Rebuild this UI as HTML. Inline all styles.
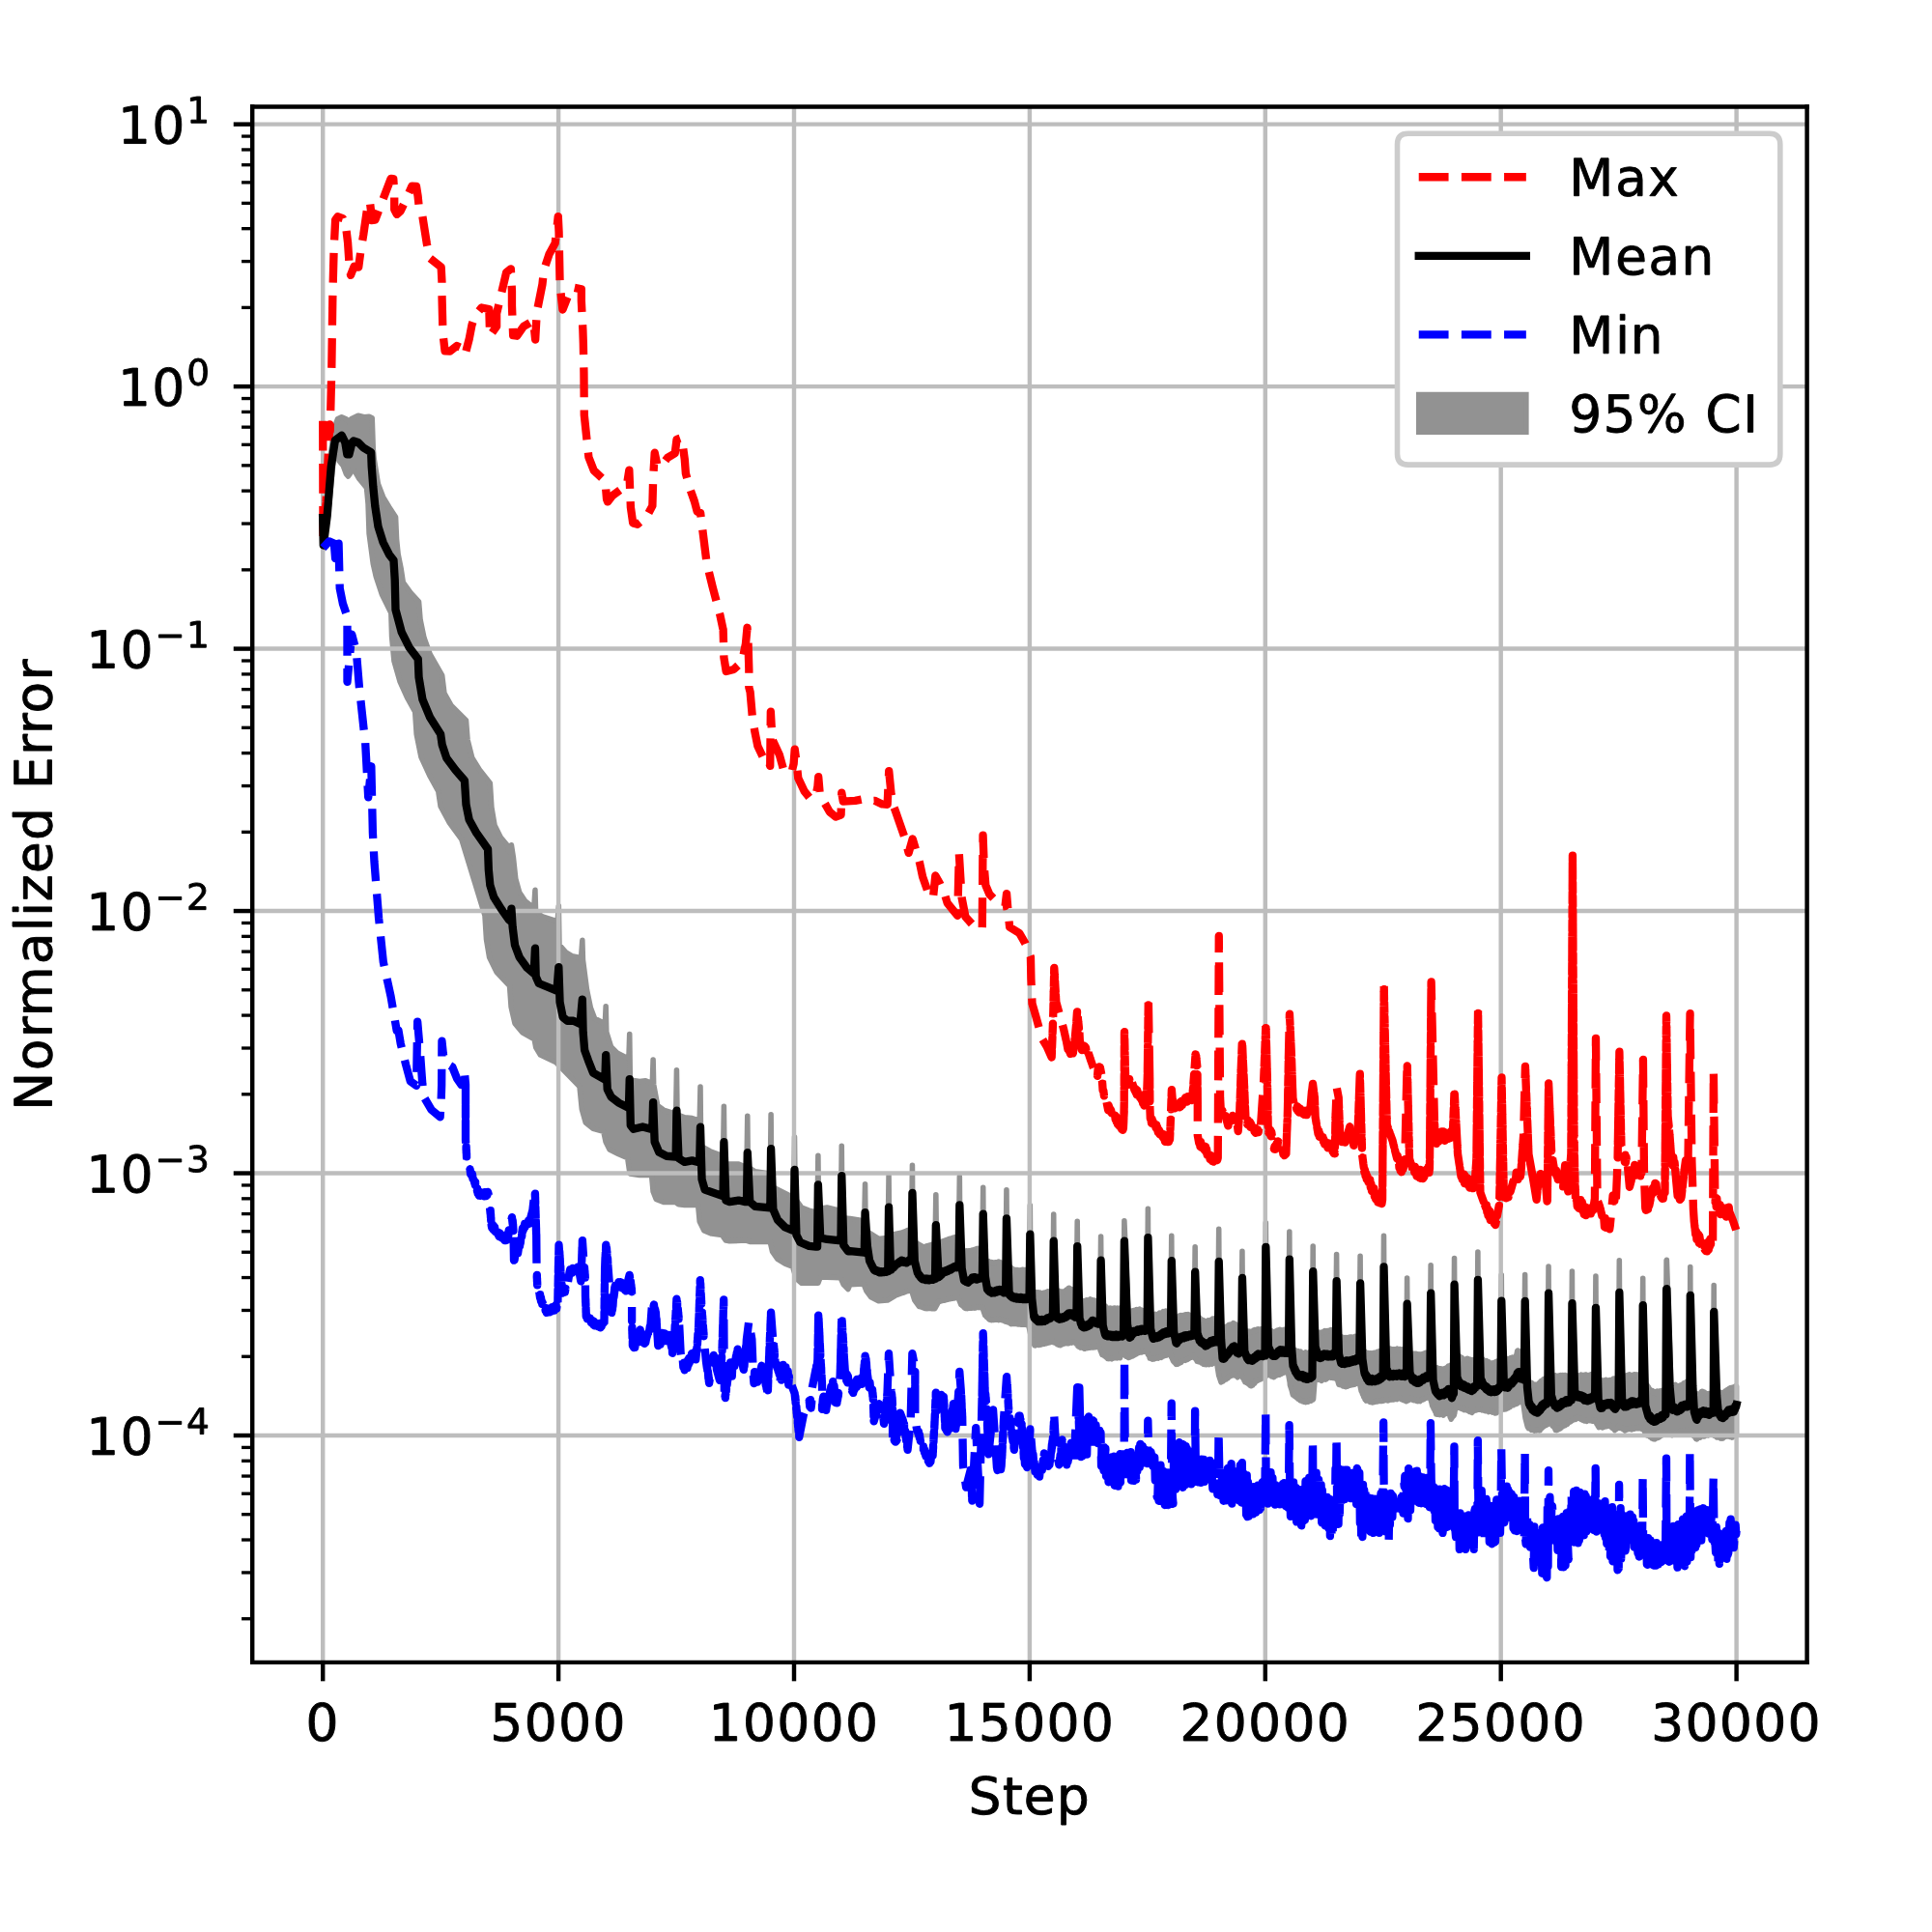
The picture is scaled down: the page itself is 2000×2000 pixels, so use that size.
<!DOCTYPE html>
<html><head><meta charset="utf-8"><title>Normalized Error</title>
<style>html,body{margin:0;padding:0;background:#fff;font-family:"Liberation Sans",sans-serif}svg{display:block}path[id^="DejaVuSans"]{stroke:#000;stroke-width:0.9px;vector-effect:non-scaling-stroke}g[id^="ytick_"] g[id^="text_"]{transform:translate(-0.45px,-0.15px)}#matplotlib\.axis_2>g[id^="text_"]{transform:translate(-0.8px,0)}</style>
</head><body>
<svg width="2000" height="2000" viewBox="0 0 360 360">
 <defs>
  <style type="text/css">*{stroke-linejoin: round; stroke-linecap: butt}</style>
 </defs>
 <g id="figure_1">
  <g id="patch_1">
   <path d="M 0 360 
L 360 360 
L 360 0 
L 0 0 
z
" style="fill: #ffffff"/>
  </g>
  <g id="axes_1">
   <g id="patch_2">
    <path d="M 47.016 309.762 
L 336.708 309.762 
L 336.708 19.89 
L 47.016 19.89 
z
" style="fill: #ffffff"/>
   </g>
   <g id="FillBetweenPolyCollection_1">
    <defs>
     <path id="m67fa3de981" d="M60.15-265.14l0 2.73 .11 4.66 1.07-8.39 1.02-10.25 .84 2.24 .75 .93 .55 1.49 .38 .47 .37-.47 .37-.75 .56 .38 .75 1.3 1.39 1.68 .28 2.98 .19 5.59 .75 5.59 .55 2.46 1.12 3.35 1.67 3.36 .14 4.47 .42 4.47 1.12 3.92 1.4 3.07 1.39 2.52 .28 4.19 .84 4.19 1.68 3.63 1.54 2.8 .42 2.79 1.67 3.08 2.24 3.07 4.34 14.17 .28 4.47 .56 3.35 1.39 2.8 2.38 2.51 .28 3.92 .7 3.07 1.39 1.68 2.24 1.26 .28 1.53 .84 1.4 2.93 1.4 4.38 4.51 .42 4.19 .7 2.51 1.4 1.12 1.95 .56 .42 1.96 .7 1.39 1.68 .84 1.67 .7 .42 2.94 1.82 .28 2.24 0 .28 3.07 .55 1.4 1.4 .56 2.24 0 .56 .42 1.12 .14 2.51 0 .28 3.07 .84 1.68 1.4 .56 1.95 .28 .7 .97 .7 .14 3.07-.14 .84 .28 3.64 0 .42 1.82 .97 1.4 1.4 .84 1.4 .56 .7 2.23 .98 .84 3.07 0 .42-1.12 3.77 .14 .56 1.26 .84 .84 .37-.87 2.52-.14 .55 1.4 .84 1.12 1.4 .7 1.66-.13 1.42-.86 1.11-.43 .35-.09 .72-.3 .89-.16 .55 1.79 .85 1.19 .05-.02 .09 .06 .36 .09 .62 .26 .46 .01 .36-.05 .45 .06 .18-.04 .18 .06 .1-.07 .08 .03 .72-1.28 .18 0 .18-.12 .09 .02 .36-.09 .01-.04 .17 .03 .18-.12 .18 .01 .18-.07 .13 0 .14-.09 .36-.02 .18-.06 .16-.01 .11-.1 .09 .03 .09-.04 .18 .03 .09-.06 .27-.03 .18-.12 .09 .03 .09 .18 .48 1.23 .15 .05 .09 .13 .09 .02 .36 .39 .18 .09 .18-.01 .09 .03 .36-.11 .09 .03 .36 0 .18-.08 .09 .03 .09-.06 .18 .09 .09-.08 .18 .05 .18-.09 .18 0 .09-.05 .18 .09 .09-.07 .09 .03 .09-.05 .17-.02 .01-.05 .08 .04 .01-.02 .55 1.61 .17 .11 .18 .24 .18 .06 .09 .16 .18 .18 .09 .04 .09-.04 .18 .11 .09-.07 .14 0 .04 .03 .09-.03 .09 .04 .18-.07 .09 .03 .09-.08 .09 .08 .09-.08 .09 .08 .09-.05 .18 .12 0-.07 .09-.06 .09 .06 .09-.08 .01 .08 .08-.03 .09 .07 .09-.03 .09 .08 .09-.04 .09 .08 .09-.05 .09 .1 .18 .04 .03 .08 .06-.06 .08 .1 .01-.07 .18 .07 .06-.05 .03 .1 .09 .07 .18 .02 .35 .27 .01-.05 .09 .09 .18-.15 .18 .13 .27-.06 .09 .06 .18 .01 .09-.05 .09 .07 .09-.02 .18 .09 .09-.04 .13 .01 .05-.07 .18 .12 .09-.03 .09 .06 .09-.04 .54 .04 .09-.08 .09 .1 .09-.09 .18 .16 .18-.08 .57 2.7 .56 1.14 .04-.02 .09 .06 .18-.19 .09 .07 .09-.06 .18 .08 .09-.07 .09 .07 .18-.15 .18 .1 .18-.17 .01 .06 .08-.07 .18 .07 .09-.05 .09 .02 .09-.04 .03-.11 .06 .08 .09-.14 .09 .09 .09-.06 .09 .01 .09-.08 .09 .02 .27-.06 .18-.16 .09 .06 .09-.06 .08 .01 .01-.05 .07 .02 .02-.11 .09 .26 .09-.07 .09 .06 .02 .08 .07-.03 .09 .02 .18 .15 .09 .01 .09 .15 .09-.06 .09 .09 .09 0 .09 .13 .18-.11 .03 .13 .06 .02 .18-.22 .09 .08 .09-.1 .09 .03 .05-.12 .04 .09 .09-.08 .09 .01 .27-.14 .07 .01 .02-.05 .18 .12 .09-.09 .09 .08 .09-.1 .09 .08 0-.08 .09 .03 .09-.05 .18-.01 .09 .05 .18-.15 .09 .07 .09-.05 .18 .09 .09-.07 .04 .09 .14-.04 0 .11 .09 .17 .04 0 .14 .16 0-.06 .11 .27 .16 .06 .01 .07 .08-.04 .18 .2 .09-.06 .27 .09 .18 0 .18 .14 0-.05 .09 .09 .18-.18 .18 .08 .09-.04 .09 .03 .18-.14 .09 .07 .09-.06 .09 .04 .04-.13 .05 .12 .09-.08 .18 .07 .09-.02 .09 .03 .09-.05 .09 .04 .09-.06 .18-.02 .09 .04 .08-.05 .01-.1 .09 .09 .09-.12 .09 .1 .09-.12 .09 .1 .09-.12 .06 .34 .03-.03 .09 .14 .09 .4 .07 .1 .23 .64 .15-.1 .09 .2 .09 0 .09 .13 .09-.02 .09 .16 .09 .07 .09 .06 .09-.05 .18 .3 .06 .01 .03-.12 .09 .1 .09-.1 .18 .11 .18-.1 .09 .03 .09 .11 .09-.14 .09-.04 .18 .03 .27-.05 .09-.09 .18 .14 .09-.2 .09 .09 .09-.11 .09 .09 .09-.12 .14 .2 .09-.93 .13 .17 .09-.03 .09 .08 .09 .01 .01 .07 .08-.02 .06 .07 .12-.08 .03 .17 .15-.04 .18 .26 .09-.07 .09 .01 .18 .2 .01-.07 .08 .17 .09-.08 .11 .05 .25-.16 .36-.1 .23-.16 .04-.08 .09 .02 .15-.08 .48-.32 .09 .02 .09-.14 .17-.11 .01 .02 .09-.02 .09 .11 .09-.11 .09 .12 .09-.12 .09 .03 .18-.1 .09 .07 .18 0 .09-.13 .03 .13 .06-.05 .08 .05 .09 .16 .01-.04 .12 .44 .06-.02 .05 .06 .04 .12 .09 .1 .1 .42 .08-.1 .09 .14 .09-.06 .09 .09 .09-.02 .09 .16 .09-.09 .08 .05 .1-.13 .09 .06 .36-.1 .09-.08 .18 .1 .02-.11 .07-.08 .09 .04 .27-.11 .09 .01 .09 .1 .09-.16 .09 .02 .18-.18 .09 .06 .06-.1 .03 .07 .09-.12 .16 .03 .2-.14 .09 .09 .09-.18 .18-.09 .09-.11 .09 .02 .09-.09 .14 .39 .04-.03 .1 .51 .08 .06 .18 .52 .02-.01 .07 .14 .09 .05 .09 .17 .18 .14 .13 .22 .23-.13 .09 .08 .09-.17 .09 0 .09-.09 .09 .06 .16-.32 .02 .12 .09 .08 .09-.17 .18-.09 .09-.13 .09 .04 0-.03 .18-.01 .09-.07 .09 .08 .09-.16 .09 .05 .02-.1 .07-.06 .09 0 .09 .07 .09-.15 .09 .03 .09-.11 .36-.15 .09 .02 .18-.24 .09 .06 .07-.1 .02 .06 .07-.15 .02 .15 .03-.01 .14 .41 .01-.13 .09 .12 .09 .26 .09 .03 .08 .27 .01-.14 .09-.02 .18 .24 .18-.1 .09 .15 .09-.03 .18 .23 .09-.02 .18 .09 .09 .14 .18-.05 .04 .07 .05-.1 .09 .09 .14-.02 .04 .07 .18-.2 .09 .1 .09-.13 .18 .24 .18-.23 .09 .07 .09-.13 .18 .19 0-.09 .09 .02 .09-.14 .09 .08 .18-.35 .09 .03 .09-.19 .09 .07 .09-.13 .45 2.85 .42 1.26 .03-.14 .09 .05 .18-.12 .09 .02 .09-.15 .18-.13 .09-.2 .18 .12 .09-.17 .09-.08 .09-.04 .09 .07 .1-.29 .08 .04 .09-.14 .18 .03 .09-.1 .09 .01 .09-.11 .18-.11 .09 .09 .09-.19 0-.1 .18 .35 .09-.04 .09 .11 .18 .04 .16 .24 .11-.27 .18 .04 .09-.19 .09-.01 .09-.17 0 .13 .03-.09 .06 .04 .33 .69 .03-.03 .18 .3 .09 .27 .09 .03 .03 .17 .06-.07 .09-.02 .18 .24 .09 .05 .09-.06 .09 .19 .09-.06 .09 .2 .06-.09 .03 .16 .09 .1 .16 .03 .02 .04 .09-.12 .09-.04 .09 .03 .09-.19 .09-.03 .09-.13 .09 .01 .18-.39 .09 .06 .09-.16 .18-.04 .06-.1 .03 .1 .09-.16 .09 .01 .09-.1 .09 0 .09-.09 .09 .08 .09-.17 .09 .04 .18-.24 .18 .07 .01-.1 .08 .02 .01-.08 .08 .06 .09-.21 .09-.02 .02 .11 .1-.32 .06 .09 .09-.03 .09-.09 .09 .07 .04-.16 .23 .17 .09 .01 .18 .1 .09 .15 .09-.05 .09 .09 .09 .02 .09-.04 .03 .11 .06 .03 .36-.3 .09 .01 .09-.15 .09 .06 .09 0 .18-.17 .09-.01 .07 .1 .02-.14 .09 .06 .09-.12 .09 .07 .18-.25 .18 .08 .09-.1 .18-.07 .09-.09 .18 .11 .18-.26 .18 .09 .36 2.04 .04 .5 .32 .98 .18 .75 .06 .13 .12 .08 .09-.06 .09 .19 .09-.06 .09 .18 .18 .13 .09-.01 .18 .26 .18-.04 .18 .32 .09-.03 .02 .11 .07-.07 .09 .08 .09-.04 .09 .14 .09-.09 .09-.04 .09 .22 .09-.12 .09-.03 .18 .22 .15-.15 .03 .06 .09-.14 .18 .16 .18-.28 .09 .08 .09 0 .09-.06 .09 .07 .08-.13 .01 .06 .13-.19 .05 .07 .09-.01 .06-.15 .3-3.88 .09 .1 .09-.06 .09 .1 .18 .04 .09-.08 .18 .21 .09-.05 .09 .04 .18 0 .09 .04 .06 .15 .03-.14 .18-.06 .09-.13 .09 .07 .09-.13 .09 .08 .09-.04 .09 .1 .09-.16 .09 .09 .09-.15 .18-.06 .09-.15 .09 .09 .18-.06 .09-.12 .09 .2 .18-.2 .18 .23 .09-.09 .09-.02 .09 .04 .09-.01 .06 .03 .03 .15 .11-.15 .07 .03 .07-.13 .02 .19 .09 .18 0 .09 .09 .18 .22 .75 .05-.02 .09 .06 .09-.06 .09 .1 .09-.05 .09 .09 .18 .04 .09 .13 .18-.2 .09 .27 .18-.2 .09 .26 .18-.29 .18 .2 .09-.13 .18-.03 .09-.15 .09 .12 .09-.08 .09 .05 .09-.11 .09 .08 .09-.15 .09 .12 .09-.05 .09 .02 .09-.1 0 .08 .09-.14 .09 .03 .36-.24 .09-.2 .09 .08 .07-.12 .11 .26 .02 .23 .14 .35 .2 .99 0-.12 .27 .75 .09 .11 .09 .35 .18 .17 .07 .3 .11 .04 .09 .18 .09-.11 .09 0 .27 .15 .09-.01 .18 .21 .09-.06 .36 .15 .03-.11 .06 .11 .09-.14 .09 .1 .18-.04 .09-.13 .09 .09 .09-.05 .18 .01 .09-.04 .09-.15 .09 .11 .18-.03 .09 .03 .18-.14 .18 .11 .09-.23 .09 .09 0 .08 .09-.09 .05 .1 .04-.11 .18 .02 .18-.15 .18 .14 .09-.07 .09 .14 .09-.16 .09 .1 .09-.12 .23-.05 .04 .05 .05-.05 .04 .08 .09-.12 .09 .09 .09-.08 .18 .1 .09-.08 .27-.05 .09-.08 .18 .13 .18-.22 .09 .08 .09-.12 .18 .13 .02-.05 .07 .01 .18 .19 .18-.08 .18 .21 .27 .11 .09-.01 .09 .1 .02-.13 .07 .17 .07-.09 .02 .04 .18-.17 0 .09 .18-.3 .18 .12 .09-.21 .08-.09 .1 .13 .09-.02 .09-.11 .18 .35 .09-.1 .09 .15 .09-.08 .09 0 .09 .08 .09-.05 .18 .22 .09-.03 .09-.1 .04 .15 .14-.05 .09 .02 .09-.09 .09 .1 .18-.28 .09 .03 .09-.11 .18 .06 .09-.09 .09 .02 .18-.15 .18-.04 .09-.11 .09 .05 .18-.06 .09-.1 .09 .04 .07 .11 .02-.14 .09 .09 .03-.13 .24 .95 0-.09 .18 .83 0-.02 .09 .1 .18 .47 .18 .24 .09 .27 .09 .03 .09 .44 .09-.13 .09 .17 .18-.22 .18 .27 .09-.11 .09 .12 .18-.17 .09 .12 .09-.01 .09 .05 .09-.08 .11 .2 .16-.32 .09 .1 .09-.04 .09-.06 .09-.2 .18 .18 .18-.33 .09 .04 .01-.06 .14 .43 .12 .6 .16 .3 .02 .1 .09-.28 .09 .01 .09-.21 .18-.2 .03 .06 .06-.19 0 .12 .06-.35 .03 .01 .09-.63 .18-.49 .09-.41 .18 .28 .09-.05 .09 .03 .18 .21 .09-.03 .18 .1 .09-.1 .05 .18 .13 .04 .09-.02 .09 .11 .09-.01 .09 .09 .09-.04 .09-.13 .09 .18 .09 0 .09 .05 .09-.08 .09 .13 .09-.05 .18 .2 0-.07 .09 .13 .09-.08 .18 .05 .09-.1 .09 .15 .02 .17 .07-.19 .09-.12 .09 .03 .09-.17 .09 .08 .09-.1 .18-.01 .09-.07 .05 .07 .11-.28 .02 .12 .09-.16 .03 .1 .03-.09 .08 .2 .04-.1 .09 .09 .09-.04 .09 .08 .09-.04 .18 .05 .09 .09 .09-.05 .18 .05 .09-.09 .01 .11 .08 .07 .09-.04 .09 .1 .18-.08 .09 .05 .03-.11 .06 .13 .09-.14 .18 .33 .09-.12 .09-.02 .09 .05 .09-.06 .09 .09 .09 .02 .09 .1 .09-.07 .09-.01 .27 .08 .09 .17 .09-.14 .09-.02 0 .04 .09 .07 .18-.33 .09 .08 .09-.12 .18 .03 .09-.14 .11 .03 .07-.12 .1 .06 .08-.06 .03-.11 .06 .08 .09-.15 .09 .09 .09 .01 .09-.07 .09 .01 .05-.06 .04 .06 .09-.12 .09 .09 .09-.18 .09 0 .09-.09 .09 .07 .18-.25 .09 0 .09 .11 .09-.2 .09-.08 0 .03 .36-.17 .09 .04 .09-.13 .09 .02 .09-.11 .12-.07 .06 .11 .18-.33 .09 .22 .09-.17 0 .05 .18-.19 .09 .07 .18-.04 .09-.18 .09 .13 .07 .02 .11-.08 .09-.01 .08 .12 .01-.06 .41 3 .4 1.6 .18 .34 .09-.1 .09-.02 .09 .14 .09-.04 .18 .33 .09-.05 .04-.11 .05 .15 .09-.05 .14 .08 .04-.03 .09 .15 .09-.15 .09 .07 .09-.07 .09 .14 .09-.14 .09 .04 .09-.04 .08 .07 .01-.07 .09 .06 .09-.06 .09 .12 0-.12 .09 .09 .09-.23 .09-.12 .18-.07 .27-.29 .09-.03 .09-.13 .09-.01 .18-.15 .09 .08 .14-.41 .04 .13 .09-.19 .01 .14 .08 .09 .09-.3 .08 .08 .01-.06 .09 .01 .07-.06 .02 .05 .09 .02 .18 .36 .09 .07 .09 .23 .09 0 .18 .22 .09-.01 .18 .51 .09-.05 .02-.13 .16 .23 .09-.2 .02 .14 .07-.18 .09-.11 .09 .02 .09 .1 .09-.19 .09 .09 .09-.18 .09 .06 .09-.15 .27-.12 .18-.18 .16 .03 .11-.17 .09-.02 .09-.21 .18 .13 .18-.42 .09 .1 .09-.19 .18 .08 .03-.12 .06 .01 .02-.07 .06 .07 .01-.1 .09-.02 .04-.05 .05 .03 .05-.08 .22-.07 .09-.08 .09-.21 .18 .23 .09-.2 .09-.09 .18 .05 .09-.1 .09 .16 .27 .06 .18 .16 .09-.04 0-.14 .18 .3 .09-.07 .09 .03 .09 .03 .09 .14 .09-.08 .09 .08 .09-.02 .03-.07 .15 .16 .09-.1 .09-.03 .09 .01 .09-.05 .18 .05 .14-.06 .04 .03 .09-.08 .09 .06 .09 .14 .09-.15 .09 .15 .09-.17 .09 .09 .03-.1 .06 .13 .08-.14 .1 .17 .04 .23 .05-.07 .06 .27 .03-.11 .09 .26 .09 .07 .09 .29 .09 .03 .06 .21 .03-.09 .09-.1 .09 .1 .09-.08 .09 .08 .09-.07 .09 .07 .09 .15 .18-.3 .14 .18 .13-.09 .18 .01 .09-.05 .09 .05 .18-.16 .17-.02 .1 .07 .09-.1 .09-.02 .09 .14 .09 .04 .09 .2 .09-.02 .09 .16 .09 .02 .18 .18 .09-.02 .09 .23 .09-.19 .09 .02 .09-.14 .09 .03 .09-.15 .09 .01 .09-.3 .06 .12 .03-.12 .05 .07 .04 .18 .02-.16 .07 .08 .04-.02 .05 .18 .09-.11 .09-.05 .09 .14 .09-.03 .18 .24 .18-.09 .18 .36 0-.16 .09-.19 .09 .16 .09 .05 .18-.17 .09 .06 .09-.07 .09 .04 .12-.02 .06-.14 .09 .11 .09-.13 .18 .24 .09-.17 .09 .07 .09-.1 .15-.02 .03 .12 .18-.21 .09 .09 .09-.13 .09 .13 .09 0 .09-.14 .09 .14 .09-.17 .09 .17 .09-.13 .09 .13 .09-.13 .09 .13 .08-.09 .01 .09 .09 .11 .04-.11 .05 .13 .09-.19 .09 .2 .09 .1 .36 .88 .18 .07 .09 .14 .09-.03 .18 .11 .09-.05 .09 .16 .09-.07 .07 .17 .02-.13 .18 .33 .18-.1 .18 .26 .09-.23 .18 .26 .01-.17 .08 .09 .18-.24 .09 .01 .18-.07 .09 .12 .09-.19 .09 .06 .18-.32 .09 .12 .05-.17 .04 .12 .09-.12 .09 0 .36-.23 .09-.14 .06 .04 .03-.15 .02 .12 .07-.02 .09 .12 .07-.07 .05 .01 .06 .16 .18-.29 .09 .18 .09 .03 .09-.01 .09-.08 .18 .19 .09-.13 .09 .09 .06 .18 .03-.18 .09-.07 .18 .05 .18-.14 .09-.01 .09 0 .09 .09 .09-.14 .09 .12 .09-.16 .09 .06 .01-.09 .08 .15 .09-.2 .09 .07 .18-.28 .09 .12 .18-.05 .03 .06 .15-.21 .18 .19 .09-.16 .09 .11 .09-.16 .09 .02 .06-.06 .03 .03 .09-.06 .07-.18 .02 .17 .18 .11 .09 .13 .18-.03 .09 .26 .01-.13 .08 .13 .03-.07 .06 .06 .18 .04 .09 .3 .09-.02 .09 .28 .09-.03 .09 .09 .18 .4 .09 .01 .03 .08 .06-.06 .09 .12 .09-.19 .09-.1 .09 .02 .09-.15 .05 .09 .04-.18 .18 .2 .09-.14 .09 0 .09-.08 .07-.18 .02 .14 .09-.07 .09 .02 .09 .1 .09-.15 .09 .1 .09-.16 .09-.05 .09 0 .01-.07 .17 .1 .09-.11 .09 .15 .09-.21 .09-.08 .09 .03 .09-.13 .03 .09 .06 .03 .09-.07 .09 .07 .09-.13 .04 .14 .05-.11 .09 .12 .18 .11 0-.07 .09 .15 .02 .17 .07-.09 .09 .13 .09 .03 .07-.08 .02 .15 .09 .12 .18-.12 .09 .09 .09-.12 .09 .16 .09-.15 .18 .35 .09-.11 .09 0 .09 .05 .02 .07 .07-.11 .09 .07 .18-.3 .18 .03 .18-.26 .04 .05 .05-.07 .09-.01 .05-.05 .13 .24 .09-.15 .09-.06 .18 .3 .07-.14 .02 .17 .18-.26 .17 .35 .01-.15 .09 .09 .09-.24 .09 .04 .09-.19 0 .13 .09-.2 .09-.01 .09-.13 .09 .06 .07-.2 0 .07 0-8.76-.07 .08-.09-.01-.09-.07-.18 .33 0-.14-.09-.09-.09 .11-.09-.03-.09 .05-.01 .12-.08-.11-.09 .17-.09-.14-.09 .1-.02-.09-.07 .12-.18 .02-.18 .27-.09 .05-.04-.14-.05 .22-.09-.08-.05 .19-.04-.15-.09 .2-.09-.08-.09 .15-.18 .07-.09 .12-.09-.05-.07 .06-.02-.04-.09 .13-.09-.19-.36-.12-.09 .05-.09-.11-.09 .12-.09-.18-.09 .14-.09-.19-.09-.03-.09-.15-.09 .09-.07-.06-.11-19.56-.09 20.39 0-.05-.09 .06-.09-.06-.05-.1-.04 .1-.09-.08-.18 .22-.09-.27-.09 .12-.09-.17-.09 .14-.09-.04-.09 .02-.09-.08-.17 .08-.01-.04-.09 .01-.09-.1-.09-.19-.09 .1-.09-.19-.09 .1-.09 .04-.09-.13-.02-.11-.07 .17-.09-.1-.09 .25-.09 .03-.09 .12-.09 .21-.04-.11-.14 0-.09-.07-.09 .07-.09-.13-.09 .13-.06-.06-.03 .06-.09-.12-.09 .12-.09-.11-.09 .11-.09-.13-.09 .13-.17 0-.01 .09-.09-.09-.15 0-.11-23.76-.09 21.53-.01-.08-.09 .08-.09-.18-.09 .18-.18 0-.02-.11-.07 .11-.09-.13-.09 .26-.09-.06-.09 .1-.18-.07-.18 .24-.15 .03-.12 .13-.18 .02-.09 .15-.09-.1-.09 .23-.09 .11-.08 .02-.01 .11-.09-.18-.09-.03-.09-.09-.09-.22-.09 .1-.09-.2-.01 .13-.08 .2-.18-.19-.18 .35-.12-.09-.19 .11-.83-23.76-.05 .08-.14 24.18-.02-.09-.07 .09-.02 .14-.03-.14-.15 .03-.09-.1-.18 .22-.09-.05-.09 .13-.09-.1-.04 .09-.05-.07-.09 .14-.09-.09-.09 .11-.09-.07-.09 .1-.18-.13-.09 .12-.09-.11-.18 .35-.08-.15-.01 .03-.09-.08-.09 .09-.09-.18 0 .12-.18-.32-.09 .06-.09-.08-.18-.03-.18-.24-.09-.07-.18-.35-.09-.04-.09-.23-.09 0-.13-.17-.05 .05-.18-.38-.25-.28-.11-19.15-.14 17.9-.04-.08-.09 .08-.01-.15-.08 .16-.09-.14-.18 .28-.09-.08-.18 .03-.09-.06-.09 .09-.01-.1-.17 .2-.18-.2-.18 .2-.09-.2-.18 .27-.09-.16-.09 .12-.09-.12-.09-.01-.09 .01-.09 .11-.09-.23-.09 .15-.09-.1-.09 .16-.09-.05-.09 .11-.09-.07-.09 .12-.18 .06 0 .09-.18-.09-.18 .17-.09-.03-.09-.14-.18 .31-.09-.06-.09 .16-.05-.12-.11-21.94-.14 21.94-.06 .05-.08-.05-.01 .11-.18-.15-.18 .28-.09-.12-.09 .16-.06-.13-.03 .16-.18-.21-.18 .23-.09-.06-.09 0-.18 .13-.09-.04 0 .15-.09-.13-.18 .04-.01-.03-.17 .09-.09-.04-.09 .05-.09-.04-.09-.13-.09 .14-.09-.03-.09 .04-.04-.03-.14 .14-.09-.09-.09 .1-.18-.19-.09 .11-.09-.15-.18 .25-.09-.08-.03 .05-.06-.04-.09 .07-.09-.06-.09 .1-.09-.09-.03 .15-.11-19.71-.14 18.17-.08-.11-.06 .11-.03-.13-.09 .18-.09-.05-.09 .12-.18 .07-.09 .18-.13-.2-.14 .23-.09-.12-.09 .08-.09-.08-.09 .06-.09-.06-.09 .14-.15-.2-.03 .06-.09-.09-.18 .16-.09-.07-.18 0-.09 .13-.09-.13-.09 .06 0-.06-.09-.08-.18 .23-.09-.09-.09 .08-.18-.1-.18 .23-.09-.25-.09 .14-.09-.04-.18 .16-.18-.12-.09 .09-.09-.03-.04 .05-.1-19.64-.14 19.74-.08-.24-.09 .23-.18-.29-.18 .2-.09-.13-.09-.04-.27-.05-.09 .05-.09-.1-.02 .13-.07-.12-.09 .1-.18-.12-.09 .09-.09-.06-.09 .1-.09-.08-.09 .11-.09-.13-.09 .17-.09-.14-.09 .18-.09-.03-.09 .06-.07-.13-.02 .14-.09 .04-.09-.07-.07 .01-.11-.19-.09 .13-.09-.08-.18 .15-.09-.13-.09 .03-.18-.13-.09 .03-.09-.18-.11 .21-.16-.17-.01 .08-.11-20.27-.14 20.82-.01-.11-.09 .11-.04 .14-.05-.11-.18 .09-.09-.08-.18 .32-.18-.13-.09 .16-.07 .01-.2 .19-.09-.05-.09 .2-.18 .15 0-.08-.18 .29-.09 .02-.01 .1-.08-.08-.09 .05-.27 .01-.09 .09-.09-.06-.09 .11-.09-.08-.04 .04-.05-.08-.09 0-.09-.11-.05-.16-.04 .1-.09-.21-.09 .09-.18-.12-.09 .06-.09-.18-.18-.12-.08-.14-.01 .08-.09 .05-.18-.3-.08 .02-.11-19.56-.14 14.81-.03-.03-.09 .02-.09-.07-.01 .08-.08-.14-.18-.12-.02 .14-.07-.2-.09-.12-.09 .01-.09 .09-.09-.2-.09-.06-.09-.04-.09 .1 0-.15-.09 .11-.09 .47-.18 .59-.06 .08-.03-.09-.18 .22-.09-.03-.09 .13-.18-.17-.09 .16-.09-.12-.09 .18 0 .11-.18-.2-.09 .14-.09 .04-.09-.01-.09 .15-.18-.18-.18 .17-.09-.05-.09 .12-.09-.18-.09 .1-.18 .03-.09-.02-.09 .05-.06 .11-.11-16.01-.14 15.91-.03 .1-.11-.22 0 .12-.09-.03-.18 .25-.09-.08-.09 .08-.18-.01-.09 .07 0-.01-.09 .05-.09 .18-.09-.09-.09 .11-.09-.02-.09 .13-.18-.07-.09 .12-.03-.11-.06 .1-.09-.03-.27-.15-.09-.17-.18 .17-.09-.18-.06 .12-.03-.16-.09-.14-.18 .17-.18-.23-.08 .01-.01 .12-.18-.3-.09 .09-.36-.13-.09 .02-.09-.08-.09 .12-.09-.19-.04 .1-.11-20.01-.14 20.38-.11 .13-.05-.07-.09 .03-.09-.08-.09 .02-.09-.07-.09 .08-.18-.32-.16 .24-.02-.14-.18-.05-.09-.08-.18 .09-.09-.12 0 .12-.18-.2-.09 .08-.09-.15-.18 .29-.09-.14-.09 .03-.18-.07-.09 .04-.09 .13-.03-.13-.06 .01-.18-.35-.04 .11-.14-.12-.09 .04-.09-.19-.09 .07-.18-.34-.18-.03-.18-.38-.03 .14-.06-.12-.09-.01-.09-.18-.02 .09-.1-17.61-.12 19.52-.03 .05-.05-.08-.13 .32-.09-.06-.09 .21-.09-.07-.02 .15-.07-.08-.09 .19-.09-.04-.03 .16-.06-.11-.09 .05-.09-.11-.18 .37-.09-.08-.09 .19-.09-.1-.09 .15-.09-.06-.09 .13-.09-.04-.07 .15-.02-.13-.09 .11-.09-.13-.09-.05-.09 .03-.09 .12-.09-.14-.09 .07-.09-.09-.09 .06-.09-.09-.09 .09-.18-.23-.09 .1-.09 .02-.02-.03-.07 .04-.09-.06-.09-.17-.09 .14-.09-.11-.18 .23-.09-.16 0-.09-.09 .08-.09-.12-.1-18.98-.14 16.57-.03 .12-.09-.12-.02 .03-.25-.08-.09-.08-.09 .05-.09-.14-.09 .1-.09-.14 0 .12-.09 .05-.18-.04-.09 .07-.09 .16-.09-.13-.09 .07-.09-.03-.18 .03-.09 .12-.09-.08-.09 .1-.18-.1-.05 .06-.04-.15-.09 .12-.18-.04-.09-.13-.09 .09-.09-.08-.09 .05-.09-.08-.18 .08-.09-.08-.27-.09-.09 .01-.01-.09-.08 .07-.09-.08-.09 .04-.09 .13-.18-.33-.11-13.78-.09 13.45-.14-.03-.11 .06-.18-.13-.18 .21-.18-.24-.18 .18-.09-.12-.09 .08-.07-.09-.02-.13-.09 .12-.09-.07-.18 .12-.18-.22-.09 .14-.18-.02-.09 .15-.01-.15-.08 .05-.09-.05-.18 0-.09 .08-.09-.08-.18 0-.04 .05-.09-.14-.05 .09-.09-.14-.18 .22-.18-.21-.18 .2-.09-.07-.09 .14-.18-.26-.09 .12-.13-21.16-.14 21.51 0-.07-.09 .03-.09-.03-.18 .12-.09-.02-.09-.11-.09 .16-.09-.07-.18 .18-.09 0-.09-.09-.18 .25-.09-.05-.09 .09-.18-.12-.09 .14-.09-.01-.09 .07-.06-.08-.03 .09-.09 .01-.18-.13-.18 .07-.36-.13-.18 .05-.09-.08-.09 .02-.09-.05-.09-.15-.02 .13-.07-.15-.09 .12-.09-.09-.09 .05-.18-.03-.09-.15-.09 .11 0 .12-.09-.13-.11-17.83-.14 14.99-.02 .04-.06-.14-.05 .22-.07-.07-.09-.03-.09 .05-.09-.04-.09 .06-.09-.04-.09 .05-.09-.11-.09 .13-.18-.01-.18 .08-.18-.09-.09 .09-.09-.06-.09 .08-.09-.07-.18 .14-.18-.07-.09 .05-.18 .02-.09-.07-.09 .22-.09-.12-.09 .08-.06-.07-.03 .07-.18-.2-.09-.03-.09 .08-.09-.18-.09-.01-.27-.18-.09 .06-.05-.14-.04 .06-.09-.13-.09 .06-.09-.16-.11-14.9-.14 14.03-.11 .15-.03-.12-.06 .08-.18-.1-.18 .21-.09-.11-.09-.04-.09 .06-.09-.1-.09 .27-.09-.13-.09 .06-.09-.03-.09 .1-.09-.08-.09 .14-.09-.11-.09-.04-.09 .06-.18 .03-.09-.09-.01 .1-.08 .13-.09-.08-.09 .09-.09-.04-.09 .11-.09-.06-.03 .06-.06-.03-.09 .08-.18-.04-.09 .05-.09-.05-.09 .1-.09-.11-.18 .26-.18-.06-.18 .1-.09-.05-.09 .08-.07-.11-.11-16.3-.14 19.85-.04-.06-.09 .07-.01-.07-.08 .07-.09-.06-.09-.13-.09 .15-.09 .05-.18-.05-.18 .08-.09-.03-.03 .03-.15-.11-.18 .25-.09-.13-.18 .05-.09-.07-.09 .1-.09-.15-.18-.05-.07-.14-.02 .11-.09 .05-.18-.17-.09 .02-.09-.12-.18 .11-.09-.08-.18-.05-.09-.15-.18 .15-.09-.1-.09 .02-.09-.1-.18-.01-.18-.13-.09 .04-.05 .1-.11-22.05-.14 18.32-.14 .21-.03-.2-.07 .1-.09-.09-.18 .2-.18-.25-.09 .1-.09-.14-.18 .18-.09-.08-.09 .02-.27-.05-.09 .1-.11-.16-.16 .2-.18-.09-.09 .15-.09-.04-.09 .13-.09-.04-.18 .24-.18-.09-.09 .2-.09-.13-.09 .05-.18-.31-.18 .08-.09-.16-.09-.02-.09-.09-.09-.18-.05 .09-.04-.16-.09 .08-.09-.08-.15-.03-.1-19.71-.14 20.09-.06 .07-.08-.07-.01 .05-.08-.07-.1-.02-.09-.11-.09 .07-.18-.04-.09-.15-.18 .17-.09-.11-.09 .09-.09-.13-.09 .05-.03-.08-.33 .13-.09 .17-.18-.17-.09 .13-.09-.05-.09 .11-.36 .13-.02 .1-.07-.06-.09 .08-.09-.02-.03 .15-.15-.28-.18 .13-.09-.13-.09 .09-.18-.23-.15 .07-.03-.08-.36-.12-.03-.07-.11-14.58-.14 14.36-.08-.07-.06 .07-.03-.14 0 .12-.09-.19-.09 .05-.09-.02-.18-.26-.09 .01-.02-.1-.07 .03-.18-.14-.09-.12-.18 .02-.09-.17-.09 .03 0-.09-.09-.02-.18 .21-.09-.02-.18 .08-.09 .09-.18-.05-.09 .13-.08-.08-.01 .12-.09 .12-.09-.03-.09 .15-.09-.07-.09 .15-.09-.06-.09 .03-.09 .05-.09 .17-.09-.09-.09 .1-.09-.01-.09-.08-.18 .29-.03-.07-.06-.02-.09 .09-.09-.01-.07 .08-.11-18.78-.14 16.59-.13-.08-.01 .04-.08-.04-.09 .18-.18-.11-.09 .09-.09-.01-.09 .07-.09 .15-.18-.15-.09 .1 0 .13-.09-.1-.09 .1-.09-.03-.18 .07-.09 .12-.18-.11-.09 .12-.27 .13-.32-.15-.04 .04-.18-.17-.18-.04-.27-.18-.09 .08-.18-.35-.09 .09-.09-.1-.18 .07-.09-.15-.01-.09-.08 .04-.09-.08-.08 0-.11-12.96-.14 12.72-.05 .2-.07-.1-.02 .13-.16-.23-.09 .07-.27-.05-.09 .01-.09 .09-.09-.11-.18-.01-.09-.14-.09 .12-.09 .01-.07-.03-.02-.08-.09 .09-.09-.05-.09 .08-.18 .02-.09 .06 0-.05-.09 .05-.09-.03-.09 .08-.09-.06-.09 .1-.11-.12-.16 .18-.09 .03-.09-.07-.09 .18-.09 0-.09 .11-.09 .03-.14 .17-.04-.03-.09 .09-.09 .02-.09 .15-.09-.04-.09 .18-.07-.08-.02 .15-.15-.13-.11-15.77-.14 14.18-.41-.05-.09-.05-.09 .02-.09-.05-.18 .07-.09-.08-.02 .13-.07-.1-.09 .17-.09-.1-.03 .07-.15-.1-.18 .3-.09-.09-.09 .08-.09-.01-.09 .09-.09-.02-.09-.09-.18 .29-.07-.06-.02 .08-.09-.05-.09 .05-.27 .03-.09-.1-.18 .28-.09-.09-.01-.09-.17 .26-.09-.11-.09 .12-.09-.08-.09 .07-.09-.02-.08 .05-.01-.03-.09 .06-.13-.05-.11-20.01-.13 19.21-.08-.08-.01 .08-.08 .05-.18-.1-.09 .01-.18-.21-.09 .07-.09 0-.09-.07-.09 .03-.09-.1-.18-.06-.09 .02-.01-.06-.08-.08-.09 .1-.36 .05-.09-.08-.18 .24-.03-.12-.06-.04-.09 .05-.09 .14-.04-.12-.05 .11-.09-.07-.09 .08-.09-.04-.36 .09-.09 .15-.07-.11-.02 .04-.09-.01-.09 .07-.08-.03-.7-16.96-.15 16.47-.14-.21-.01 .09-.09 .02-.18-.1-.09 .08-.04-.12-.05 .12-.04-.11-.14 .23-.09-.12-.09-.04-.09 .04-.09-.09-.09 .12-.18-.07-.09 .04-.09-.08-.09 .08-.09-.08-.09 .08-.09-.03-.09 .03-.09 .1-.09-.1-.09 .09-.18-.18-.09 .09-.18 0-.09 .04-.09-.12-.09-.03-.09 .06-.18-.35-.09 .04-.09-.17-.09 .05-.09-.16-.09 .04-.27-.19-.09-.17-.11-12.46-.14 12.3-.02 .07-.09-.07-.03-.11-.05 .08-.01-.03-.09-.01-.09 .02-.09-.11-.18-.08-.09 .07-.01-.11-.08 .01-.18-.15-.09 .05-.27-.1-.27-.04-.09-.05-.09 .01-.05-.09-.04 .09-.36 .09-.09 .12-.18-.13-.09 .1-.09-.02-.18 .14-.09-.04 0 .13-.18-.17-.18 .18-.09-.02-.09 .13-.09-.09-.45 .11-.07-.05-.11-15.09-.14 13.2-.04-.04-.09 .04 0 .06-.09-.11-.05 .07-.04-.12-.36-.2-.09-.15-.09 .05-.09-.13-.18 .03-.09-.1-.09 0-.09-.1 0-.09-.09 .15-.09-.04-.18 .31-.09-.05-.09 .02-.09 .16-.09-.01-.09 .18-.09-.06-.09 .01-.09 .1-.09 .01-.09-.06-.09 .03-.09-.06-.18 .06-.09-.09-.09 .02-.09-.1-.18 .12-.18-.21-.09 .09-.09-.05-.09 .02-.09-.11-.09 .08-.07-.11-.11-14.1-.14 14.2-.04-.12-.02 .12-.08 0-.08 .1-.09-.05-.09 .09-.09-.03-.09 .06-.09-.01-.09 .09-.18-.08-.09 .1-.09-.03-.18 .21-.09-.07-.06 .05-.03-.03-.09 .1-.18-.09-.09 .1-.17 .05-.01 .09-.09-.1-.09 .04-.18-.18-.18 .17-.18-.21-.09 .08-.09-.12-.18 .17-.18-.21-.13 .15-.14-.16-.18 .1-.18-.1-.18 .01-.05 .07-.11-16.22-.14 11.95-.06-.04-.09 .06-.09-.01-.09 .07-.09-.06-.09 .06-.09-.04-.09 .08-.09-.07-.09 .08-.09-.06-.09-.02-.09 .03-.09-.05-.09 .07-.09-.04-.18 .08-.09-.01-.09 .08-.05-.07-.04 .02-.36-.1-.36 .02-.09-.05-.18-.02-.08 .08-.01-.1-.09 0-.09-.12-.09 .01-.09-.14-.09 .01-.1-.21-.08 .01-.09-.12-.09 0-.09-.15-.09 .02-.09-.06-.09-.06-.03-.08-.11-13.97-.14 13.78-.08-.03-.06 .05-.03-.06-.18-.04-.09 .05-.09-.09-.27-.04-.18-.1-.18-.01-.09 .05-.09-.09 0-.08-.09 .09-.09-.02-.18 .09-.09-.02-.09 .06-.09-.04-.09 .04-.09-.02-.09 .08-.18-.12-.09 .13-.18-.18-.09 .05-.18-.05-.06 .06-.12-.17-.09 .04-.09-.09-.18 .07-.18-.16-.17 .05-.1-.11-.09 .04-.07-.05-.11-13.61-.14 11.41-.04 .07-.01-.07-.08 .03-.01-.03-.08 .04-.09-.04-.54 0-.04-.04-.05 .05-.09-.01-.27 .12-.09-.01-.09 .08-.18 .06-.18 .01-.09 .05-.09-.02-.18 .13-.09-.01 0 .05-.09-.04-.54 .04-.09-.04-.12 .07-.51 .01-.18 .06-.15-.06-.03 .04-.09-.03-.05 .04-.11-13.97-.14 11.12-.06 .06-.27 .05-.09 .07-.09-.03-.18 .05-.09-.03-.09 .07-.09-.02-.09 .07-.09-.02-.27 .17-.18 0-.5 .18-.13 0-.09 .07-.63 .21-.45 .24-.27 .09-.09 .08-.02-.03-.25 .13-.14 .01-.11-9.16-.14 9.2-.14-.03-.28 .11-.18 0-.27 .1-.18 .01-.36 .15-.18 .01-.09 .06-.36 .08-.09 .06-.18-.06-.18-.14-1.65-.91-.11-14.12-.14 11.85-.14 .02-.3 .15-.36 .1-.09 .08-1.07 .39-2.17 .42-.12-11.05-.15 11.6-.21-.01-1.54 .15-2.41-1.54-.1-8.66-.14 6.98-.14 0-.84-.28-1.68-.27-1.46-.12-.11-13.41-.14 12.02-.2 0-2.37-.56-1.57 .28-.11-9.93-.14 10.49-.28 0-1.26-.28-1.39-.56-1.21-1.68-.11-11.46-.14 11.18-.22 0-3.92-1.96-.11-13.41-.14 11.04-2.82-.42-1.32-.84-.1-9.5-.14 9.5-.25 0-1.26-.56-2.63 0-.11-10.76-.14 9.22-.2 0-2.23-.83-1.71-.98-.11-11.04-.14 6.29-.14 0-1.26-.42-1.39-.14-1.38-.56-.11-8.25-.14 8.11-.19 0-2.1-.7-1.12-.84-.73-3.91-.1-4.61-.14 4.33-.28 0-.98-.42-1.12 .14-1.76-.28-.11-8.53-.14 4.39-.51-.05-1.67-.84-1.12-1.12-.87-2.79-.11-4.78-.14 3.1-.28 0-1.67-.84-.75-1.99-.7-3.35-.73-5.59-.11-3.64-.22 3.22-.33 0-1.4-.28-1.12-.7-1.23-1.4-.11-7.27-.2 2.8-.42 0-2.51-.84-1.15-.84-.11-4.05-.2 3.21-.36-.14-1.26-.98-1.11-1.67-.7-2.52-.42-3.91-.37-2.38-.19 1.26-.42-.14-.01-.89-1.39-1.67-1.12-2.24-.56-3.35-.28-4.48-1.96-2.51-1.39-2.24-.84-3.35-.28-3.64-2.8-2.79-1.26-2.24-.41-3.35-2.24-3.91-1.12-3.08-.7-3.35-.28-3.36-1.53-1.67-1.4-1.96-.37-2.46-.56-2.79-.28-2.8-.18-4.1-1.21-1.86-1.12-1.87-.93-2.42-.75-4.66-.18-1.86-.19-5.78-.56-.28-.93 .1-1.12-.28-1.3 .65-.38 .56-.56-.56-.83-.37-.75 .37-.56 1.49-2.2 15.28z" style="stroke: #929292"/>
    </defs>
    <g clip-path="url(#p6d096c0628)">
     <use href="#m67fa3de981" x="0" y="360" style="fill: #929292; stroke: #929292"/>
    </g>
   </g>
   <g id="matplotlib.axis_1">
    <g id="xtick_1">
     <g id="line2d_1">
      <path d="M 60.156 309.762 
L 60.156 19.89 
" clip-path="url(#p6d096c0628)" style="fill: none; stroke: #bdbdbd; stroke-width: 0.8; stroke-linecap: square"/>
     </g>
     <g id="line2d_2">
      <defs>
       <path id="m1504cfccaf" d="M 0 0 
L 0 3.5 
" style="stroke: #000000; stroke-width: 0.8"/>
      </defs>
      <g>
       <use href="#m1504cfccaf" x="60.156" y="309.762" style="stroke: #000000; stroke-width: 0.8"/>
      </g>
     </g>
     <g id="text_1">
      <g transform="translate(56.974 324.360) scale(0.1 -0.1)">
       <defs>
        <path id="DejaVuSans-30" d="M 2034 4250 
Q 1547 4250 1301 3770 
Q 1056 3291 1056 2328 
Q 1056 1369 1301 889 
Q 1547 409 2034 409 
Q 2525 409 2770 889 
Q 3016 1369 3016 2328 
Q 3016 3291 2770 3770 
Q 2525 4250 2034 4250 
z
M 2034 4750 
Q 2819 4750 3233 4129 
Q 3647 3509 3647 2328 
Q 3647 1150 3233 529 
Q 2819 -91 2034 -91 
Q 1250 -91 836 529 
Q 422 1150 422 2328 
Q 422 3509 836 4129 
Q 1250 4750 2034 4750 
z
" transform="scale(0.015)"/>
       </defs>
       <use href="#DejaVuSans-30"/>
      </g>
     </g>
    </g>
    <g id="xtick_2">
     <g id="line2d_3">
      <path d="M 104.058 309.762 
L 104.058 19.89 
" clip-path="url(#p6d096c0628)" style="fill: none; stroke: #bdbdbd; stroke-width: 0.8; stroke-linecap: square"/>
     </g>
     <g id="line2d_4">
      <g>
       <use href="#m1504cfccaf" x="104.058" y="309.762" style="stroke: #000000; stroke-width: 0.8"/>
      </g>
     </g>
     <g id="text_2">
      <g transform="translate(91.333 324.360) scale(0.1 -0.1)">
       <defs>
        <path id="DejaVuSans-35" d="M 691 4666 
L 3169 4666 
L 3169 4134 
L 1269 4134 
L 1269 2991 
Q 1406 3038 1543 3061 
Q 1681 3084 1819 3084 
Q 2600 3084 3056 2656 
Q 3513 2228 3513 1497 
Q 3513 744 3044 326 
Q 2575 -91 1722 -91 
Q 1428 -91 1123 -41 
Q 819 9 494 109 
L 494 744 
Q 775 591 1075 516 
Q 1375 441 1709 441 
Q 2250 441 2565 725 
Q 2881 1009 2881 1497 
Q 2881 1984 2565 2268 
Q 2250 2553 1709 2553 
Q 1456 2553 1204 2497 
Q 953 2441 691 2322 
L 691 4666 
z
" transform="scale(0.015)"/>
       </defs>
       <use href="#DejaVuSans-35"/>
       <use href="#DejaVuSans-30" transform="translate(63.623 0)"/>
       <use href="#DejaVuSans-30" transform="translate(127.246 0)"/>
       <use href="#DejaVuSans-30" transform="translate(190.869 0)"/>
      </g>
     </g>
    </g>
    <g id="xtick_3">
     <g id="line2d_5">
      <path d="M 147.96 309.762 
L 147.96 19.89 
" clip-path="url(#p6d096c0628)" style="fill: none; stroke: #bdbdbd; stroke-width: 0.8; stroke-linecap: square"/>
     </g>
     <g id="line2d_6">
      <g>
       <use href="#m1504cfccaf" x="147.96" y="309.762" style="stroke: #000000; stroke-width: 0.8"/>
      </g>
     </g>
     <g id="text_3">
      <g transform="translate(132.053 324.360) scale(0.1 -0.1)">
       <defs>
        <path id="DejaVuSans-31" d="M 794 531 
L 1825 531 
L 1825 4091 
L 703 3866 
L 703 4441 
L 1819 4666 
L 2450 4666 
L 2450 531 
L 3481 531 
L 3481 0 
L 794 0 
L 794 531 
z
" transform="scale(0.015)"/>
       </defs>
       <use href="#DejaVuSans-31"/>
       <use href="#DejaVuSans-30" transform="translate(63.623 0)"/>
       <use href="#DejaVuSans-30" transform="translate(127.246 0)"/>
       <use href="#DejaVuSans-30" transform="translate(190.869 0)"/>
       <use href="#DejaVuSans-30" transform="translate(254.492 0)"/>
      </g>
     </g>
    </g>
    <g id="xtick_4">
     <g id="line2d_7">
      <path d="M 191.862 309.762 
L 191.862 19.89 
" clip-path="url(#p6d096c0628)" style="fill: none; stroke: #bdbdbd; stroke-width: 0.8; stroke-linecap: square"/>
     </g>
     <g id="line2d_8">
      <g>
       <use href="#m1504cfccaf" x="191.862" y="309.762" style="stroke: #000000; stroke-width: 0.8"/>
      </g>
     </g>
     <g id="text_4">
      <g transform="translate(175.955 324.360) scale(0.1 -0.1)">
       <use href="#DejaVuSans-31"/>
       <use href="#DejaVuSans-35" transform="translate(63.623 0)"/>
       <use href="#DejaVuSans-30" transform="translate(127.246 0)"/>
       <use href="#DejaVuSans-30" transform="translate(190.869 0)"/>
       <use href="#DejaVuSans-30" transform="translate(254.492 0)"/>
      </g>
     </g>
    </g>
    <g id="xtick_5">
     <g id="line2d_9">
      <path d="M 235.764 309.762 
L 235.764 19.89 
" clip-path="url(#p6d096c0628)" style="fill: none; stroke: #bdbdbd; stroke-width: 0.8; stroke-linecap: square"/>
     </g>
     <g id="line2d_10">
      <g>
       <use href="#m1504cfccaf" x="235.764" y="309.762" style="stroke: #000000; stroke-width: 0.8"/>
      </g>
     </g>
     <g id="text_5">
      <g transform="translate(219.857 324.360) scale(0.1 -0.1)">
       <defs>
        <path id="DejaVuSans-32" d="M 1228 531 
L 3431 531 
L 3431 0 
L 469 0 
L 469 531 
Q 828 903 1448 1529 
Q 2069 2156 2228 2338 
Q 2531 2678 2651 2914 
Q 2772 3150 2772 3378 
Q 2772 3750 2511 3984 
Q 2250 4219 1831 4219 
Q 1534 4219 1204 4116 
Q 875 4013 500 3803 
L 500 4441 
Q 881 4594 1212 4672 
Q 1544 4750 1819 4750 
Q 2544 4750 2975 4387 
Q 3406 4025 3406 3419 
Q 3406 3131 3298 2873 
Q 3191 2616 2906 2266 
Q 2828 2175 2409 1742 
Q 1991 1309 1228 531 
z
" transform="scale(0.015)"/>
       </defs>
       <use href="#DejaVuSans-32"/>
       <use href="#DejaVuSans-30" transform="translate(63.623 0)"/>
       <use href="#DejaVuSans-30" transform="translate(127.246 0)"/>
       <use href="#DejaVuSans-30" transform="translate(190.869 0)"/>
       <use href="#DejaVuSans-30" transform="translate(254.492 0)"/>
      </g>
     </g>
    </g>
    <g id="xtick_6">
     <g id="line2d_11">
      <path d="M 279.666 309.762 
L 279.666 19.89 
" clip-path="url(#p6d096c0628)" style="fill: none; stroke: #bdbdbd; stroke-width: 0.8; stroke-linecap: square"/>
     </g>
     <g id="line2d_12">
      <g>
       <use href="#m1504cfccaf" x="279.666" y="309.762" style="stroke: #000000; stroke-width: 0.8"/>
      </g>
     </g>
     <g id="text_6">
      <g transform="translate(263.759 324.360) scale(0.1 -0.1)">
       <use href="#DejaVuSans-32"/>
       <use href="#DejaVuSans-35" transform="translate(63.623 0)"/>
       <use href="#DejaVuSans-30" transform="translate(127.246 0)"/>
       <use href="#DejaVuSans-30" transform="translate(190.869 0)"/>
       <use href="#DejaVuSans-30" transform="translate(254.492 0)"/>
      </g>
     </g>
    </g>
    <g id="xtick_7">
     <g id="line2d_13">
      <path d="M 323.568 309.762 
L 323.568 19.89 
" clip-path="url(#p6d096c0628)" style="fill: none; stroke: #bdbdbd; stroke-width: 0.8; stroke-linecap: square"/>
     </g>
     <g id="line2d_14">
      <g>
       <use href="#m1504cfccaf" x="323.568" y="309.762" style="stroke: #000000; stroke-width: 0.8"/>
      </g>
     </g>
     <g id="text_7">
      <g transform="translate(307.661 324.360) scale(0.1 -0.1)">
       <defs>
        <path id="DejaVuSans-33" d="M 2597 2516 
Q 3050 2419 3304 2112 
Q 3559 1806 3559 1356 
Q 3559 666 3084 287 
Q 2609 -91 1734 -91 
Q 1441 -91 1130 -33 
Q 819 25 488 141 
L 488 750 
Q 750 597 1062 519 
Q 1375 441 1716 441 
Q 2309 441 2620 675 
Q 2931 909 2931 1356 
Q 2931 1769 2642 2001 
Q 2353 2234 1838 2234 
L 1294 2234 
L 1294 2753 
L 1863 2753 
Q 2328 2753 2575 2939 
Q 2822 3125 2822 3475 
Q 2822 3834 2567 4026 
Q 2313 4219 1838 4219 
Q 1578 4219 1281 4162 
Q 984 4106 628 3988 
L 628 4550 
Q 988 4650 1302 4700 
Q 1616 4750 1894 4750 
Q 2613 4750 3031 4423 
Q 3450 4097 3450 3541 
Q 3450 3153 3228 2886 
Q 3006 2619 2597 2516 
z
" transform="scale(0.015)"/>
       </defs>
       <use href="#DejaVuSans-33"/>
       <use href="#DejaVuSans-30" transform="translate(63.623 0)"/>
       <use href="#DejaVuSans-30" transform="translate(127.246 0)"/>
       <use href="#DejaVuSans-30" transform="translate(190.869 0)"/>
       <use href="#DejaVuSans-30" transform="translate(254.492 0)"/>
      </g>
     </g>
    </g>
    <g id="text_8">
     <g transform="translate(180.476 338.038) scale(0.1 -0.1)">
      <defs>
       <path id="DejaVuSans-53" d="M 3425 4513 
L 3425 3897 
Q 3066 4069 2747 4153 
Q 2428 4238 2131 4238 
Q 1616 4238 1336 4038 
Q 1056 3838 1056 3469 
Q 1056 3159 1242 3001 
Q 1428 2844 1947 2747 
L 2328 2669 
Q 3034 2534 3370 2195 
Q 3706 1856 3706 1288 
Q 3706 609 3251 259 
Q 2797 -91 1919 -91 
Q 1588 -91 1214 -16 
Q 841 59 441 206 
L 441 856 
Q 825 641 1194 531 
Q 1563 422 1919 422 
Q 2459 422 2753 634 
Q 3047 847 3047 1241 
Q 3047 1584 2836 1778 
Q 2625 1972 2144 2069 
L 1759 2144 
Q 1053 2284 737 2584 
Q 422 2884 422 3419 
Q 422 4038 858 4394 
Q 1294 4750 2059 4750 
Q 2388 4750 2728 4690 
Q 3069 4631 3425 4513 
z
" transform="scale(0.015)"/>
       <path id="DejaVuSans-74" d="M 1172 4494 
L 1172 3500 
L 2356 3500 
L 2356 3053 
L 1172 3053 
L 1172 1153 
Q 1172 725 1289 603 
Q 1406 481 1766 481 
L 2356 481 
L 2356 0 
L 1766 0 
Q 1100 0 847 248 
Q 594 497 594 1153 
L 594 3053 
L 172 3053 
L 172 3500 
L 594 3500 
L 594 4494 
L 1172 4494 
z
" transform="scale(0.015)"/>
       <path id="DejaVuSans-65" d="M 3597 1894 
L 3597 1613 
L 953 1613 
Q 991 1019 1311 708 
Q 1631 397 2203 397 
Q 2534 397 2845 478 
Q 3156 559 3463 722 
L 3463 178 
Q 3153 47 2828 -22 
Q 2503 -91 2169 -91 
Q 1331 -91 842 396 
Q 353 884 353 1716 
Q 353 2575 817 3079 
Q 1281 3584 2069 3584 
Q 2775 3584 3186 3129 
Q 3597 2675 3597 1894 
z
M 3022 2063 
Q 3016 2534 2758 2815 
Q 2500 3097 2075 3097 
Q 1594 3097 1305 2825 
Q 1016 2553 972 2059 
L 3022 2063 
z
" transform="scale(0.015)"/>
       <path id="DejaVuSans-70" d="M 1159 525 
L 1159 -1331 
L 581 -1331 
L 581 3500 
L 1159 3500 
L 1159 2969 
Q 1341 3281 1617 3432 
Q 1894 3584 2278 3584 
Q 2916 3584 3314 3078 
Q 3713 2572 3713 1747 
Q 3713 922 3314 415 
Q 2916 -91 2278 -91 
Q 1894 -91 1617 61 
Q 1341 213 1159 525 
z
M 3116 1747 
Q 3116 2381 2855 2742 
Q 2594 3103 2138 3103 
Q 1681 3103 1420 2742 
Q 1159 2381 1159 1747 
Q 1159 1113 1420 752 
Q 1681 391 2138 391 
Q 2594 391 2855 752 
Q 3116 1113 3116 1747 
z
" transform="scale(0.015)"/>
      </defs>
      <use href="#DejaVuSans-53"/>
      <use href="#DejaVuSans-74" transform="translate(63.476 0)"/>
      <use href="#DejaVuSans-65" transform="translate(102.685 0)"/>
      <use href="#DejaVuSans-70" transform="translate(164.208 0)"/>
     </g>
    </g>
   </g>
   <g id="matplotlib.axis_2">
    <g id="ytick_1">
     <g id="line2d_15">
      <path d="M 47.016 267.48 
L 336.708 267.48 
" clip-path="url(#p6d096c0628)" style="fill: none; stroke: #bdbdbd; stroke-width: 0.8; stroke-linecap: square"/>
     </g>
     <g id="line2d_16">
      <defs>
       <path id="m5d545ce8f8" d="M 0 0 
L -3.5 0 
" style="stroke: #000000; stroke-width: 0.8"/>
      </defs>
      <g>
       <use href="#m5d545ce8f8" x="47.016" y="267.48" style="stroke: #000000; stroke-width: 0.8"/>
      </g>
     </g>
     <g id="text_9">
      <g transform="translate(16.516 271.279) scale(0.1 -0.1)">
       <defs>
        <path id="DejaVuSans-2212" d="M 678 2272 
L 4684 2272 
L 4684 1741 
L 678 1741 
L 678 2272 
z
" transform="scale(0.015)"/>
        <path id="DejaVuSans-34" d="M 2419 4116 
L 825 1625 
L 2419 1625 
L 2419 4116 
z
M 2253 4666 
L 3047 4666 
L 3047 1625 
L 3713 1625 
L 3713 1100 
L 3047 1100 
L 3047 0 
L 2419 0 
L 2419 1100 
L 313 1100 
L 313 1709 
L 2253 4666 
z
" transform="scale(0.015)"/>
       </defs>
       <use href="#DejaVuSans-31" transform="translate(0 0.684)"/>
       <use href="#DejaVuSans-30" transform="translate(63.623 0.684)"/>
       <use href="#DejaVuSans-2212" transform="translate(128.203 38.965) scale(0.7)"/>
       <use href="#DejaVuSans-34" transform="translate(186.855 38.965) scale(0.7)"/>
      </g>
     </g>
    </g>
    <g id="ytick_2">
     <g id="line2d_17">
      <path d="M 47.016 218.615 
L 336.708 218.615 
" clip-path="url(#p6d096c0628)" style="fill: none; stroke: #bdbdbd; stroke-width: 0.8; stroke-linecap: square"/>
     </g>
     <g id="line2d_18">
      <g>
       <use href="#m5d545ce8f8" x="47.016" y="218.615" style="stroke: #000000; stroke-width: 0.8"/>
      </g>
     </g>
     <g id="text_10">
      <g transform="translate(16.516 222.414) scale(0.1 -0.1)">
       <use href="#DejaVuSans-31" transform="translate(0 0.765)"/>
       <use href="#DejaVuSans-30" transform="translate(63.623 0.765)"/>
       <use href="#DejaVuSans-2212" transform="translate(128.203 39.046) scale(0.7)"/>
       <use href="#DejaVuSans-33" transform="translate(186.855 39.046) scale(0.7)"/>
      </g>
     </g>
    </g>
    <g id="ytick_3">
     <g id="line2d_19">
      <path d="M 47.016 169.750 
L 336.708 169.750 
" clip-path="url(#p6d096c0628)" style="fill: none; stroke: #bdbdbd; stroke-width: 0.8; stroke-linecap: square"/>
     </g>
     <g id="line2d_20">
      <g>
       <use href="#m5d545ce8f8" x="47.016" y="169.750" style="stroke: #000000; stroke-width: 0.8"/>
      </g>
     </g>
     <g id="text_11">
      <g transform="translate(16.516 173.550) scale(0.1 -0.1)">
       <use href="#DejaVuSans-31" transform="translate(0 0.765)"/>
       <use href="#DejaVuSans-30" transform="translate(63.623 0.765)"/>
       <use href="#DejaVuSans-2212" transform="translate(128.203 39.046) scale(0.7)"/>
       <use href="#DejaVuSans-32" transform="translate(186.855 39.046) scale(0.7)"/>
      </g>
     </g>
    </g>
    <g id="ytick_4">
     <g id="line2d_21">
      <path d="M 47.016 120.886 
L 336.708 120.886 
" clip-path="url(#p6d096c0628)" style="fill: none; stroke: #bdbdbd; stroke-width: 0.8; stroke-linecap: square"/>
     </g>
     <g id="line2d_22">
      <g>
       <use href="#m5d545ce8f8" x="47.016" y="120.886" style="stroke: #000000; stroke-width: 0.8"/>
      </g>
     </g>
     <g id="text_12">
      <g transform="translate(16.516 124.685) scale(0.1 -0.1)">
       <use href="#DejaVuSans-31" transform="translate(0 0.684)"/>
       <use href="#DejaVuSans-30" transform="translate(63.623 0.684)"/>
       <use href="#DejaVuSans-2212" transform="translate(128.203 38.965) scale(0.7)"/>
       <use href="#DejaVuSans-31" transform="translate(186.855 38.965) scale(0.7)"/>
      </g>
     </g>
    </g>
    <g id="ytick_5">
     <g id="line2d_23">
      <path d="M 47.016 72.021 
L 336.708 72.021 
" clip-path="url(#p6d096c0628)" style="fill: none; stroke: #bdbdbd; stroke-width: 0.8; stroke-linecap: square"/>
     </g>
     <g id="line2d_24">
      <g>
       <use href="#m5d545ce8f8" x="47.016" y="72.021" style="stroke: #000000; stroke-width: 0.8"/>
      </g>
     </g>
     <g id="text_13">
      <g transform="translate(22.416 75.820) scale(0.1 -0.1)">
       <use href="#DejaVuSans-31" transform="translate(0 0.765)"/>
       <use href="#DejaVuSans-30" transform="translate(63.623 0.765)"/>
       <use href="#DejaVuSans-30" transform="translate(128.203 39.046) scale(0.7)"/>
      </g>
     </g>
    </g>
    <g id="ytick_6">
     <g id="line2d_25">
      <path d="M 47.016 23.157 
L 336.708 23.157 
" clip-path="url(#p6d096c0628)" style="fill: none; stroke: #bdbdbd; stroke-width: 0.8; stroke-linecap: square"/>
     </g>
     <g id="line2d_26">
      <g>
       <use href="#m5d545ce8f8" x="47.016" y="23.157" style="stroke: #000000; stroke-width: 0.8"/>
      </g>
     </g>
     <g id="text_14">
      <g transform="translate(22.416 26.956) scale(0.1 -0.1)">
       <use href="#DejaVuSans-31" transform="translate(0 0.684)"/>
       <use href="#DejaVuSans-30" transform="translate(63.623 0.684)"/>
       <use href="#DejaVuSans-31" transform="translate(128.203 38.965) scale(0.7)"/>
      </g>
     </g>
    </g>
    <g id="ytick_7">
     <g id="line2d_27">
      <defs>
       <path id="mc3d89a154a" d="M 0 0 
L -2 0 
" style="stroke: #000000; stroke-width: 0.6"/>
      </defs>
      <g>
       <use href="#mc3d89a154a" x="47.016" y="301.634" style="stroke: #000000; stroke-width: 0.6"/>
      </g>
     </g>
    </g>
    <g id="ytick_8">
     <g id="line2d_28">
      <g>
       <use href="#mc3d89a154a" x="47.016" y="293.030" style="stroke: #000000; stroke-width: 0.6"/>
      </g>
     </g>
    </g>
    <g id="ytick_9">
     <g id="line2d_29">
      <g>
       <use href="#mc3d89a154a" x="47.016" y="286.925" style="stroke: #000000; stroke-width: 0.6"/>
      </g>
     </g>
    </g>
    <g id="ytick_10">
     <g id="line2d_30">
      <g>
       <use href="#mc3d89a154a" x="47.016" y="282.189" style="stroke: #000000; stroke-width: 0.6"/>
      </g>
     </g>
    </g>
    <g id="ytick_11">
     <g id="line2d_31">
      <g>
       <use href="#mc3d89a154a" x="47.016" y="278.320" style="stroke: #000000; stroke-width: 0.6"/>
      </g>
     </g>
    </g>
    <g id="ytick_12">
     <g id="line2d_32">
      <g>
       <use href="#mc3d89a154a" x="47.016" y="275.049" style="stroke: #000000; stroke-width: 0.6"/>
      </g>
     </g>
    </g>
    <g id="ytick_13">
     <g id="line2d_33">
      <g>
       <use href="#mc3d89a154a" x="47.016" y="272.215" style="stroke: #000000; stroke-width: 0.6"/>
      </g>
     </g>
    </g>
    <g id="ytick_14">
     <g id="line2d_34">
      <g>
       <use href="#mc3d89a154a" x="47.016" y="269.715" style="stroke: #000000; stroke-width: 0.6"/>
      </g>
     </g>
    </g>
    <g id="ytick_15">
     <g id="line2d_35">
      <g>
       <use href="#mc3d89a154a" x="47.016" y="252.770" style="stroke: #000000; stroke-width: 0.6"/>
      </g>
     </g>
    </g>
    <g id="ytick_16">
     <g id="line2d_36">
      <g>
       <use href="#mc3d89a154a" x="47.016" y="244.165" style="stroke: #000000; stroke-width: 0.6"/>
      </g>
     </g>
    </g>
    <g id="ytick_17">
     <g id="line2d_37">
      <g>
       <use href="#mc3d89a154a" x="47.016" y="238.060" style="stroke: #000000; stroke-width: 0.6"/>
      </g>
     </g>
    </g>
    <g id="ytick_18">
     <g id="line2d_38">
      <g>
       <use href="#mc3d89a154a" x="47.016" y="233.325" style="stroke: #000000; stroke-width: 0.6"/>
      </g>
     </g>
    </g>
    <g id="ytick_19">
     <g id="line2d_39">
      <g>
       <use href="#mc3d89a154a" x="47.016" y="229.455" style="stroke: #000000; stroke-width: 0.6"/>
      </g>
     </g>
    </g>
    <g id="ytick_20">
     <g id="line2d_40">
      <g>
       <use href="#mc3d89a154a" x="47.016" y="226.184" style="stroke: #000000; stroke-width: 0.6"/>
      </g>
     </g>
    </g>
    <g id="ytick_21">
     <g id="line2d_41">
      <g>
       <use href="#mc3d89a154a" x="47.016" y="223.350" style="stroke: #000000; stroke-width: 0.6"/>
      </g>
     </g>
    </g>
    <g id="ytick_22">
     <g id="line2d_42">
      <g>
       <use href="#mc3d89a154a" x="47.016" y="220.851" style="stroke: #000000; stroke-width: 0.6"/>
      </g>
     </g>
    </g>
    <g id="ytick_23">
     <g id="line2d_43">
      <g>
       <use href="#mc3d89a154a" x="47.016" y="203.905" style="stroke: #000000; stroke-width: 0.6"/>
      </g>
     </g>
    </g>
    <g id="ytick_24">
     <g id="line2d_44">
      <g>
       <use href="#mc3d89a154a" x="47.016" y="195.301" style="stroke: #000000; stroke-width: 0.6"/>
      </g>
     </g>
    </g>
    <g id="ytick_25">
     <g id="line2d_45">
      <g>
       <use href="#mc3d89a154a" x="47.016" y="189.195" style="stroke: #000000; stroke-width: 0.6"/>
      </g>
     </g>
    </g>
    <g id="ytick_26">
     <g id="line2d_46">
      <g>
       <use href="#mc3d89a154a" x="47.016" y="184.460" style="stroke: #000000; stroke-width: 0.6"/>
      </g>
     </g>
    </g>
    <g id="ytick_27">
     <g id="line2d_47">
      <g>
       <use href="#mc3d89a154a" x="47.016" y="180.591" style="stroke: #000000; stroke-width: 0.6"/>
      </g>
     </g>
    </g>
    <g id="ytick_28">
     <g id="line2d_48">
      <g>
       <use href="#mc3d89a154a" x="47.016" y="177.320" style="stroke: #000000; stroke-width: 0.6"/>
      </g>
     </g>
    </g>
    <g id="ytick_29">
     <g id="line2d_49">
      <g>
       <use href="#mc3d89a154a" x="47.016" y="174.486" style="stroke: #000000; stroke-width: 0.6"/>
      </g>
     </g>
    </g>
    <g id="ytick_30">
     <g id="line2d_50">
      <g>
       <use href="#mc3d89a154a" x="47.016" y="171.986" style="stroke: #000000; stroke-width: 0.6"/>
      </g>
     </g>
    </g>
    <g id="ytick_31">
     <g id="line2d_51">
      <g>
       <use href="#mc3d89a154a" x="47.016" y="155.041" style="stroke: #000000; stroke-width: 0.6"/>
      </g>
     </g>
    </g>
    <g id="ytick_32">
     <g id="line2d_52">
      <g>
       <use href="#mc3d89a154a" x="47.016" y="146.436" style="stroke: #000000; stroke-width: 0.6"/>
      </g>
     </g>
    </g>
    <g id="ytick_33">
     <g id="line2d_53">
      <g>
       <use href="#mc3d89a154a" x="47.016" y="140.331" style="stroke: #000000; stroke-width: 0.6"/>
      </g>
     </g>
    </g>
    <g id="ytick_34">
     <g id="line2d_54">
      <g>
       <use href="#mc3d89a154a" x="47.016" y="135.595" style="stroke: #000000; stroke-width: 0.6"/>
      </g>
     </g>
    </g>
    <g id="ytick_35">
     <g id="line2d_55">
      <g>
       <use href="#mc3d89a154a" x="47.016" y="131.726" style="stroke: #000000; stroke-width: 0.6"/>
      </g>
     </g>
    </g>
    <g id="ytick_36">
     <g id="line2d_56">
      <g>
       <use href="#mc3d89a154a" x="47.016" y="128.455" style="stroke: #000000; stroke-width: 0.6"/>
      </g>
     </g>
    </g>
    <g id="ytick_37">
     <g id="line2d_57">
      <g>
       <use href="#mc3d89a154a" x="47.016" y="125.621" style="stroke: #000000; stroke-width: 0.6"/>
      </g>
     </g>
    </g>
    <g id="ytick_38">
     <g id="line2d_58">
      <g>
       <use href="#mc3d89a154a" x="47.016" y="123.122" style="stroke: #000000; stroke-width: 0.6"/>
      </g>
     </g>
    </g>
    <g id="ytick_39">
     <g id="line2d_59">
      <g>
       <use href="#mc3d89a154a" x="47.016" y="106.176" style="stroke: #000000; stroke-width: 0.6"/>
      </g>
     </g>
    </g>
    <g id="ytick_40">
     <g id="line2d_60">
      <g>
       <use href="#mc3d89a154a" x="47.016" y="97.571" style="stroke: #000000; stroke-width: 0.6"/>
      </g>
     </g>
    </g>
    <g id="ytick_41">
     <g id="line2d_61">
      <g>
       <use href="#mc3d89a154a" x="47.016" y="91.466" style="stroke: #000000; stroke-width: 0.6"/>
      </g>
     </g>
    </g>
    <g id="ytick_42">
     <g id="line2d_62">
      <g>
       <use href="#mc3d89a154a" x="47.016" y="86.731" style="stroke: #000000; stroke-width: 0.6"/>
      </g>
     </g>
    </g>
    <g id="ytick_43">
     <g id="line2d_63">
      <g>
       <use href="#mc3d89a154a" x="47.016" y="82.862" style="stroke: #000000; stroke-width: 0.6"/>
      </g>
     </g>
    </g>
    <g id="ytick_44">
     <g id="line2d_64">
      <g>
       <use href="#mc3d89a154a" x="47.016" y="79.590" style="stroke: #000000; stroke-width: 0.6"/>
      </g>
     </g>
    </g>
    <g id="ytick_45">
     <g id="line2d_65">
      <g>
       <use href="#mc3d89a154a" x="47.016" y="76.757" style="stroke: #000000; stroke-width: 0.6"/>
      </g>
     </g>
    </g>
    <g id="ytick_46">
     <g id="line2d_66">
      <g>
       <use href="#mc3d89a154a" x="47.016" y="74.257" style="stroke: #000000; stroke-width: 0.6"/>
      </g>
     </g>
    </g>
    <g id="ytick_47">
     <g id="line2d_67">
      <g>
       <use href="#mc3d89a154a" x="47.016" y="57.311" style="stroke: #000000; stroke-width: 0.6"/>
      </g>
     </g>
    </g>
    <g id="ytick_48">
     <g id="line2d_68">
      <g>
       <use href="#mc3d89a154a" x="47.016" y="48.707" style="stroke: #000000; stroke-width: 0.6"/>
      </g>
     </g>
    </g>
    <g id="ytick_49">
     <g id="line2d_69">
      <g>
       <use href="#mc3d89a154a" x="47.016" y="42.602" style="stroke: #000000; stroke-width: 0.6"/>
      </g>
     </g>
    </g>
    <g id="ytick_50">
     <g id="line2d_70">
      <g>
       <use href="#mc3d89a154a" x="47.016" y="37.866" style="stroke: #000000; stroke-width: 0.6"/>
      </g>
     </g>
    </g>
    <g id="ytick_51">
     <g id="line2d_71">
      <g>
       <use href="#mc3d89a154a" x="47.016" y="33.997" style="stroke: #000000; stroke-width: 0.6"/>
      </g>
     </g>
    </g>
    <g id="ytick_52">
     <g id="line2d_72">
      <g>
       <use href="#mc3d89a154a" x="47.016" y="30.726" style="stroke: #000000; stroke-width: 0.6"/>
      </g>
     </g>
    </g>
    <g id="ytick_53">
     <g id="line2d_73">
      <g>
       <use href="#mc3d89a154a" x="47.016" y="27.892" style="stroke: #000000; stroke-width: 0.6"/>
      </g>
     </g>
    </g>
    <g id="ytick_54">
     <g id="line2d_74">
      <g>
       <use href="#mc3d89a154a" x="47.016" y="25.392" style="stroke: #000000; stroke-width: 0.6"/>
      </g>
     </g>
    </g>
    <g id="text_15">
     <g transform="translate(10.436 206.955) rotate(-90) scale(0.1 -0.1)">
      <defs>
       <path id="DejaVuSans-4e" d="M 628 4666 
L 1478 4666 
L 3547 763 
L 3547 4666 
L 4159 4666 
L 4159 0 
L 3309 0 
L 1241 3903 
L 1241 0 
L 628 0 
L 628 4666 
z
" transform="scale(0.015)"/>
       <path id="DejaVuSans-6f" d="M 1959 3097 
Q 1497 3097 1228 2736 
Q 959 2375 959 1747 
Q 959 1119 1226 758 
Q 1494 397 1959 397 
Q 2419 397 2687 759 
Q 2956 1122 2956 1747 
Q 2956 2369 2687 2733 
Q 2419 3097 1959 3097 
z
M 1959 3584 
Q 2709 3584 3137 3096 
Q 3566 2609 3566 1747 
Q 3566 888 3137 398 
Q 2709 -91 1959 -91 
Q 1206 -91 779 398 
Q 353 888 353 1747 
Q 353 2609 779 3096 
Q 1206 3584 1959 3584 
z
" transform="scale(0.015)"/>
       <path id="DejaVuSans-72" d="M 2631 2963 
Q 2534 3019 2420 3045 
Q 2306 3072 2169 3072 
Q 1681 3072 1420 2755 
Q 1159 2438 1159 1844 
L 1159 0 
L 581 0 
L 581 3500 
L 1159 3500 
L 1159 2956 
Q 1341 3275 1631 3429 
Q 1922 3584 2338 3584 
Q 2397 3584 2469 3576 
Q 2541 3569 2628 3553 
L 2631 2963 
z
" transform="scale(0.015)"/>
       <path id="DejaVuSans-6d" d="M 3328 2828 
Q 3544 3216 3844 3400 
Q 4144 3584 4550 3584 
Q 5097 3584 5394 3201 
Q 5691 2819 5691 2113 
L 5691 0 
L 5113 0 
L 5113 2094 
Q 5113 2597 4934 2840 
Q 4756 3084 4391 3084 
Q 3944 3084 3684 2787 
Q 3425 2491 3425 1978 
L 3425 0 
L 2847 0 
L 2847 2094 
Q 2847 2600 2669 2842 
Q 2491 3084 2119 3084 
Q 1678 3084 1418 2786 
Q 1159 2488 1159 1978 
L 1159 0 
L 581 0 
L 581 3500 
L 1159 3500 
L 1159 2956 
Q 1356 3278 1631 3431 
Q 1906 3584 2284 3584 
Q 2666 3584 2933 3390 
Q 3200 3197 3328 2828 
z
" transform="scale(0.015)"/>
       <path id="DejaVuSans-61" d="M 2194 1759 
Q 1497 1759 1228 1600 
Q 959 1441 959 1056 
Q 959 750 1161 570 
Q 1363 391 1709 391 
Q 2188 391 2477 730 
Q 2766 1069 2766 1631 
L 2766 1759 
L 2194 1759 
z
M 3341 1997 
L 3341 0 
L 2766 0 
L 2766 531 
Q 2569 213 2275 61 
Q 1981 -91 1556 -91 
Q 1019 -91 701 211 
Q 384 513 384 1019 
Q 384 1609 779 1909 
Q 1175 2209 1959 2209 
L 2766 2209 
L 2766 2266 
Q 2766 2663 2505 2880 
Q 2244 3097 1772 3097 
Q 1472 3097 1187 3025 
Q 903 2953 641 2809 
L 641 3341 
Q 956 3463 1253 3523 
Q 1550 3584 1831 3584 
Q 2591 3584 2966 3190 
Q 3341 2797 3341 1997 
z
" transform="scale(0.015)"/>
       <path id="DejaVuSans-6c" d="M 603 4863 
L 1178 4863 
L 1178 0 
L 603 0 
L 603 4863 
z
" transform="scale(0.015)"/>
       <path id="DejaVuSans-69" d="M 603 3500 
L 1178 3500 
L 1178 0 
L 603 0 
L 603 3500 
z
M 603 4863 
L 1178 4863 
L 1178 4134 
L 603 4134 
L 603 4863 
z
" transform="scale(0.015)"/>
       <path id="DejaVuSans-7a" d="M 353 3500 
L 3084 3500 
L 3084 2975 
L 922 459 
L 3084 459 
L 3084 0 
L 275 0 
L 275 525 
L 2438 3041 
L 353 3041 
L 353 3500 
z
" transform="scale(0.015)"/>
       <path id="DejaVuSans-64" d="M 2906 2969 
L 2906 4863 
L 3481 4863 
L 3481 0 
L 2906 0 
L 2906 525 
Q 2725 213 2448 61 
Q 2172 -91 1784 -91 
Q 1150 -91 751 415 
Q 353 922 353 1747 
Q 353 2572 751 3078 
Q 1150 3584 1784 3584 
Q 2172 3584 2448 3432 
Q 2725 3281 2906 2969 
z
M 947 1747 
Q 947 1113 1208 752 
Q 1469 391 1925 391 
Q 2381 391 2643 752 
Q 2906 1113 2906 1747 
Q 2906 2381 2643 2742 
Q 2381 3103 1925 3103 
Q 1469 3103 1208 2742 
Q 947 2381 947 1747 
z
" transform="scale(0.015)"/>
       <path id="DejaVuSans-20" transform="scale(0.015)"/>
       <path id="DejaVuSans-45" d="M 628 4666 
L 3578 4666 
L 3578 4134 
L 1259 4134 
L 1259 2753 
L 3481 2753 
L 3481 2222 
L 1259 2222 
L 1259 531 
L 3634 531 
L 3634 0 
L 628 0 
L 628 4666 
z
" transform="scale(0.015)"/>
      </defs>
      <use href="#DejaVuSans-4e"/>
      <use href="#DejaVuSans-6f" transform="translate(74.804 0)"/>
      <use href="#DejaVuSans-72" transform="translate(135.986 0)"/>
      <use href="#DejaVuSans-6d" transform="translate(175.349 0)"/>
      <use href="#DejaVuSans-61" transform="translate(272.761 0)"/>
      <use href="#DejaVuSans-6c" transform="translate(334.041 0)"/>
      <use href="#DejaVuSans-69" transform="translate(361.824 0)"/>
      <use href="#DejaVuSans-7a" transform="translate(389.607 0)"/>
      <use href="#DejaVuSans-65" transform="translate(442.097 0)"/>
      <use href="#DejaVuSans-64" transform="translate(503.621 0)"/>
      <use href="#DejaVuSans-20" transform="translate(567.097 0)"/>
      <use href="#DejaVuSans-45" transform="translate(598.884 0)"/>
      <use href="#DejaVuSans-72" transform="translate(662.068 0)"/>
      <use href="#DejaVuSans-72" transform="translate(701.431 0)"/>
      <use href="#DejaVuSans-6f" transform="translate(740.294 0)"/>
      <use href="#DejaVuSans-72" transform="translate(801.476 0)"/>
     </g>
    </g>
   </g>
   <g id="line2d_75">
    <path d="M60.16 78.43l.05 21.71 .54-6.54 .67-14.51 .09 1.16 .28-11.32 .2-13.98 .22-8.38 .28-5.59 .42-.6 .98 .32 .56 1.53 .36 2.94 .28 4.19 .25 1.91 .65-1.63 .83 .14 .42-3.21 .48-2.8 .64-4.47 .56-1.77 .2 1.77 .08 1.76 .7-.08 2.93-7.69 .48 .05 .17 2.88 0 2.8 .47 .93 .7-.65 1.12-2.38 .98-2.23 .83 .05 .28 1.76 .28 2.66 .56 .98 .84 5.31 .56 2.65 2.1 1.68 .14 2.65 0 2.24 .14 5.73 .14 2.52 .28 2.46 .97 .05 1.26-.98 .76 .33 .78 1.3 .78-3.02 .48-2.52 .56-1.68 1.25-1.53 1.4 .27 .14 4.99 1.26-1.77 0-2.38 1.81-7.68 .84-.65 .2 4.14 0 2.66 .22 5.59 .7 .09 1.26-1.77 1.82-1.07 .36 3.53 .28-5.12 1.03-5.17 .28-2.65 .98-2.94 1.12-2.09 .56-4.98 .14 2.88 .19 9.78 .51 4.7 .97-2.46 .98-1.68 1.54 .33 0 2.19 .28 5.45 .08 2.51 .11 5.45 .06 7.86 .83 7.83 .98 2.52 2.1 1.95 .28 3.36 .19 .5 .93-1.2 1.53-1.12 1.07-.56 .47-3.02 .28 6.93 .42 2.94 .84 .23 1.67-1.35 1.12-2.1 .14-5.17 .28-4.7 .48 2.28 .64 .33 1.26-1.68 1.4-.84 .33-2.6 .92-.33 .56 4.05 .2 2.65 .78 2.8 .84 2.38 .5 1.9 .62 .24 1.11 8.9 .56 2.51 .62 2.52 1.34 5.03 .56 2.65 .04 .02 .14 5.31 .42 2.6 1.4-.36 1.54-1.4 .7-3.35 .28-3.03 .19 3.03 .14 4.75 0 3.35 .23 .84 .41 4.75 .42 2.52 .56 2.79 .98 2.1 .84-.14 .5 1.76 .11-10.1 .28 5.12 1.35 2.94 .69 2.51 1.54 .87 .42-1.7 .2-2.75 .36 2.75 .28 2.65 1.12 2.38 1.12 1.39 .97-.19 .42-2.04 .14-1.77 .28 3.31 1.82 3.21 1.12 .93 .98-.37 .13-4.14 .28 1.62 2.24-.14 1.68-.33 .84 .38 1.11-.05 1.4 .65 .98 .05 .28-6.24 .42 4.29 .28 1.95 .42 .98 1.81 5.17 .75 2.88 .73-2.6 1.31 4.42 .56 2.65 .84 2.38 .42 1.34 .7 .06 .42-4.01 .84 1.49 .97 2.24 .42 1.39 1.9 2.33 .28-11.5 .48 8.06 .7 3.63 1.68 1.9 .61 .25 .84 .03 .14-17.36 .22 5.96 .28 3.35 .7 1.68 2.24 2.32 .7-.09 .27-2.32 .28 3.44 .28 2.8 1.82 1.11 1.12 1.96 .98 2.52 .08 4.05 .2 4.61 .69 2.38 1.12 4.05 .98 1.68 .84 1.9 .05-1.26-.03 .63 .05-1.26-.02 .63 .04-1.26-.02 .63 .05-1.26-.03 .63 .05-1.26-.02 .63 .04-1.26-.02 .63 .05-1.26-.03 .63 .05-1.26-.02 .63 .04-1.25-.02 .62 .05-1.25-.03 .63 .08-2.46-.02 .63 .03-1.26-.01 .63 .02-1.26-.01 .63 .03-1.26-.02 .63 .03-1.26-.01 .63 .02-1.26-.01 .63 .03-1.26-.02 .63 .03-1.26-.01 .63 .02-1.26-.01 .63 .03-1.26-.02 .63 .03-1.26-.01 .63 .02-1.26-.01 .63 .03-1.26-.02 .63 .02-.99 .08 1.26-.04-.63 .07 1.26-.03-.63 .07 1.26-.04-.63 .07 1.26-.03-.63 .07 1.26-.04-.63 .08 1.26-.04-.63 .07 1.25-.03-.62 .07 1.25-.04-.63 .07 1.26-.03-.63 .04 .72 1.4 5.03 .27 1.23-.13-.61 .27 1.22-.14-.61 .28 1.23-.14-.62 .28 1.23-.14-.61 .25 1.33 .11-.45 .11 .75 .11-.59 .11 1.11 .11-.65 .11 .93 .1-.33 .11 .56 .16-1.25-.08 .63 .15-1.25-.07 .62 .15-1.25-.08 .63 .16-1.26-.08 .63 .15-1.25-.07 .62 .15-1.25-.08 .63 .19-2.07-.04 .63 .09-1.25-.05 .62 .09-1.25-.04 .63 .09-1.26-.05 .63 .09-1.26-.04 .63 .05-.72 .14 1.25-.07-.62 .14 1.25-.07-.63 .13 1.25-.06-.62 .13 1.25-.07-.63 .14 1.26-.07-.63 .08 .73 .06 1.26-.03-.63 .06 1.26-.03-.63 .07 1.26-.04-.63 .05 .91 .11 .27 .1-.5 .1 .78 .11-.89 .1 .69 .11-.66 .1 .7 .11-.59 .1 .63 .11-.38 .1 .67 .11-.44 .4 1.19-.2-.6 .4 1.2-.2-.6 .39 1.2-.19-.6 .6 1.76 .56 1.49 .1-.48 .1 .53 .1-1.2 .1 .53 .1-1.01 .1 .64 .1-.59 .33 1.77 .09 1.25-.05-.62 .09 1.25-.04-.63 .08 1.26-.04-.63 .04 .63 .12 .03 .12 1.03 .12-.63 .64 3.29 .1-.84 .11 .9 .1-.45 .11 .69 .1-.34 .11 .58 .1-.35 .11 .81 .1-.43 .11 .73 .1-.27 .11-.08 .1 .79 .11-.53 .1 1.01 .11-.43 .1 .85 .11-.56 .1 .63 .11 .29 .1-.64 .11 .79 .1-.55 .11 .98 .1-.57 .11 .71 .1-.36 .06-1.26-.03 .63 .05-1.26-.02 .63 .05-1.26-.03 .63 .06-1.26-.03 .63 .03-1.9 0 .63 .01-1.26-.01 .63 .01-1.26 0 .63 0-1.26 0 .63 0-1.26 0 .63 .01-1.26-.01 .63 .01-1.26 0 .63 0-1.26 0 .63 0-1.26 0 .63 .01-1.26-.01 .63 .01-1.26 0 .63 0-1.26 0 .63 0-1.26 0 .63 .01-1.26-.01 .63 .01-1.26 0 .63 0-1.26 0 .63 0-1.26 0 .63 0-1.26 0 .63 .01-1.26-.01 .63 .01-1.26 0 .63 0-1.26 0 .63 0-1.26 0 .63 .01-.91 .03 1.26-.02-.63 .03 1.26-.01-.63 .03 1.26-.02-.63 .03 1.26-.01-.63 .02 1.26-.01-.63 .03 1.26-.02-.63 .03 1.26-.01-.63 .03 1.26-.02-.63 .03 1.26-.01-.63 .03 1.26-.02-.63 .03 1.26-.01-.63 .03 1.26-.02-.63 .03 1.26-.01-.63 .03 1.26-.02-.63 .02 .64 .1-.23 .1 .42 .1-.77 .11 .72 .1-.71 .1 .91 .1-1.02 .1 .77 .1-.63 .11 .64 .1-.38 .56 1.67 .1-.34 .1 .77 .1-.56 .1 .99 .1-.82 .11 .77 .1-.6 .1 .82 .1-.41 .1 .79 .21-.54 .11 1.04 .11-.56 .11 1.11 .11-.42 .11 .83 .11-.3 .1 .71 .11 .03 .08-1.26-.04 .63 .07-1.26-.03 .63 .07-1.26-.04 .63 .08-1.26-.04 .63 .08-1.26-.04 .63 .07-1.26-.03 .63 .07-2.18-.01 .63 .02-1.26-.01 .63 .01-1.26 0 .63 .01-1.26-.01 .63 .02-1.26-.01 .63 .02-1.26-.01 .63 .02-1.26-.01 .63 .01-1.26 0 .63 .01-1.26-.01 .63 .02-1.26-.01 .63 .02-1.26-.01 .63 .02-1.26-.01 .63 .01-1.26 0 .63 .01-1.26-.01 .63 .02-1.26-.01 .63 .02-1.26-.01 .63 .02-1.26-.01 .63 .01-1.26 0 .63 .01-1.26-.01 .63 .02-1.26-.01 .63 .02-1.26-.01 .63 .02-1.26-.01 .63 .01-1.26 0 .63 .01-.98 .23 13.93 0-.63 .01 1.26-.01-.63 .01 1.26 0-.63 0 1.26 0-.63 .01 1.26-.01-.63 .01 1.26 0-.63 .01 1.26-.01-.63 .01 1.26 0-.63 .01 1.26-.01-.63 .01 1.26 0-.63 .01 1.25 .08 1.95 .1-.05 .11 .87 .1-.74 .1 .84 .1-.44 .11 .8 .1-.7 .1 .96 .1-.52 .11 .68 .1-.55 .1 .84 .1-.4 .11 .97 .1-.32 .1-.11 .1 .8 .1-.82 .1 1.03 .1-.72 .1 .8 .1-.43 .1 .7 .1-.59 .1 .89 .1-.5 .1 .99 .1-.88 .2 1.11 .1-.87 .1 .68 .1-.8 .09 .77 .1-.65 .1 .28 .05-1.26-.02 .63 .05-1.26-.03 .63 .05-1.26-.02 .63 .05-1.26-.03 .63 .05-1.26-.02 .63 .05-1.26-.03 .63 .09-2.51-.02 .63 .04-1.26-.02 .63 .04-1.26-.02 .63 .04-1.26-.02 .63 .04-1.26-.02 .63 .04-1.14 .1 1.26-.05-.63 .1 1.26-.05-.63 .09 1.26-.04-.63 .07 1 .1 .57 .1-.98 .1 .97 .1-.71 .1 .71 .1-.46 .21 .47 .1-.82 .11 .86 .1-.88 .11 .69 .1-.99 .11 .79 .2-1.01 .1 .77 .1-.85 .1 .65 .1-.81 .1 .55 .2-.95 .1 .82 .1-.77 .1 .74 .1-.97 .1 .74 .1-.44 .1-.21 .1 .56 .1-.66 .1 .68 .1-.78 .1 .8 .1-.48 .09-1.26-.05 .63 .1-1.25-.05 .62 .1-1.25-.05 .63 .09-1.26-.04 .63 .09-1.26-.05 .63 .1-1.26-.05 .63 .09-1.26-.04 .63 .17-2.45-.04 .63 .08-1.26-.04 .63 .09-1.25-.05 .62 .07-.99 .14 1.25-.07-.63 .13 1.26-.06-.63 .13 1.25-.07-.62 .11 1 .01 1.26 0-.63 .01 1.26-.01-.63 .01 1.26 0-.63 .01 1.26-.01-.63 .02 1.26-.01-.63 .01 1.26 0-.63 .01 1.26-.01-.63 .02 2.44 0-.63 0 1.26 0-.63 0 1.26 0-.63 0 1.26 0-.63 0 4.47 .27 1.48 .11-.22 .1 .87 .1-.88 .1 1 .1-.86 .1 1.12 .11-.79 .1 .82 .1-.53 .1 .81 .2-.69 .1 1.07 .1-.56 .1 1.07 .1-.66 .1 .9 .1-.04 .11-.38 .1 .93 .11-.72 .1 .83 .11-.66 .1 .94 .11-.78 .2 .88 .11-.68 .1 .4 .11-.64 .1 .71 .11-.72 .1 .64 .11-.47 .19-41.31 .23 30.13 .14 2.52 .1-.32 .1 .66 .1-.43 .1 .48 .1-.49 .1 .59 .1-.21 .32 1.21-.16-.61 .33 1.22-.17-.61 .33 1.22-.16-.61 .21 .78 .09-.43 .1 .33 .1-.9 .1 .5 .1-1.02 .1 .44 .21-.99 .1 .71 .11-.51 .1 .63 .11-.61 .1 .57 .11-.7 .1 .49 .28 2.33 .1-1.26-.05 .63 .1-1.26-.05 .63 .11-1.25-.06 .62 .11-1.25-.05 .63 .07-.93 .04-1.26-.02 .63 .04-1.26-.02 .63 .05-1.26-.03 .63 .05-1.26-.02 .63 .04-1.26-.02 .63 .04-1.26-.02 .63 .04-1.26-.02 .63 .04-1.26-.02 .63 .04-1.26-.02 .63 .04-1.26-.02 .63 .04-1.26-.02 .63 .04-1.26-.02 .63 .08-2.09-.02 .63 .05-1.26-.03 .63 .05-1.26-.02 .63 .04-1.26-.02 .63 .05-1.26-.03 .63 .05-1.26-.02 .63 .05-1.2 .06 1.26-.03-.63 .05 1.26-.02-.63 .05 1.26-.03-.63 .06 1.26-.03-.63 .06 1.26-.03-.63 .06 1.26-.03-.63 .06 1.26-.03-.63 .06 1.25-.03-.62 .06 1.25-.03-.63 .06 1.26-.03-.63 .06 1.26-.03-.63 .09 2.11-.02-.63 .05 1.26-.03-.63 .05 1.26-.02-.63 .05 1.26-.03-.63 .06 1.26-.03-.63 .05 1.26-.02-.63 .05 1.26-.03-.63 .06 1.26-.03-.63 .05 1.26-.02-.63 .04 1.04 .11 .5 .11-.52 .11 1.1 .12-.81 .22 1.07 .11-.74 .1 .97 .11-.67 .11 .64 .11-.57 .11 .86 .11-.84 .21 1.39 .11-.68 .1 .97 .11-.06 .1-.62 .11 .58 .1-.54 .11 .5 .1-.91 .1 .53 .11-.77 .1 .3 .56-8.38 .05-1.26-.02 .63 .05-1.26-.03 .63 .05-1.26-.02 .63 .05-1.26-.03 .63 .05-1.26-.02 .63 .04-1.26-.02 .63 .05-1.26-.03 .63 .05-1.26-.02 .63 .05-1.26-.03 .63 .05-1.26-.02 .63 .05-1.26-.03 .63 .05-1.26-.02 .63 .04-1.26-.02 .63 .05-1.26-.03 .63 .05-1.26-.02 .63 .05-1.26-.03 .63 .03-.77 .04 1.26-.02-.63 .03 1.26-.01-.63 .03 1.26-.02-.63 .03 1.25-.01-.62 .03 1.25-.02-.63 .04 1.26-.02-.63 .03 1.26-.01-.63 .03 1.26-.02-.63 .03 1.26-.01-.63 .03 1.26-.02-.63 .04 1.26-.02-.63 .03 1.26-.01-.63 .03 1.26-.02-.63 .04 1.26-.02-.63 .03 1.26-.01-.63 .03 1.26-.02-.63 .04 2.04-.01-.63 .02 1.26-.01-.63 .02 1.26-.01-.63 .02 1.25-.01-.62 .02 1.25-.01-.63 .02 1.26-.01-.63 .02 1.26-.01-.63 .02 1.26-.01-.63 .02 1.26-.01-.63 .02 1.26-.01-.63 .02 1.26-.01-.63 .02 1.26-.01-.63 .02 1.26-.01-.63 .01 .76 .11 .4 .1-.72 .11 .96 .1-.75 .11 1.15 .1-.81 .11 .79 .1-.18 .28 2.6 .1-.53 .11 .55 .1-.81 .11 .68 .1-1.06 .11 .5 .1-.82 .11 .2 .66 2.05 .11-.61 .1 .81 .11-.6 .1 .81 .11-.91 .1 .73 .11-.15 .04-1.26-.02 .63 .05-1.26-.03 .63 .05-1.26-.02 .63 .04-1.26-.02 .63 .04-1.26-.02 .63 .05-1.26-.03 .63 .05-1.26-.02 .63 .04-1.26-.02 .63 .05-1.26-.03 .63 .05-1.25-.02 .62 .04-1.25-.02 .63 .05-1.97-.01 .63 .02-1.26-.01 .63 .02-1.26-.01 .63 .02-1.26-.01 .63 .02-1.26-.01 .63 .02-1.26-.01 .63 .02-1.26-.01 .63 .02-1.26-.01 .63 .03-1.26-.02 .63 .03-1.26-.01 .63 .02-1.26-.01 .63 .02-1.26-.01 .63 .02-1.26-.01 .63 .02-1.26-.01 .63 .02-1.26-.01 .63 .02-1.26-.01 .63 .19-8.32 .06 1.26-.03-.63 .06 1.26-.03-.63 .06 1.26-.03-.63 .06 1.26-.03-.63 .05 1.26-.02-.63 .05 1.25-.03-.62 .06 1.25-.03-.63 .06 1.26-.03-.63 .06 1.26-.03-.63 .06 1.26-.03-.63 .09 2.18-.02-.63 .04 1.26-.02-.63 .04 1.26-.02-.63 .04 1.26-.02-.63 .04 1.26-.02-.63 .04 1.26-.02-.63 .04 1.26-.02-.63 .04 1.26-.02-.63 .04 1.26-.02-.63 .05 1.26-.03-.63 .05 1.26-.02-.63 .04 1.26-.02-.63 .02 .83 .28 1.49 .11-.19 .11 .65 .11-.69 .11 .94 .11-.6 .11 .88 .1-.68 .11 .93 .21-.72 .1 .74 .11-.66 .1 .81 .1-.65 .1 .74 .1-.57 .1 .72 .11-.7 .1 .73 .1-.29 .1-.5 .11 .82 .1-.66 .11 .45 .1-.69 .11 .83 .1-1.08 .11 .47 .11-1.26-.06 .63 .11-1.26-.05 .63 .1-1.25-.05 .62 .11-1.25-.06 .63 .11-1.26-.05 .63 .23-1.98 .16 1.25-.08-.63 .16 1.25-.08-.62 .16 1.25-.08-.63 .1 .73 .04 1.26-.02-.63 .05 1.26-.03-.63 .05 1.26-.02-.63 .05 1.26-.03-.63 .05 1.11 .2 1.25-.1-.62 .21 1.24-.11-.62 .21 1.24-.1-.62 .22 1.29 .11-.61 .11 1.11 .11-.54 .22 1.24 .1-.73 .11 .79 .1-.72 .11 .88 .1-.45 .11 .91 .1-.37 .28 .45 .11-.17 .1 .76 .11-.89 .1 .85 .11-.61 .1 .83 .11-.95 .2 1 .1-.43 .1 .94 .1-.58 .1 .88 .1-.39 .1 .44 .02-1.26-.01 .63 .02-1.26-.01 .63 .03-1.26-.02 .63 .03-1.26-.01 .63 .02-1.26-.01 .63 .02-1.26-.01 .63 .02-1.26-.01 .63 .02-1.26-.01 .63 .03-1.26-.02 .63 .03-1.26-.01 .63 .02-1.26-.01 .63 .21-5.4 .36 1.9 .04 1.26-.02-.63 .05 1.26-.03-.63 .05 1.26-.02-.63 .04 1.26-.02-.63 .05 1.26-.03-.63 .05 1.26-.02-.63 .04 1.26-.02-.63 .05 1.26-.03-.63 .05 1.26-.02-.63 .04 1.26-.02-.63 .05 1.26-.03-.63 .03 .71 .1 .33 .1-.86 .1 1.13 .1-1.04 .11 .76 .1-.75 .1 1.19 .1-1.28 .1 1.21 .1-.78 .11 .28 .68-2.44 .25 1.24-.13-.62 .25 1.24-.12-.62 .25 1.23-.13-.61 .25 1.23-.12-.62 .23 1.05 .11-1.46 .1 1.17 .11-1.12 .1 .58 .11-1.31 .1 .91 .11-.52 .04-1.26-.02 .63 .04-1.26-.02 .63 .05-1.26-.03 .63 .05-1.26-.02 .63 .04-1.26-.02 .63 .05-1.26-.03 .63 .05-1.26-.02 .63 .04-1.26-.02 .63 .04-1.26-.02 .63 .05-1.26-.03 .63 .05-1.25-.02 .62 .04-1.25-.02 .63 .04-1.26-.02 .63 .05-1.26-.03 .63 .05-1.26-.02 .63 .04-1.26-.02 .63 .05-1.26-.03 .63 .04-.92 .03 1.26-.02-.63 .04 1.26-.02-.63 .04 1.26-.02-.63 .03 1.26-.01-.63 .03 1.26-.02-.63 .04 1.26-.02-.63 .04 1.26-.02-.63 .03 1.26-.01-.63 .03 1.26-.02-.63 .04 1.26-.02-.63 .04 1.26-.02-.63 .03 1.26-.01-.63 .03 1.26-.02-.63 .04 1.26-.02-.63 .04 1.26-.02-.63 .04 1.26-.02-.63 .03 1.26-.01-.63 .03 1.26-.02-.63 .04 1.26-.02-.63 .04 1.26-.02-.63 .03 1.26-.01-.63 .03 1.26-.02-.63 .03 1.11 .16 1.25-.08-.62 .16 1.25-.08-.63 .16 1.26-.08-.63 .16 1.25-.08-.62 .1 .85 .11-.43 .1 1.18 .11-.49 .1 1.09 .11-.65 .21 1.15 .1-.73 .11 1.63 .1-1.31 .11 1.47 .1-.72 .11 1.34 .1-.93 .11 1.53 .1-.36 .11-.74 .1 1.54 .11-.78 .1 1.22 .11-1.02 .1 1.23 .1-1.19 .11 1.6 .1-1.37 .21 1.47 .11-1.15 .1 1.14 .11-1.1 .1 1.25 .11-.75 .01-1.26-.01 .63 .01-1.26 0 .63 .01-1.26-.01 .63 .01-1.26 0 .63 .01-1.26-.01 .63 .01-1.26 0 .63 .01-1.26-.01 .63 .01-1.26 0 .63 0-1.26 0 .63 .01-1.26-.01 .63 .01-1.26 0 .63 .01-1.26-.01 .63 .01-1.26 0 .63 .01-1.26-.01 .63 .01-1.26 0 .63 .01-1.26-.01 .63 .01-1.26 0 .63 .01-1.26-.01 .63 .01-1.26 0 .63 .01-1.26-.01 .63 .01-1.26 0 .63 .01-1.26-.01 .63 .01-1.26 0 .63 0-1.26 0 .63 .01-1.26-.01 .63 .01-1.26 0 .63 .01-1.26-.01 .63 .01-1.26 0 .63 .01-1.26-.01 .63 .01-1.26 0 .63 .01-1.26-.01 .63 .01-1.26 0 .63 .01-1.26-.01 .63 .01-1.26 0 .63 .01-1.26-.01 .63 .01-1.26 0 .63 0-1.26 0 .63 .01-1.26-.01 .63 .01-1.26 0 .63 .01-1.26-.01 .63 .01-1.26 0 .63 .01-1.26-.01 .63 .01-1.26 0 .63 .01-1.26-.01 .63 .01-1.26 0 .63 .01-1.26-.01 .63 .01-1.26 0 .63 .01-1.26-.01 .63 .01-1.26 0 .63 .01-1.26-.01 .63 .01-1.26 0 .63 0-1.26 0 .63 .01-1.26-.01 .63 .01-1.26 0 .63 .01-1.26-.01 .63 .01-1.26 0 .63 .01-1.26-.01 .63 .01-1.26 0 .63 .01-1.26-.01 .63 .01-1.26 0 .63 .01-1.26-.01 .63 .01-1.26 0 .63 0-.74 .03 1.26-.01-.63 .02 1.26-.01-.63 .02 1.26-.01-.63 .03 1.26-.02-.63 .03 1.26-.01-.63 .02 1.26-.01-.63 .03 1.26-.02-.63 .03 1.26-.01-.63 .02 1.26-.01-.63 .03 1.26-.02-.63 .03 1.26-.01-.63 .02 1.26-.01-.63 .03 1.26-.02-.63 .03 1.26-.01-.63 .02 1.26-.01-.63 .03 1.26-.02-.63 .03 1.26-.01-.63 .02 1.26-.01-.63 .03 1.26-.02-.63 .03 1.26-.01-.63 .02 1.26-.01-.63 .03 1.26-.02-.63 .03 1.26-.01-.63 .02 1.26-.01-.63 .03 1.26-.02-.63 .03 1.26-.01-.63 .02 1.26-.01-.63 .03 1.25-.02-.62 .03 1.25-.01-.63 .02 1.26-.01-.63 .03 1.26-.02-.63 .03 1.26-.01-.63 .02 1.26-.01-.63 .03 1.26-.02-.63 .03 1.26-.01-.63 .02 1.26-.01-.63 .03 1.26-.02-.63 .03 1.26-.01-.63 .02 1.26-.01-.63 .03 1.26-.02-.63 .02 .68 .42 1.19-.21-.59 .42 1.18-.21-.59 .42 1.19-.21-.6 .42 1.16 .3 1.22-.15-.61 .3 1.22-.15-.61 .31 1.22-.16-.61 .31 1.22-.15-.61 .22 .91 .11-.49 .1 1.44 .11-.91 .1 1.71 .11-.82 .1 1.35 .11-.83 .1 1.04 .11-.82 .1 .94 .2-1.25-.1 .63 .2-1.25-.1 .62 .2-1.24-.1 .62 .12-.74 .42-17.91 .03 1.26-.01-.63 .02 1.26-.01-.63 .03 1.26-.02-.63 .03 1.26-.01-.63 .03 1.26-.02-.63 .03 1.26-.01-.63 .03 1.26-.02-.63 .03 1.26-.01-.63 .03 1.26-.02-.63 .03 1.26-.01-.63 .03 1.26-.02-.63 .03 1.26-.01-.63 .03 1.26-.02-.63 .03 1.26-.01-.63 .03 1.26-.02-.63 .03 1.26-.01-.63 .03 1.26-.02-.63 .03 1.26-.01-.63 .03 1.26-.02-.63 .03 1.26-.01-.63 .02 1.26-.01-.63 .03 1.26-.02-.63 .03 1.26-.01-.63 .03 1.26-.02-.63 .03 1.26-.01-.63 .03 1.26-.02-.63 .03 1.26-.01-.63 .02 .9 .63 2.1 .1 .56 .11-1.27 .1 1.18 .11-1.05 .1 1.15 .11-.73 .1 1.34 .11-1.57 .1 1.22 .21-.71 .11 1.38 .1-1.52 .11 1.62 .1-1.13 .11 1.2 .1-1.14 .11 1.1 .1-.9 .11 .62 .41-1.44 .11 .65 .1-1.26 .11 1.04 .1-1 .11 1.18 .1-.85 .01-1.26 0 .63 .01-1.26-.01 .63 .01-1.26 0 .63 .01-1.26-.01 .63 .02-1.26-.01 .63 .01-1.26 0 .63 .01-1.26-.01 .63 .01-1.26 0 .63 .01-1.26-.01 .63 .01-1.26 0 .63 .01-1.26-.01 .63 .01-1.26 0 .63 .01-1.26-.01 .63 .01-1.26 0 .63 .01-1.26-.01 .63 .01-1.26 0 .63 .01-1.26-.01 .63 .01-1.26 0 .63 .01-1.26-.01 .63 .02-1.26-.01 .63 .01-1.26 0 .63 .01-1.26-.01 .63 .01-1.26 0 .63 .01-1.26-.01 .63 .01-1.26 0 .63 .01-1.26-.01 .63 .01-1.26 0 .63 .01-1.26-.01 .63 .01-1.26 0 .63 .01-1.26-.01 .63 .01-1.26 0 .63 .01-1.26-.01 .63 .01-1.26 0 .63 .01-1.26-.01 .63 .02-1.26-.01 .63 .01-1.26 0 .63 .01-1.26-.01 .63 .01-1.26 0 .63 .01-1.26-.01 .63 .01-1.26 0 .63 .01-1.26-.01 .63 .01-1.26 0 .63 .01-1.26-.01 .63 .01-1.26 0 .63 .01-1.26-.01 .63 .01-1.26 0 .63 .01-1.26-.01 .63 .01-1.26 0 .63 .01-1.26-.01 .63 .02-1.26-.01 .63 .01-1.26 0 .63 .01-1.26-.01 .63 .01-1.26 0 .63 .01-1.26-.01 .63 .01-.67 .59 25.8-.02-.63 .05 1.26-.03-.63 .05 1.26-.02-.63 .05 1.25-.03-.62 .06 1.25-.03-.63 .05 1.26-.02-.63 .05 1.26-.03-.63 .03 .72 .11-.92 .1 1.38 .11-1.39 .1 1.25 .11-1.51 .1 1.24 .11-1.03 .1 .65 .1-.88 .11 .71 .1-1.29 .21 1.4 .11-1.37 .1 1.11 .11-.91 .1 1.47 .11-1.53 .1 1.29 .11-1.17 .1 1 .11-.79 .1 .86 .22-1.09 .1 .97 .11-1.54 .11 1.14 .11-1.03 .1 .84 .11-.63 .05-1.26-.02 .63 .04-1.26-.02 .63 .05-1.26-.03 .63 .05-1.26-.02 .63 .05-1.26-.03 .63 .05-1.26-.02 .63 .05-1.25-.03 .62 .05-1.25-.02 .63 .04-1.26-.02 .63 .05-1.26-.03 .63 .05-1.26-.02 .63 .03-.71 .06 1.25-.03-.62 .07 1.25-.04-.63 .07 1.26-.03-.63 .06 1.26-.03-.63 .07 1.26-.04-.63 .07 1.26-.03-.63 .06 1.26-.03-.63 .07 1.26-.04-.63 .07 1.26-.03-.63 .06 1.26-.03-.63 .07 1.26-.04-.63 .07 1.25-.03-.62 .06 1.25-.03-.63 .07 1.26-.04-.63 .07 1.26-.03-.63 .06 1.26-.03-.63 .07 1.26-.04-.63 .06 1.13 .19 1.25-.09-.62 .18 1.24-.09-.62 .19 1.25-.1-.63 .19 1.25-.09-.62 .19 1.24-.1-.62 .16 1.08 .11-.53 .1 1.05 .11-1.13 .1 1.51 .11-1.34 .1 1.71 .11-1.37 .1 1.42 .11-1.4 .1 1.37 .11-1.03 .1 1.32 .11-1.14 .21 1.63 .1-1.14 .11 .93 .1-.75 .1 .86 .11-.79 .1 1 .11-1.42 .1 1.5 .11-.5 .08-1.25-.04 .62 .08-1.25-.04 .63 .08-1.26-.04 .63 .08-1.26-.04 .63 .09-1.26-.05 .63 .09-1.26-.04 .63 .08-1.26-.04 .63 .04-.72 .02-1.26-.01 .63 .01-1.26 0 .63 .01-1.26-.01 .63 .02-1.26-.01 .63 .01-1.26 0 .63 .01-1.26-.01 .63 .02-1.26-.01 .63 .01-1.26 0 .63 .01-1.26-.01 .63 .02-1.26-.01 .63 .01-1.26 0 .63 .01-1.26-.01 .63 .02-1.26-.01 .63 .01-1.26 0 .63 .01-1.26-.01 .63 .02-1.26-.01 .63 .01-1.26 0 .63 .01-1.26-.01 .63 .02-1.26-.01 .63 .01-1.26 0 .63 .01-1.26-.01 .63 .02-1.26-.01 .63 .01-1.26 0 .63 .01-1.26-.01 .63 .02-1.26-.01 .63 .01-1.26 0 .63 .01-1.26-.01 .63 .02-1.26-.01 .63 .01-1.26 0 .63 .01-1.26-.01 .63 .02-1.26-.01 .63 .01-1.26 0 .63 .01-1.26-.01 .63 .02-1.26-.01 .63 .01-1.26 0 .63 .01-1.26-.01 .63 .02-1.26-.01 .63 .01-1.26 0 .63 .01-1.26-.01 .63 .02-1.26-.01 .63 .02-1.26-.01 .63 .01-1.26 0 .63 .01-1.21 .01 1.26 0-.63 .01 1.26-.01-.63 .02 1.26-.01-.63 .02 1.26-.01-.63 .01 1.26 0-.63 .01 1.26-.01-.63 .02 1.26-.01-.63 .02 1.25-.01-.62 .02 1.25-.01-.63 .01 1.26 0-.63 .01 1.26-.01-.63 .02 1.26-.01-.63 .02 1.26-.01-.63 .01 1.26 0-.63 .01 1.26-.01-.63 .02 1.26-.01-.63 .02 1.26-.01-.63 .02 1.26-.01-.63 .01 1.26 0-.63 .01 1.26-.01-.63 .02 1.26-.01-.63 .02 1.26-.01-.63 .01 1.26 0-.63 .01 1.26-.01-.63 .02 1.26-.01-.63 .02 1.26-.01-.63 .02 1.26-.01-.63 .01 1.26 0-.63 .01 1.26-.01-.63 .02 1.26-.01-.63 .02 1.26-.01-.63 .01 1.26 0-.63 .01 1.26-.01-.63 .02 1.26-.01-.63 .02 1.26-.01-.63 .02 1.26-.01-.63 .01 1.26 0-.63 .01 1.26-.01-.63 .02 1.26-.01-.63 .02 1.26-.01-.63 .01 1.26 0-.63 .01 1.26-.01-.63 .02 1.26-.01-.63 .02 1.26-.01-.63 .02 1.26-.01-.63 .01 1.26 0-.63 .01 1.26-.01-.63 .02 1.26-.01-.63 .02 1.26-.01-.63 .01 1.26 0-.63 .01 1.26-.01-.63 .02 1.26-.01-.63 .02 1.21 .42 1.19-.21-.59 .42 1.18-.21-.59 .42 1.19-.21-.6 .42 1.16 .1-.59 .11 1.35 .1-.73 .1 1.37 .11-1.45 .1 1.77 .11-1.13 .1 1.66 .11-1.08 .21 .99 .1-1.05 .11 1.49 .1-.82 .11 1.13 .1-1.46 .11 1.67 .33-1.76-.11 .62 .22-1.24-.11 .62 .23-1.24-.12 .62 .23-1.24-.11 .62 .17-.96 .02-1.26-.01 .63 .02-1.26-.01 .63 .03-1.26-.02 .63 .03-1.26-.01 .63 .02-1.26-.01 .63 .02-1.26-.01 .63 .02-1.26-.01 .63 .02-1.26-.01 .63 .02-1.26-.01 .63 .02-1.26-.01 .63 .03-1.26-.02 .63 .03-1.26-.01 .63 .02-1.26-.01 .63 .02-1.26-.01 .63 .02-1.26-.01 .63 .02-1.26-.01 .63 .02-1.26-.01 .63 .02-1.26-.01 .63 .03-1.26-.02 .63 .03-1.26-.01 .63 .02-1.26-.01 .63 .02-1.26-.01 .63 .02-1.26-.01 .63 .02-1.26-.01 .63 .02-1.26-.01 .63 .02-1.26-.01 .63 .03-1.26-.02 .63 .03-1.26-.01 .63 .02-1.26-.01 .63 .02-1.26-.01 .63 .02-1.26-.01 .63 .02-1.26-.01 .63 .02-1.26-.01 .63 .02-1.26-.01 .63 .03-1.26-.02 .63 .03-1.26-.01 .63 .01-.81 .02 1.26-.01-.63 .03 1.26-.02-.63 .03 1.26-.01-.63 .02 1.26-.01-.63 .02 1.26-.01-.63 .02 1.26-.01-.63 .03 1.26-.02-.63 .03 1.26-.01-.63 .02 1.26-.01-.63 .02 1.26-.01-.63 .02 1.26-.01-.63 .02 1.26-.01-.63 .03 1.26-.02-.63 .03 1.26-.01-.63 .02 1.26-.01-.63 .02 1.26-.01-.63 .02 1.26-.01-.63 .03 1.26-.02-.63 .03 1.26-.01-.63 .02 1.26-.01-.63 .02 1.26-.01-.63 .02 1.26-.01-.63 .02 1.26-.01-.63 .03 1.26-.02-.63 .03 1.26-.01-.63 .02 1.26-.01-.63 .02 1.26-.01-.63 .02 1.26-.01-.63 .03 1.26-.02-.63 .03 1.26-.01-.63 .02 1.26-.01-.63 .02 1.26-.01-.63 .02 1.26-.01-.63 .02 1.26-.01-.63 .02 .9 .1-.92 .11 1.44 .1-1.56 .11 1.2 .1-.89 .11 .79 .1-.98 .11 .88 .1-.9 .11 .43 .34-1.21-.17 .61 .35-1.22-.18 .61 .35-1.21-.17 .6 .32-1.11 .1 .44 .11-.94 .1 .64 .11-1.33 .1 1.28 .11-1.15 .1 1.14 .11-1.29 .1 .96 .1-.97 .11 .84 .1-.46 .09-1.26-.04 .63 .09-1.26-.05 .63 .09-1.26-.04 .63 .09-1.25-.05 .62 .09-1.25-.04 .63 .08-1.26-.04 .63 .09-1.26-.05 .63 .09-1.26-.04 .63 .09-1.26-.05 .63 .09-1.25-.04 .62 .06-.84 .33-13 .05 1.26-.02-.63 .05 1.26-.03-.63 .05 1.26-.02-.63 .04 1.26-.02-.63 .05 1.25-.03-.62 .05 1.25-.02-.63 .05 1.26-.03-.63 .05 1.26-.02-.63 .05 1.26-.03-.63 .05 1.26-.02-.63 .04 1.26-.02-.63 .05 1.26-.03-.63 .05 1.26-.02-.63 .05 1.26-.03-.63 .05 1.26-.02-.63 .04 1.26-.02-.63 .05 1.26-.03-.63 .05 1.26-.02-.63 .05 1.26-.03-.63 .05 1.26-.02-.63 .05 1.26-.03-.63 .05 1.26-.02-.63 .04 1.26-.02-.63 .05 1.26-.03-.63 .05 1.24 .83 4.6-.1-.62 .21 1.24-.11-.62 .21 1.25-.1-.63 .2 1.25-.1-.62 .2 1.24-.1-.62 .2 1.24-.1-.62 .21 1.24-.11-.62 .13 .77 .12-1.26-.06 .63 .12-1.25-.06 .62 .12-1.25-.06 .63 .12-1.26-.06 .63 .12-1.25-.06 .62 .12-1.23 .1-.58 .11 1.36 .1-1.22 .11 1.31 .1-1.19 .11 1.55 .1-1.57 .11 1.47 .1-1.04 .11 1.51 .1-1.22 .11 .55 .09 1.25-.04-.63 .09 1.26-.05-.63 .1 1.26-.05-.63 .1 1.26-.05-.63 .1 1.25-.05-.62 .09 1.14 .02-1.26-.01 .63 .01-1.26 0 .63 .01-1.26-.01 .63 .02-1.26-.01 .63 .01-1.26 0 .63 .01-1.26-.01 .63 .02-1.26-.01 .63 .01-1.26 0 .63 .01-1.26-.01 .63 .01-1.26 0 .63 .01-1.26-.01 .63 .02-1.26-.01 .63 .01-1.26 0 .63 .01-1.26-.01 .63 .02-1.26-.01 .63 .01-1.26 0 .63 .01-1.26-.01 .63 .02-1.26-.01 .63 .01-1.26 0 .63 .01-1.26-.01 .63 .02-1.26-.01 .63 .01-1.26 0 .63 .01-1.26-.01 .63 .02-1.26-.01 .63 .01-1.26 0 .63 .01-1.26-.01 .63 .02-1.26-.01 .63 .01-1.26 0 .63 .01-1.26-.01 .63 .02-1.26-.01 .63 .01-1.26 0 .63 .01-1.26-.01 .63 .02-1.26-.01 .63 .01-1.26 0 .63 .01-1.1 .05 1.26-.02-.63 .05 1.26-.03-.63 .06 1.26-.03-.63 .05 1.26-.02-.63 .05 1.26-.03-.63 .06 1.26-.03-.63 .05 1.26-.02-.63 .05 1.26-.03-.63 .06 1.26-.03-.63 .05 1.26-.02-.63 .05 1.26-.03-.63 .06 1.26-.03-.63 .06 1.25-.03-.62 .05 1.25-.02-.63 .05 1.26-.03-.63 .06 1.26-.03-.63 .05 1.26-.02-.63 .05 1.26-.03-.63 .06 1.26-.03-.63 .05 1.13 .21 1.24-.11-.62 .21 1.24-.1-.62 .2 1.24-.1-.62 .11 .65 .11 1.08 .1-1.1 .11 1.18 .11-.54 .11 1.11 .11-.62 .11 1.22 .11-1.02 .11 .93 .69 2.04 .12-1.25-.06 .63 .11-1.26-.05 .63 .11-1.26-.06 .63 .12-1.25-.06 .62 .11-1.25-.05 .63 .11-1.26-.06 .63 .08-.88 .15 1.25-.08-.63 .15 1.25-.07-.62 .14 1.25-.07-.63 .14 1.26-.07-.63 .14 1.25-.07-.62 .14 1.25-.07-.63 .13 1.17 .1-1.25-.05 .63 .1-1.26-.05 .63 .1-1.26-.05 .63 .1-1.26-.05 .63 .1-1.25-.05 .62 .1-1.25-.05 .63 .1-1.26-.05 .63 .1-1.26-.05 .63 .1-1.26-.05 .63 .1-1.25-.05 .62 .06-.79 .01-1.26-.01 .63 .01-1.26 0 .63 0-1.26 0 .63 .01-1.26-.01 .63 .01-1.26 0 .63 0-1.26 0 .63 .01-1.26-.01 .63 .01-1.26 0 .63 0-1.26 0 .63 .01-1.26-.01 .63 .01-1.26 0 .63 0-1.26 0 .63 .01-1.26-.01 .63 .01-1.26 0 .63 0-1.26 0 .63 .01-1.26-.01 .63 .01-1.26 0 .63 0-1.26 0 .63 0-1.26 0 .63 .01-1.26-.01 .63 .01-1.26 0 .63 0-1.26 0 .63 .01-1.26-.01 .63 .01-1.26 0 .63 0-1.26 0 .63 .01-1.26-.01 .63 .01-1.26 0 .63 0-1.26 0 .63 .01-1.26-.01 .63 .01-1.26 0 .63 0-1.26 0 .63 .01-1.26-.01 .63 .01-1.26 0 .63 0-1.26 0 .63 .01-1.26-.01 .63 .01-1.26 0 .63 0-1.26 0 .63 .01-1.26-.01 .63 .01-1.26 0 .63 0-1.26 0 .63 0-1.26 0 .63 .01-1.26-.01 .63 .01-1.26 0 .63 0-1.26 0 .63 .01-1.26-.01 .63 .01-1.26 0 .63 0-1.26 0 .63 .01-1.26-.01 .63 .01-1.26 0 .63 0-1.26 0 .63 .01-1.26-.01 .63 .01-1.26 0 .63 0-1.26 0 .63 .01-1.26-.01 .63 .01-1.26 0 .63 0-1.26 0 .63 .01-1.26-.01 .63 .01-1.26 0 .63 0-1.26 0 .63 0-1.26 0 .63 .01-1.26-.01 .63 .01-1.26 0 .63 0-1.26 0 .63 .01-1.26-.01 .63 .01-1.26 0 .63 0-1.26 0 .63 .01-1.26-.01 .63 .01-1.26 0 .63 0-1.26 0 .63 .01-1.26-.01 .63 .01-1.26 0 .63 0-1.26 0 .63 .01-1.26-.01 .63 .01-1.26 0 .63 0-1.26 0 .63 .01-1.26-.01 .63 .01-1.26 0 .63 0-1.26 0 .63 .01-1.26-.01 .63 .01-1.26 0 .63 0-1.26 0 .63 0-1.26 0 .63 .01-1.26-.01 .63 .01-1.26 0 .63 0-1.26 0 .63 .01-1.26-.01 .63 .01-1.26 0 .63 0-.73 .01 1.26-.01-.63 .01 1.26 0-.63 0 1.26 0-.63 .01 1.26-.01-.63 .01 1.26 0-.63 0 1.26 0-.63 .01 1.26-.01-.63 .01 1.26 0-.63 0 1.26 0-.63 .01 1.26-.01-.63 .01 1.26 0-.63 0 1.26 0-.63 .01 1.26-.01-.63 .01 1.26 0-.63 0 1.26 0-.63 .01 1.26-.01-.63 .01 1.26 0-.63 0 1.26 0-.63 .01 1.26-.01-.63 .01 1.26 0-.63 0 1.26 0-.63 .01 1.26-.01-.63 .01 1.26 0-.63 0 1.26 0-.63 .01 1.26-.01-.63 .01 1.26 0-.63 0 1.26 0-.63 .01 1.26-.01-.63 .01 1.26 0-.63 0 1.26 0-.63 .01 1.26-.01-.63 .01 1.26 0-.63 0 1.26 0-.63 .01 1.26-.01-.63 .01 1.26 0-.63 0 1.26 0-.63 .01 1.26-.01-.63 .01 1.26 0-.63 0 1.26 0-.63 .01 1.26-.01-.63 .01 1.26 0-.63 0 1.26 0-.63 .01 1.26-.01-.63 .01 1.26 0-.63 0 1.26 0-.63 .01 1.26-.01-.63 .01 1.26 0-.63 0 1.26 0-.63 .01 1.26-.01-.63 .01 1.26 0-.63 0 1.26 0-.63 .01 1.26-.01-.63 .01 1.26 0-.63 0 1.26 0-.63 .01 1.26-.01-.63 .01 1.26 0-.63 0 1.26 0-.63 .01 1.26-.01-.63 .01 1.26 0-.63 0 1.26 0-.63 .01 1.26-.01-.63 .01 1.26 0-.63 0 1.26 0-.63 .01 1.26-.01-.63 .01 1.26 0-.63 0 1.26 0-.63 .01 1.26-.01-.63 .01 1.26 0-.63 0 1.26 0-.63 .01 1.26-.01-.63 .01 1.26 0-.63 0 1.26 0-.63 .01 1.26-.01-.63 .01 1.26 0-.63 0 1.26 0-.63 .01 1.26-.01-.63 .01 1.26 0-.63 0 1.26 0-.63 .01 1.26-.01-.63 .01 1.26 0-.63 0 1.26 0-.63 .01 1.26-.01-.63 .04 2.34-.02-.63 .03 1.26-.01-.63 .02 1.26-.01-.63 .02 1.26-.01-.63 .03 1.26-.02-.63 .03 1.26-.01-.63 .02 1.26-.01-.63 .02 1.26-.01-.63 .03 1.26-.02-.63 .03 1.26-.01-.63 .05 1.95-.02-.63 .04 1.26-.02-.63 .04 1.26-.02-.63 .04 1.26-.02-.63 .04 1.26-.02-.63 .04 1.26-.02-.63 .02 .69 .1 .63 .11-.75 .1 1.34 .11-.29 .1-.81 .1 1.43 .1-1.57 .1 1.58 .1-1.55 .1 1.45 .1-.71 .11-.34 .11 1.69 .11-1.3 .12 1.9 .21-1.4 .11 1.55 .1-1.23 .11 1.35 .1-1.37 .11 1 .1-.76 .21 .7 .11-1.07 .1 1.09 .1-1.39 .11 .74 .1-1.31 .11 1.33 .33-2.21 .19-29.85 .28 30.13 .42 1.12 .31 1.22-.16-.61 .31 1.22-.15-.61 .3 1.23-.15-.62 .24 .97 .11-.43 .11 1.54 .12-1.63 .11 1.74 .21-1.02 .1 1.09 .1-1.12 .1 1.12 .1-.85 .1 1.06 .1-.67 .52-5.6 .1 1.09 .1-1.13 .1 1.01 .1-1.28 .1 1.29 .1-.69 .28-6.7 .02-1.26-.01 .63 .02-1.26-.01 .63 .02-1.26-.01 .63 .02-1.26-.01 .63 .02-1.26-.01 .63 .02-1.26-.01 .63 .02-1.26-.01 .63 .02-1.26-.01 .63 .02-1.26-.01 .63 .02-1.26-.01 .63 .02-1.26-.01 .63 .02-1.26-.01 .63 .02-1.26-.01 .63 .02-1.26-.01 .63 .02-1.26-.01 .63 .02-1.26-.01 .63 .02-1.26-.01 .63 .02-1.26-.01 .63 .02-1.26-.01 .63 .02-1.26-.01 .63 .02-1.26-.01 .63 .02-1.26-.01 .63 .03-1.26-.02 .63 .03-1.26-.01 .63 .02-1.26-.01 .63 .02-1.26-.01 .63 .02-1.26-.01 .63 .02-1.26-.01 .63 .02-1.26-.01 .63 .02-1.26-.01 .63 .02-1.26-.01 .63 .01-.83 .03 1.26-.02-.63 .03 1.26-.01-.63 .02 1.26-.01-.63 .03 1.26-.02-.63 .03 1.26-.01-.63 .02 1.26-.01-.63 .03 1.26-.02-.63 .03 1.26-.01-.63 .02 1.26-.01-.63 .02 1.26-.01-.63 .03 1.26-.02-.63 .03 1.26-.01-.63 .02 1.26-.01-.63 .03 1.26-.02-.63 .03 1.26-.01-.63 .02 1.26-.01-.63 .03 1.26-.02-.63 .03 1.26-.01-.63 .02 1.26-.01-.63 .03 1.26-.02-.63 .03 1.26-.01-.63 .02 1.26-.01-.63 .02 1.26-.01-.63 .03 1.26-.02-.63 .03 1.26-.01-.63 .02 1.26-.01-.63 .02 1.18 .42 1.68 .1-.33 .1 1.62 .1-1.31 .1 1.42 .1-1.01 .1 1.61 .1-.61 .42 4.57 .32-1.22-.16 .61 .31-1.22-.15 .61 .31-1.22-.16 .61 .32-1.22-.16 .61 .21-.82 .11-.86 .1 1.68 .11-1.04 .1 1.28 .1-1.36 .11 1.02 .1-1.25 .11 .99 .11 .4 .11-1.01 .11 1.35 .12-1.46 .11 .91 .28-21.11 .19 21.67 .23 5.96 .1 .41 .1-1.2 .1 1.19 .1-1.41 .1 1.23 .1-1.09 .1 .5 .25-1.23-.13 .61 .26-1.23-.13 .62 .26-1.24-.13 .62 .26-1.23-.13 .61 .18-.88 .11 .89 .1-1.83 .11 1.65 .1-1.61 .11 1.25 .1-1.05 .11 1.22 .1-.89 .7 2.04 .1-.66 .1 .97 .1-.83 .1 .81 .1-1.2 .1 1.64 .1-.92 .01-1.26 0 .63 .01-1.26-.01 .63 .01-1.26 0 .63 .01-1.26-.01 .63 .01-1.26 0 .63 .01-1.26-.01 .63 .01-1.26 0 .63 .01-1.26-.01 .63 .01-1.26 0 .63 .01-1.26-.01 .63 .01-1.26 0 .63 .01-1.26-.01 .63 .01-1.26 0 .63 .01-1.26-.01 .63 .01-1.26 0 .63 .01-1.26-.01 .63 .01-1.26 0 .63 .01-1.26-.01 .63 .02-1.26-.01 .63 .01-1.26 0 .63 .01-1.26-.01 .63 .01-1.26 0 .63 .01-1.26-.01 .63 .01-1.26 0 .63 .01-1.26-.01 .63 .01-1.26 0 .63 .01-1.26-.01 .63 .01-1.26 0 .63 .01-1.26-.01 .63 .01-1.26 0 .63 .01-1.26-.01 .63 .01-1.26 0 .63 .01-1.26-.01 .63 .01-1.26 0 .63 .01-1.26-.01 .63 .01-1.26 0 .63 .01-1.26-.01 .63 .02-1.26-.01 .63 .01-1.26 0 .63 .01-1.26-.01 .63 .01-1.26 0 .63 .01-1.26-.01 .63 .01-1.26 0 .63 .01-1.26-.01 .63 .01-1.26 0 .63 .01-1.26-.01 .63 .01-1.26 0 .63 .01-1.26-.01 .63 .01-1.26 0 .63 .01-1.26-.01 .63 .01-1.26 0 .63 .01-1.26-.01 .63 .01-.82 .02 1.26-.01-.63 .02 1.26-.01-.63 .02 1.26-.01-.63 .02 1.26-.01-.63 .02 1.26-.01-.63 .02 1.26-.01-.63 .02 1.26-.01-.63 .01 1.26 0-.63 .01 1.26-.01-.63 .02 1.26-.01-.63 .02 1.26-.01-.63 .02 1.26-.01-.63 .02 1.26-.01-.63 .02 1.26-.01-.63 .02 1.26-.01-.63 .02 1.26-.01-.63 .02 1.26-.01-.63 .02 1.26-.01-.63 .02 1.26-.01-.63 .02 1.26-.01-.63 .02 1.26-.01-.63 .02 1.26-.01-.63 .02 1.26-.01-.63 .02 1.26-.01-.63 .02 1.26-.01-.63 .01 1.26 0-.63 .01 1.26-.01-.63 .02 1.26-.01-.63 .02 1.04 .12 1.25-.06-.62 .13 1.25-.07-.63 .13 1.26-.06-.63 .18 2.17-.04-.63 .09 1.26-.05-.63 .1 1.26-.05-.63 .09 1.26-.04-.63 .09 1.25-.05-.62 .1 1.25-.05-.63 .1 1.26-.05-.63 .09 1.2 .11-.81 .11 1.64 .11-1.49 .12 1.45 .11-.52 .11 1.26-.06-.63 .12 1.26-.06-.63 .11 1.25-.05-.62 .11 1.25-.06-.63 .11 1.26-.05-.63 .11 1.26-.06-.63 .12 1.25-.06-.62 .11 1.25-.05-.63 .11 1.22 .1-.62 .1 1.37 .1-1.12 .1 1.06 .1-1.08 .1 .91 .1-.33 .14-1.25-.07 .63 .14-1.25-.07 .62 .14-1.25-.07 .63 .14-1.26-.07 .63 .14-1.25-.07 .62 .14-1.25-.07 .63 .14-1.25-.07 .62 .15-1.25-.08 .63 .25-1.83 .11 1.09 .11-1.51 .11 1.24 .11-.69 .37-27.48 .33 27.48 .28 8.94 .14 2.24 .14 1.25-.07-.63 .14 1.25-.07-.62 .14 1.25-.07-.63 .07 .64 .11-.61 .1 1.56 .1-1.36 .11 1.53 .1-1.12 .11 1.6 .1-1.28 .11 .8 .56 1.4 .1 .49 .11-.93 .1 .76 .11-.98 .1 1.23 .11-1.52 .1 1.56 .21-1.56 .1 1.22 .1-1.65 .1 1.07 .1-1.39 .1 .96 .1-1.03 .27 1.02 .14-32.04 .28 24.21 .12-.81 .11 1.73 .11-1.55 .11 1.73 .22-1.17 .12 1.44 .11-.87 .11 1.81 .22-1.37 .1 1.17 .11-1.87 .52 2 .1 .51 .1-.99 .1 .86 .1-1.1 .1 1.13 .1-1.7 .1 .83 .7 1.77 .56 1.67" clip-path="url(#p6d096c0628)" style="fill: none; stroke-dasharray: 5.55,2.4; stroke-dashoffset: 0; stroke: #ff0000; stroke-width: 1.5"/>
   </g>
   <g id="line2d_76">
    <path d="M60.15 96.5l.11 5.13 .69-5.41 .75-9.31 .74-4.85 1.22-.93 .65 1.3 .37 2.24 .37 0 .56-2.24 .28-.27 .84 .27 .93 .94 1.49 .93 .1 2.61 .28 3.72 .37 3.73 .56 3.73 .93 2.98 1.12 2.23 .84 1.12 .22 3.58 .14 5.59 1.12 4.19 1.4 2.8 1.67 2.23 .14 3.36 .7 4.19 1.4 3.35 1.96 3.08 .28 1.96 .83 2.51 1.68 2.24 1.68 1.95 .28 4.48 .56 2.79 1.39 2.52 2.11 2.98 .14 3.91 .27 2.8 .7 2.24 1.4 2.23 1.4 1.96 .33 .28 .14-2.33 .23 3.45 .42 3.35 .84 2.24 1.39 1.95 1.32 1.12 .22-4.7 .14 5.26 .56 1.26 3.35 1.39 .34-4.42 .22 6.52 .56 2.8 .84 .69 1.12 0 1.26 .56 .41-4.56 .14 6.1 .28 3.35 .7 1.96 .89 2.27 2.23 1.26 .14-4.56 .28 6.38 .7 1.39 1.4 1.12 1.67 .84 .23 .06 .14-5.32 .19 8.61 .56 .7 1.68-.42 1.54 .42 .28 0 .14-4.98 .28 7.36 .83 1.95 1.4 .7 1.73 .14 .14-8.61 .37 8.89 1.12 .7 1.39-.28 1.12 .28 .28 0 .14-6.52 .28 9.74 .56 1.95 3.21 1.12 .2 0 .14-10.01 .36 10.85 .7 .28 1.68-.28 1.26 .28 .25 0 .14-9.17 .44 9.17 .98 .84 2.82 .28 .14-10.99 .4 11.27 .83 1.95 1.4 1.4 1.4 .56 .22 0 .14-11.27 .34 12.11 .7 1.39 1.67 .7 1.26 .14 .28 0 .14-11.55 .42 9.88 1.26 .28 2.57 .27 .14-12.1 .36 12.94 .84 1.12 .37-.03 2.66 .28 .14-7.49 .41 6.24 .42 2.79 .11 .29 .1 .04 .11 .42 .1 .01 .11 .38 .1 .02 .11 .37 .1 .15 .1-.05 .11 .22 .1-.17 .1 .2 .1-.08 .1 .16 .1-.13 .11 .26 .1-.12 .1 .22 .2-.23 .1 .22 .1-.21 .1 .15 .1-.12 .1 .13 .1-.16 .1 .11 .1-.14 .1 .11 .1-.15 .1 .16 .1-.21 .1 .11 .08 0 .14-11.97 .34 11.69 .1-.01 .11-.31 .1 .09 .11-.27 .1 .11 .11-.38 .1 .16 .21-.42 .1 .11 .1-.22 .1 .07 .1-.21 .1 .1 .11-.28 .1 .14 .1-.29 .1 .14 .1-.21 .1-.1 .11 .2 .1-.09 .1 .23 .1-.21 .1 .27 .1-.21 .11 .17 .1-.14 .1 .26 .2-.26 .1 .06 .1-.22 .1 .14 .1-.34 .1 .1 .1-.14 .14 0 .14-12.39 .42 12.67 .56 2.24 .1 .08 .11 .33 .1-.07 .11 .32 .1-.06 .11 .31 .1-.06 .11 .26 .1 .08 .1-.17 .1 .19 .1-.15 .1 .18 .1-.15 .09 .25 .1-.28 .1 .23 .1-.22 .1 .23 .1-.16 .1 .25 .2-.27 .1 .17 .1-.24 .1 .22 .1-.18 .1 .21 .1-.25 .1 .17 .1-.11 .14 0 .14-10.01 .5 9.73 .11-.24 .1 .08 .11-.32 .1 .09 .1-.32 .11 .14 .1-.39 .11-.01 .1 .08 .1-.31 .1 .19 .11-.19 .1 .19 .1-.34 .1 .2 .1-.21 .1 .18 .11-.34 .1 .13 .1 .03 .1-.3 .1 .27 .1-.33 .11 .18 .1-.23 .1 .09 .1-.28 .1 .2 .1-.28 .22 .18 .11-.24 .11 .28 .11-.23 .11 .1 .14 0 .14-11.55 .42 11.83 .42 2.23 .11 .11 .1-.12 .11 .25 .1-.26 .11 .33 .1-.19 .11 .3 .21-.33 .1 .05 .11-.27 .1 .11 .1-.29 .11 .05 .1-.3 .11 0 .1 .17 .11-.18 .1 .23 .11-.24 .1 .38 .11-.29 .1 .33 .22-.29 .1 .18 .11-.2 .11 .1 .11-.28 .1 .28 .11-.19 .14 0 .14-11.82 .37 11.55 .41 2.51 .11-.06 .11 .34 .11-.2 .11 .36 .11-.21 .11 .28 .11-.23 .1 .4 .21-.31 .1 .28 .1-.35 .1 .32 .1-.32 .1 .23 .1-.36 .1 .33 .1-.33 .1 .26 .1-.38 .1 .29 .1-.32 .2 .28 .11-.21 .1 .34 .1-.18 .1 .27 .11-.29 .1 .42 .1-.3 .1 .21 .14 0 .14-13.78 .48 14.06 .1 .23 .11-.18 .1 .39 .11-.17 .1 .33 .11-.15 .1 .31 .21-.19 .11 .25 .1-.26 .11 .31 .1-.28 .1 .35 .11-.29 .1 .19 .11-.18 .1 .29 .11-.26 .1 .21 .11-.28 .1 .36 .11-.28 .2 .33 .11-.31 .1 .28 .1-.26 .1 .23 .1-.31 .1 .37 .11-.38 .1 .31 .1-.27 .1 .15 .14 0 .14-11.97 .34 11.97 .36 3.35 .1 .31 .1-.26 .1 .48 .1-.25 .1 .43 .1-.09 .2 .35 .1-.26 .1 .21 .1-.25 .1 .28 .1-.31 .1 .25 .1-.32 .1 .39 .1-.36 .1 .22 .1-.18 .1 .27 .2-.35 .1 .21 .1-.39 .1 .23 .1-.37 .1 .22 .1-.23 .1 .18 .1-.28 .11 .23 .1-.36 .1 .15 .1-.15 .14 0 .14-14.06 .42 14.06 .11-.08 .11 .37 .11-.28 .12 .43 .11-.36 .11 .46 .21-.27 .1 .22 .11-.29 .1 .15 .1-.27 .1 .3 .1-.33 .1 .19 .11-.29 .1 .27 .2-.46 .1 .25 .1-.44 .1 .25 .1-.42 .1 .34 .1-.3 .1-.04 .1 .36 .1-.35 .1 .34 .11-.2 .1 .37 .1-.34 .1 .41 .1-.26 .1 .43 .11-.16 .13 0 .14-13.08 .42 13.64 .12 .13 .11 .61 .11-.01 .11 .58 .11 .09 .1-.23 .11 .36 .1-.4 .1 .28 .1-.36 .1 .43 .1-.49 .11 .37 .1-.39 .1 .31 .1-.16 .11-.33 .1 .33 .11-.45 .1 .13 .11-.36 .1 .22 .1-.48 .11 .1 .11 .21 .1-.2 .11 .35 .11-.25 .1 .35 .11-.27 .11 .3 .1-.29 .11 .36 .11-.16 .1 .16 .14 0 .14-11.83 .37 12.11 .42 1.68 .1 .24 .1-.39 .1 .46 .1-.38 .1 .43 .11-.31 .1 .25 .1-.27 .1 .33 .1-.31 .21 .41 .1-.35 .1 .39 .1-.4 .1 .31 .1-.28 .11 .37 .1-.45 .1 .35 .1-.35 .21 .45 .1-.42 .11 .33 .11-.31 .1 .28 .11-.36 .11 .34 .1-.29 .11 .32 .1-.25 .14 0 .15-17.56 .56 15.52 .42 2.51 .1-.32 .11 .21 .1-.51 .11 .16 .1-.41 .11 .19 .1-.54 .11 .1 .1 .22 .1-.4 .1 .27 .1-.3 .1 .25 .11-.41 .1 .43 .1-.43 .1 .29 .1-.29 .1 .09 .11 .19 .11-.43 .1 .36 .11-.34 .11 .32 .1-.22 .11 .25 .11-.33 .1 .35 .11-.3 .11 .15 .17 0 .13-17.27 .48 16.99 .42 1.68 .11 .2 .11-.34 .11 .27 .1-.33 .11 .25 .11-.32 .11 .33 .11-.34 .21 .24 .1-.41 .1 .24 .1-.31 .11 .26 .1-.46 .1 .32 .1-.48 .1 .37 .1-.5 .21 .28 .1-.38 .1 .43 .1-.51 .1 .37 .11-.32 .1 .37 .1-.4 .1 .37 .1-.54 .1 .22 .14 0 .14-13.22 .42 13.22 .42 2.1 .11 .1 .1-.49 .11 .13 .1-.47 .11 .29 .1-.53 .11 .23 .2-.43 .1 .35 .11-.33 .1 .2 .1-.37 .1 .44 .1-.54 .1 .35 .1-.32 .11 .38 .2-.45 .1 .37 .1-.36 .1 .21 .1-.24 .1 .2 .11-.32 .1 .36 .1-.41 .1 .3 .1-.27 .1 .24 .1-.16 .14 0 .14-11.69 .42 11.69 .1-.04 .1 .6 .1 0 .1 .6 .21-.14 .1 .49 .1-.32 .1 .42 .1-.3 .1 .44 .11-.3 .1 .38 .1-.25 .1 .55 .2-.37 .1 .25 .11-.47 .1 .34 .1-.37 .1 .2 .1-.39 .1 .23 .11-.42 .1 .44 .21-.55 .11 .46 .11-.48 .1 .37 .11-.4 .11 .39 .11-.49 .11 .51 .11-.26 .14 0 .14-14.76 .42 14.48 .28 3.63 .1-.34 .1 .39 .1-.53 .1 .34 .1-.63 .11 .39 .1-.57 .1 .38 .1-.52 .1 .31 .21-.57 .11 .15 .11-.47 .11 .16 .11-.39 .11 .26 .11-.56 .1 .24 .11-.27 .1-.12 .1 .66 .1-.23 .1 .55 .1-.27 .1 .57 .1-.04 .12-.23 .12 .4 .11-.56 .12 .4 .12-.29 .14 0 .14-13.65 .42 13.65 .53 1.39 .11-.07 .11 .36 .1-.44 .11 .43 .11-.3 .11 .32 .11-.22 .11 .35 .21-.38 .11 .17 .11-.54 .11 .38 .11-.52 .11 .38 .11-.61 .11 .4 .1-.4 .1-.22 .1 .5 .11-.37 .1 .35 .1-.46 .1 .38 .1-.39 .1 .43 .1-.32 .1 .35 .1-.33 .1 .21 .14 0 .14-20.26 .47 18.59 .11 .57 .11-.2 .12 .67 .11-.15 .11 .51 .1 .21 .1-.3 .1 .44 .1-.41 .1 .42 .1-.37 .1 .28 .1 .06 .11-.37 .1 .16 .11-.38 .1 .15 .11-.5 .1 .33 .21-.56 .11 .55 .1-.36 .1 .42 .11-.58 .1 .43 .11-.4 .1 .48 .11-.38 .1 .51 .11-.45 .1 .38 .1-.49 .11 .55 .1-.24 .14 0 .14-17.28 .39 16.3 .28 3.63 .11-.02 .1 .57 .11-.15 .1 .64 .11-.14 .1 .48 .11-.13 .1 .43 .1 .16 .1-.31 .11 .47 .1-.42 .1 .39 .1-.37 .1 .45 .1-.43 .11 .5 .1-.5 .2 .67 .11-.52 .1 .45 .11-.26 .1 .46 .11-.52 .1 .54 .22-.43 .1 .3 .11-.46 .11 .43 .1-.51 .11 .19 .14 0 .14-19.6 .42 14.01 .61 1.95 .11 .12 .1-.36 .1 .44 .1-.65 .1 .56 .1-.46 .11 .21 .1-.33 .1 .33 .1-.48 .2 .35 .11-.34 .1 .36 .1-.25 .1 .4 .1-.47 .1 .49 .11-.42 .1 .41 .1-.36 .21 .33 .1-.49 .1 .52 .11-.45 .1 .23 .11-.46 .1 .49 .11-.27 .14 0 .14-13.65 .42 13.65 .42 1.67 .1-.23 .1 .35 .1-.48 .1 .45 .11-.47 .1 .55 .1-.53 .1 .39 .1-.53 .1 .56 .21-.56 .1 .39 .1-.34 .1 .42 .1-.44 .1 .25 .11-.38 .1 .44 .1-.49 .1 .43 .21-.52 .11 .37 .1-.33 .11 .37 .1-.43 .11 .27 .11-.49 .1 .49 .11-.48 .11 .13 .13 0 .14-14.06 .4 14.06 .36 2.52 .1 .39 .1-.13 .1 .61 .1-.31 .1 .75 .1-.43 .2 .84 .1-.51 .1 .5 .1-.45 .1 .37 .1-.38 .1 .53 .1-.61 .1 .49 .1-.36 .1 .4 .1-.38 .1 .41 .2-.45 .11 .3 .1-.45 .1 .46 .11-.58 .1 .47 .11-.59 .1 .34 .11-.5 .1 .53 .11-.54 .1 .12 .14 0 .14-20.49 .48 19.09 .1 .46 .1-.25 .1 .78 .1-.35 .2 .77 .1-.42 .11 .36 .1-.52 .1 .42 .1-.27 .1 .41 .1-.58 .11 .44 .1-.38 .1 .25 .1 .13 .1-.43 .1 .52 .11-.44 .1 .32 .1-.46 .1 .5 .1-.52 .1 .47 .11-.41 .1 .18 .1 .34 .1-.57 .1 .5 .09-.44 .1 .52 .1-.53 .1 .6 .1-.5 .1 .22 .14 0 .09-13.31 .5 12.81 .52 1.48 .11-.53 .1 .65 .1-.54 .1 .69 .1-.51 .1 .55 .11-.44 .1 .62 .1-.43 .1 .27 .1 .15 .1-.42 .11 .36 .1-.67 .1 .46 .1-.41 .1 .25 .1-.44 .11 .33 .1-.57 .1 .26 .11 .07 .11-.38 .11 .27 .1-.46 .11 .48 .11-.51 .11 .23 .11-.41 .11 .15 .14 0 .14-15.32 .42 16.16 .42 1.96 .1 .25 .09-.15 .1 .42 .1-.21 .1 .46 .1-.32 .1 .39 .11 .22 .1-.44 .1 .3 .1-.36 .1 .31 .1-.47 .11 .45 .1-.45 .1 .5 .1-.54 .1 .2 .11 .09 .1-.58 .11 .54 .1-.59 .11 .34 .1-.65 .11 .46 .1-.31 .42 1.54 .28-.84 .08 0 .12-20.3 .5 17.22 .56 1.4 .1-.27 .1 .66 .1-.44 .1 .49 .11-.42 .1 .46 .1-.46 .1 .65 .1-.38 .1 .34 .11-.07 .1-.18 .1 .46 .1-.46 .1 .61 .1-.49 .1 .44 .11-.27 .1 .38 .1-.32 .1 .52 .21-.59 .1 .4 .11-.68 .1 .43 .11-.5 .1 .3 .11-.53 .1 .2 .11 0 .14-19.79 .51 18.67 .1 .49 .11-.41 .11 .62 .1-.13 .11 .64 .21-.15 .1 .44 .1-.37 .11 .62 .1-.49 .1 .62 .1-.41 .1 .55 .1-.42 .11 .6 .1-.24 .1-.13 .1 .45 .1-.45 .1 .42 .11-.46 .1 .4 .1-.44 .1 .5 .1-.36 .1 .33 .11-.12 .1-.29 .1 .31 .11-.6 .1 .38 .1-.57 .11 .31 .1-.24 .14 0 .14-16.16 .45 15.6 .1-.22 .1 .75 .1-.46 .1 .5 .1-.01 .11-.31 .1 .38 .11-.56 .1 .31 .11-.56 .1 .23 .11-.56 .21 .42 .1-.56 .1 .31 .11-.54 .1 .28 .11-.55 .1 .32 .22-.73 .11 .15 .11-.73 .12 .19 .11-.42 .11 .08 .11 .7 .11-.22 .11 .77 .12-.08 .42 .28 .08 0 .14-14.7 .42 16.1 .33 3.07 .11-.16 .1 .59 .11-.16 .1 .44 .11-.28 .1 .69 .11-.3 .21 .56 .1-.46 .11 .61 .1-.34 .11 .37 .1-.28 .11 .36 .1-.1 .11-.37 .1 .19 .11-.61 .1 .38 .11-.61 .1 .34 .1-.71 .21 .37 .11-.58 .1 .33 .11-.48 .1 .27 .11-.4 .1 .41 .11-.34 .14 0 .14-20.36 .5 18.96 .48 1.67 .1-.18 .1 .6 .1-.3 .1 .4 .1-.31 .1 .54 .2-.41 .1 .28 .1-.52 .1 .45 .1-.67 .1 .48 .11-.49 .1 .37 .1-.68 .1 .48 .2-.55 .1 .4 .11-.41 .1 .39 .1-.64 .1 .54 .1-.55 .1 .55 .1-.5 .1 .46 .1-.62 .11 .39 .1-.19 .14 0 .14-18.06 .5 17.08 .11-.24 .11 .54 .11-.45 .1 .54 .11-.52 .11 .45 .11-.36 .11 .5 .11-.32 .1-.09 .1 .54 .1-.5 .1 .55 .11-.43 .1 .49 .1-.44 .1 .73 .1-.58 .1 .62 .21-.36 .1 .45 .1-.51 .1 .5 .1-.51 .11 .41 .1-.57 .1 .46 .1-.42 .1 .37 .21-.39 .1 .19 .11-.61 .1 .24 .14 0 .14-16.53 .48 17.09 .36 1.53 .11 .12 .11-.54 .11 .48 .11-.57 .1 .38 .11-.63 .11 .35 .11-.37 .11 .08 .1 .23 .1-.38 .1 .36 .11-.45 .1 .41 .1-.4 .1 .42 .1-.43 .1 .44 .11-.46 .21 .56 .11-.23 .11 .59 .11-.32 .12 .5 .1 .12 .1-.62 .1 .3 .11-.62 .1 .4 .1-.42 .14 0 .14-20.77 .5 20.22 .12-.04 .11 .77 .11-.46 .11 .82 .11-.12 .1-.27 .11 .37 .1-.54 .1 .51 .1-.62 .1 .41 .1-.52 .11 .48 .1-.58 .1 .26 .2-.47 .1 .62 .11-.59 .1 .55 .1-.53 .1 .49 .1-.43 .1 .41 .11-.28 .1 .39 .2-.5 .1 .39 .1-.4 .1 .36 .11-.57 .1 .37 .1-.42 .1 .14 .14 0 .14-17.84 .45 18.67 .55 1.96 .11 .23 .11-.37 .11 .76 .11-.52 .11 .68 .11-.44 .11 .62 .1-.39 .21 .52 .11-.58 .1 .54 .1-.51 .1 .41 .1-.49 .1 .36 .11-.62 .1 .42 .1-.34 .2 .26 .1-.46 .1 .27 .1-.53 .1 .56 .1-.59 .11 .35 .1-.53 .1 .32 .1-.21 .14 0 .14-23.39 .05-.03 .55 18.07 .38 4.1 .1-.19 .11 .62 .1-.63 .11 .62 .1-.35 .11 .4 .1-.47 .22 .7 .11-.49 .11 .48 .11-.52 .23 .32 .11-.5 .11 .37 .11-.78 .22 .38 .11-.46 .1 .4 .11-.51 .11 .43 .1-.31 .22 .33 .11-.55 .11 .44 .12-.72 .11 .25 .11 0 .09-20.22 .45 16.86 .28 4.85 .37 1.3 .11 .19 .12-.71 .11 .22 .11-.47 .11 .03 .11 .08 .11-.59 .12 .34 .11-.45 .11 .06 .11 .2 .1-.42 .11 .6 .11-.48 .1 .51 .11-.58 .21 .64 .11-.41 .1 .4 .11-.5 .11 .63 .1-.43 .11 .21 .5-.19 .1 0 .09-18.81 .52 15.65 .28 2.98 .11 .38 .1-.31 .11 .65 .11-.22 .1 .56 .11-.29 .11 .35 .1 .07 .11-.59 .11 .34 .1-.44 .11 .38 .11-.58 .21 .15 .11-.54 .1 .31 .11-.6 .1 .57 .11-.59 .11 .03 .11 .3 .11-.45 .11 .58 .11-.47 .12 .41 .1 .02 .1-.62 .1 .2 .11-.74 .1 .26 .1-.43" clip-path="url(#p6d096c0628)" style="fill: none; stroke: #000000; stroke-width: 1.5; stroke-linecap: square"/>
   </g>
   <g id="line2d_77">
    <path d="M60.21 102.09l1.12-1.21 .93 .38 .22 2.79 .62-2.79 .21 8.36 .56 2.8 .84 2.51 0 12.11 .84-8.84 .84 3.16 .56 6.71 .84 7.82 .27 2.24 .56 10.43 .56-5.77 .28 12.39 .28 5.31 .84 10.62 .84 8.11 1.4 6.43 1.11 6.42 .31-.08 .42 2.51 .97 3.91 .84 3.08 1.12 .79 .2-11.92 .5 5.82 .42 5.73 .28 2.51 1.4 2.38 1.62 1.35 .19-3.17 .09-2.79 .05-8.2 .23 2.19 .19 1.4 .42 .55 1.12 .7 .84 2.1 .84 1.21 .55-2.7 .23 2.61 0 3.63 0-.63 0 1.26 0-.63 0 1.26 0-.63 0 1.26 0-.63 0 1.26 0-.63 0 1.26 0-.63 0 1.26 0-.63 0 3.56 .07 1.26 0-.63 .04 1.26 0-.63 .03 1.25 0-.62 .04 1.25 0-.63 .01 .84 .53 2.47 .1-.36 .11 .93 .1-.28 .11 .59 .1-.33 .11 .89 .1 .01 .36 1.2 0-.6 .18 1.21 0-.61 .19 1.21 0-.6 .11 .98 .1-.44 .11 .76 .1-.69 .11 .72 .1-.64 .11 .56 .1-.54 .21 .77 .1-.73 .1 .69 .1-.74 .11 .53 .1-.57 .1 .72 .1-.59 .1 .42 .1-.59 .11 .41 .38 3.72 0-.63 .05 1.26 0-.63 .05 1.26 0-.63 .06 1.26 0-.63 .02 .84 .1 .5 .1-.67 .1 .93 .1-.69 .1 .85 .11-.56 .1 .82 .1-.6 .1 .99 .1-.49 .21 .6 .1-.35 .1 .76 .1-.66 .11 .72 .1-.52 .1 .65 .1-.52 .11 .63 .1-.52 .1 .75 .1-.69 .11 .88 .1-.73 .1 .52 .1 .21 .1-1.09 .1 .61 .1-.79 .1 .42 .1-1.08 .1 .24 .47-2.61 .14 1.26 0-.63 .06 1.25 0-.62 .07 1.25 0-.63 .1 6.13 .1-.03 .11-.9 .1 .5 .11-.84 .1 .17 .11-.86 .1 .63 .11-.72 .25-1.23 0 .62 .13-1.24 0 .62 .13-1.23 0 .61 .13-1.23 0 .62 .06-.89 .09-.62 .1 .48 .1-.71 .1 .25 .1-.86 .1 .61 .1-.64 .1-.23 .1 .47 .1-.58 .1 .5 .1-.69 .1 .63 .1-.48 .56-2.04 .42-3.73 .04 1.26 0-.63 .02 1.26 0-.63 .02 1.26 0-.63 .02 1.26 0-.63 .01 1.26 0-.63 .02 1.26 0-.63 .02 1.26 0-.63 .02 1.26 0-.63 .02 1.26 0-.63 .02 1.26 0-.63 .02 1.26 0-.63 .02 1.26 0-.63 .02 1.26 0-.63 .06 6.97 .05 1.26 0-.63 .03 1.26 0-.63 .03 1.26 0-.63 .02 1.19 .34 1.21 0-.61 .17 1.22 0-.61 .17 1.22 0-.61 .02 .69 .11-.18 .1 .68 .1-.24 .1 .67 .1-.47 .1 .72 .11-.23 .1 .76 .1-.52 .1 .87 .2-.76 .1 .68 .11-.62 .1 .6 .1-.72 .1 .67 .1-.71 .1 .65 .11-.83 .1 .73 .2-.72 .11 .61 .1-.69 .11 .43 .1-.79 .11 .72 .1-.73 .11 .26 .02-1.26 0 .63 .01-1.26 0 .63 .01-1.26 0 .63 .01-1.26 0 .63 .02-1.26 0 .63 .01-1.26 0 .63 .01-1.26 0 .63 .01-1.26 0 .63 .01-1.26 0 .63 .01-1.26 0 .63 .01-1.26 0 .63 .04-2.15 0 .63 .01-1.26 0 .63 .02-1.26 0 .63 .01-1.26 0 .63 .01-1.07 .09 1.26 0-.63 .04 1.26 0-.63 .04 1.26 0-.63 .04 1.26 0-.63 .05 1.25 0-.62 .04 1.25 0-.63 .04 1.21 .09 1.26 0-.63 .05 1.26 0-.63 .05 1.26 0-.63 .05 1.25 0-.62 .04 1.12 .1 .33 .11-.74 .1 .52 .11-.57 .1 .65 .11-.71 .1 .62 .11-.29 .55-3.45 .11-.42 .1 .53 .11-.4 .1 .53 .11-.87 .1 .67 .11-.59 .21 .59 .1-.65 .11 .51 .1-.58 .11 .51 .1-.67 .11 .58 .1-.3 .42 2.33 .05-1.26 0 .63 .02-1.26 0 .63 .02-1.26 0 .63 .03-1.26 0 .63 .02-1.26 0 .63 .02-1.26 0 .63 .03-1.26 0 .63 .02-1.26 0 .63 .02-1.26 0 .63 .03-1.26 0 .63 .02-1.26 0 .63 0-.66 .38 5.68 0-.63 .06 1.26 0-.63 .05 1.26 0-.63 .05 1.25 0-.62 .02 3.35 .04 1.26 0-.63 .03 1.26 0-.63 .02 1.26 0-.63 .02 1.26 0-.63 .02 1.26 0-.63 .01 .77 .1-.31 .11 .73 .1-.42 .11 .74 .1-.58 .11 .55 .1-.45 .21 .85 .1-.49 .1 .55 .1-.45 .11 .78 .1-.64 .1 .81 .1-.56 .1 .58 .1-.56 .2 .9 .1-.75 .1 .55 .1-.44 .1 .54 .1-.56 .1 .65 .1-.84 .1 .66 .1-.48 .1 .67 .1-.78 .1 .79 .1-.42 .02-1.26 0 .63 .01-1.26 0 .63 0-1.26 0 .63 .01-1.26 0 .63 .01-1.26 0 .63 .01-1.26 0 .63 0-1.26 0 .63 .01-1.26 0 .63 .01-1.26 0 .63 .01-1.26 0 .63 .01-1.26 0 .63 0-1.26 0 .63 .01-1.26 0 .63 .01-1.26 0 .63 .01-1.26 0 .63 0-1.26 0 .63 .01-1.26 0 .63 .07-1.95 0 .63 .04-1.26 0 .63 .03-1.26 0 .63 .03-1.26 0 .63 .03-1.07 .13 1.26 0-.63 .06 1.25 0-.62 .06 1.25 0-.63 .07 1.26 0-.63 .04 1.08 .52 6.84 0-.63 .05 1.26 0-.63 .05 1.26 0-.63 .06 1.25 0-.62 .02 .93 .15-1.25 0 .62 .08-1.25 0 .63 .07-1.25 0 .62 .08-1.25 0 .63 .07-1.26 0 .63 .08-1.25 0 .62 .03-.89 .1-.38 .11 .51 .1-.68 .11 .67 .1-.75 .11 .31 .1-.72 .21 .88 .11-.9 .1 .86 .11-.76 .1 1.02 .11-.69 .1 .73 .22-.7 .11 1.02 .11-.62 .11 .8 .12-.14 .33-2.05 .2-.79 .15 1.25 0-.62 .08 1.25 0-.63 .08 1.25 0-.62 .08 1.25 0-.63 .05 1.09 0 3.77 0-.63 0 1.26 0-.63 0 1.26 0-.63 .05 2.44 0-.63 .02 1.26 0-.63 .02 1.26 0-.63 .02 1.26 0-.63 .03 1.26 0-.63 0 .86 .11-.41 .1 .77 .11-.81 .1 .77 .11-.77 .1 1.07 .11-1.03 .1 .6 .56-3.17 .28 2.98 .11 .32 .1-.86 .1 .63 .11-1 .1 .52 .11-1.04 .1 .84 .11-.62 .36-1.21 0 .61 .18-1.21 0 .6 .18-1.2 0 .6 .12-.98 .28-4.01 .11-.29 .11 1.19 .11-.55 .11 1.29 .12-.43 .12 1.25 0-.62 .06 1.25 0-.63 .07 1.26 0-.63 .03 .92 .27 4 .11-.68 .1 .58 .11-1.14 .1 .99 .11-1.27 .1 .8 .11-1.65 .2 1.25 .1-1.35 .1 1.04 .1-.85 .1 1.39 .1-1 .1 .79 .1-.82 .1 1.05 .1-1.04 .1 1.11 .1-1.21 .1 1.05 .1-.25 .2 1.24 0-.62 .1 1.25 0-.63 .1 1.25 0-.62 .02 .73 .13-1.25 0 .63 .07-1.26 0 .63 .06-1.25 0 .62 .07-1.25 0 .63 .06-1.26 0 .63 .1-2.12 0 .62 .04-1.25 0 .63 .04-1.26 0 .63 .04-1.26 0 .63 .03-1.26 0 .63 .04-1.26 0 .63 .04-1.26 0 .63 .04-1.26 0 .63 .02-1.06 .13 1.25 0-.63 .06 1.26 0-.63 .07 1.25 0-.62 .06 1.25 0-.63 .06 1.26 0-.63 .07 1.25 0-.62 .31 6.25 .28 1.95 .11-.66 .11 1.42 .11-.85 .11 1.37 .12-.35 .1-.73 .1 .92 .1-1.5 .1 1.28 .1-1.48 .11 .87 .1-1.23 .1 .82 .1-1.34 .1 1.35 .21-1.68 .11 .97 .11-.97 .11 1.04 .11-1.45 .11 1.61 .1-1.59 .11 1.49 .21-2.24 0 .63 .04-1.26 0 .63 .05-1.26 0 .63 .05-1.26 0 .63 .04-1.25 0 .62 .05-1.25 0 .63 .05-1.26 0 .63 .08-2.45 0 .63 .03-1.26 0 .63 .02-1.26 0 .63 .02-1.26 0 .63 .02-1.26 0 .63 .02-1.26 0 .63 .02-1.26 0 .63 .02-1.26 0 .63 .03-1.26 0 .63 .02-1.26 0 .63 .02-1.26 0 .63 .02-1.26 0 .63 0-.64 .07 1.26 0-.63 .03 1.26 0-.63 .03 1.26 0-.63 .03 1.26 0-.63 .04 1.26 0-.63 .03 1.26 0-.63 .03 1.25 0-.62 .02 .99 .09 1.26 0-.63 .05 1.26 0-.63 .05 1.25 0-.62 .05 1.25 0-.63 .04 1.26 0-.63 .05 1.26 0-.63 .05 1.26 0-.63 .04 1.19 .42 4.19 .17 1.25 0-.62 .09 1.24 0-.62 .09 1.25 0-.63 .08 1.25 0-.62 .09 1.25 0-.63 .04 .88 .84-5.2 .26 1.23 0-.62 .13 1.23 0-.61 .14 1.23 0-.62 .03 .76 .55 2.05 .11-1.26 0 .63 .06-1.26 0 .63 .05-1.26 0 .63 .06-1.25 0 .62 .05-1.25 0 .63 .05-1.26 0 .63 .09-2.33 0 .63 .02-1.26 0 .63 .02-1.26 0 .63 .02-1.26 0 .63 .02-1.26 0 .63 .02-1.26 0 .63 .02-1.26 0 .63 .02-1.26 0 .63 .02-1.26 0 .63 .02-1.26 0 .63 .02-1.26 0 .63 .02-1.26 0 .63 .02-1.26 0 .63 .03-1.26 0 .63 .02-1.26 0 .63 0-.71 .14 18.91 .16-1.25 0 .62 .08-1.25 0 .63 .09-1.25 0 .62 .08-1.24 0 .62 .08-1.25 0 .63 .08-1.25 0 .62 .09-1.25 0 .63 .08-1.25 0 .62 .04-.96 .11-.85 .1 1.7 .11-2.1 .1 2.55 .11-2.11 .1 2.09 .11-2.47 .1 1.19 .28-1.23 0 .62 .14-1.23 0 .61 .13-1.23 0 .62 .14-1.23 0 .61 .14-1.23 0 .62 .01-.65 .35 1.21 0-.61 .18 1.21 0-.6 .18 1.21 0-.61 .18 1.21 0-.6 .17 1.21 0-.61 .06 .79 .12-1.25 0 .62 .06-1.25 0 .63 .06-1.26 0 .63 .07-1.26 0 .63 .06-1.25 0 .62 .06-1.25 0 .63 .06-1.26 0 .63 .06-1.25 0 .62 .01-.66 .41-3.3 .56 3.3 .28 6.99 .11 1.24 .11-2.16 .11 2.25 .11-2.01 .11 1.61 .11-1.49 .1 1.55 .11-1.02 .11 .68 .56-2.7 .26 1.23 0-.61 .14 1.23 0-.62 .13 1.24 0-.62 .13 1.23 0-.61 .13 1.23 0-.62 .14 1.23 0-.61 .13 1.23 0-.62 .06 .9 .05-1.26 0 .63 .02-1.26 0 .63 .02-1.26 0 .63 .03-1.26 0 .63 .02-1.26 0 .63 .03-1.26 0 .63 .02-1.26 0 .63 .02-1.25 0 .62 .03-1.25 0 .63 .02-1.26 0 .63 .07-2.32 0 .63 .03-1.26 0 .63 .03-1.26 0 .63 .02-1.26 0 .63 .03-1.26 0 .63 .03-1.26 0 .63 .03-1.26 0 .63 .02-1.26 0 .63 .03-1.26 0 .63 .03-1.26 0 .63 .02-1.26 0 .63 .01-.85 .37 4.98 .12 1.25 0-.62 .06 1.25 0-.63 .07 1.26 0-.63 .06 1.25 0-.62 .06 1.25 0-.63 .05 1.06 .38 1.2 0-.6 .2 1.2 0-.6 .19 1.2 0-.6 .17 1.85 .1-1.86 .11 1.61 .1-2.33 .11 2.07 .1-2.56 .11 2.09 .2-2.02 .11 1.81 .1-1.41 .1 2.17 .1-1.76 .1 1.8 .1-1.45 .11 2.51 .1-1.57 .1 1.43 .1-.54 .84 2.23 .13 1.26 0-.63 .06 1.25 0-.62 .07 1.25 0-.63 .06 1.26 0-.63 .06 1.25 0-.62 .07 1.25 0-.63 .06 1.26 0-.63 .07 1.25 0-.62 .06 1.25 0-.63 .07 1.26 0-.63 .06 1.25 0-.62 .06 1.25 0-.63 .01 .68 .84-4.28 .56-1.49 .36-.36 .12-.69 .11 1.16 .11-1.28 .11 1.51 .11-.98 0-2.23 .79-4.04 0 .62 .11-1.24 0 .62 .11-1.24 0 .62 .11-1.21 .02-1.26 0 .63 .01-1.26 0 .63 .01-1.26 0 .63 .02-1.26 0 .63 .01-1.26 0 .63 .01-1.26 0 .63 .01-1.26 0 .63 .01-1.26 0 .63 .01-1.26 0 .63 .01-1.26 0 .63 .01-1.26 0 .63 .01-1.26 0 .63 0-.64 .06 1.26 0-.63 .03 1.26 0-.63 .04 1.26 0-.63 .03 1.26 0-.63 .03 1.26 0-.63 .03 1.26 0-.63 .03 1.26 0-.63 .03 1.25 0-.62 .03 1.25 0-.63 .03 1.26 0-.63 .03 1.26 0-.63 .04 1.26 0-.63 .08 2.18 0-.63 .04 1.26 0-.63 .03 1.26 0-.63 .04 1.26 0-.63 .03 1.26 0-.63 .04 1.26 0-.63 .03 1.26 0 4 .14-1.86 .1-.52 .1 1.36 .1-1.05 .1 2.06 .1-1.62 .1 1.82 .1-.75 .28-1.23 0 .61 .13-1.22 0 .61 .14-1.23 0 .62 .14-1.23 0 .61 .14-1.23 0 .62 .01-.65 .11-.89 .11 1.76 .11-1.77 .11 1.56 .12-.75 .09 1.25 0-.62 .04 1.25 0-.63 .05 1.26 0-.63 .05 1.26 0-.63 .04 1.26 0-.63 .01 .67 .24-1.24 0 .62 .12-1.24 0 .62 .12-1.24 0 .62 .35-3.82 .04-1.26 0 .63 .01-1.26 0 .63 .02-1.26 0 .63 .02-1.26 0 .63 .01-1.26 0 .63 .02-1.26 0 .63 .01-1.26 0 .63 .02-1.26 0 .63 .02-1.26 0 .63 .01-1.26 0 .63 .02-1.26 0 .63 .02-1.26 0 .63 .01-1.26 0 .63 .02-1.26 0 .63 .01-1.26 0 .63 .02-1.26 0 .63 0-.77 .08 1.26 0-.63 .04 1.26 0-.63 .04 1.26 0-.63 .04 1.25 0-.62 .04 1.25 0-.63 .04 1.26 0-.63 .04 1.26 0-.63 .04 1.26 0-.63 .04 1.26 0-.63 .02 1 .28 4.19 .1-.8 .1 1.71 .1-1.17 .1 1.53 .1-1.13 .1 1.09 .1-.39 .56 2.04 .1-.63 .1 .94 .11-1.38 .1 .79 .1-1.38 .1 1.43 .1-1.56 .1 1.04 .1-1.48 .11 1.18 .1-.99 .1-.61 .11 1.14 .1-.86 .11 .79 .1-.86 .11 1.13 .1-.89 .11 .44 .12-1.26 0 .63 .06-1.25 0 .62 .06-1.25 0 .63 .06-1.26 0 .63 .07-1.25 0 .62 .06-1.25 0 .63 .04-1.08 .15 1.25 0-.63 .07 1.26 0-.63 .07 1.25 0-.62 .07 1.25 0-.63 .01 .66 .39 2.76 .11-.94 .11 1.28 .11-1.23 .11 .65 .14 1.25 0-.63 .07 1.26 0-.63 .07 1.25 0-.62 .05 1.89 0-.63 .02 1.26 0-.63 .02 1.26 0-.63 .02 1.26 0-.63 .03 1.26 0-.63 0 .85 .98-3.25 .67 3.52 .11-1.06 .12 1.26 .11-1.34 .11 .79 .09-1.26 0 .63 .05-1.26 0 .63 .05-1.26 0 .63 .04-1.26 0 .63 .05-1.25 0 .62 .05-1.25 0 .63 .05-1.26 0 .63 .29-8.13 .45 6.94 .12 1.25 0-.63 .07 1.26 0-.63 .06 1.25 0-.62 .03 2.17 0-.63 0 1.26 0-.63 0 1.26 0-.63 0 1.26 0-.63 0 1.26 0-.63 0 1.26 0-.63 0 1.26 0-.63 0 1.18 .1 .49 .11-.99 .1 1.38 .11-1.34 .1 1.6 .11-1.07 .1 .88 .11-.3 .14-1.25 0 .62 .07-1.25 0 .63 .07-1.26 0 .63 .07-1.25 0 .62 .07-1.25 0 .63 .07-1.25 0 .62 .06-1.17 .56 1.49 .2 1.24 0-.62 .09 1.24 0-.62 .1 1.25 0-.63 .1 1.25 0-.62 .09 1.24 0-.62 .1 1.24 0-.62 .1 1.25 0-.63 .06 1.04 .56-5.39 .31-12.53 .53 2.74 0 1.26 0-.63 0 1.26 0-.63 0 1.26 0-.63 0 1.26 0-.63 0 1.26 0-.63 0 6.08 .28 1.95 .36 1.21 0-.6 .18 1.2 0-.6 .18 1.21 0-.61 .12 .99 .43 1.18 0-.59 .21 1.18 0-.59 .22 1.19 0-.6 .21 1.19 0-.59 .05 .7 .1-.68 .11 .97 .11-.69 .11 1.04 .11-1.18 .11 .89 .11-1.08 .1 1.2 .11-.66 .08-1.26 0 .63 .04-1.26 0 .63 .03-1.25 0 .62 .04-1.25 0 .63 .04-1.26 0 .63 .03-1.26 0 .63 .04-1.26 0 .63 .04-1.26 0 .63 .04-1.26 0 .63 .03-1.26 0 .63 .07-2.04 0 .63 .02-1.26 0 .63 .03-1.26 0 .63 .03-1.26 0 .63 .02-1.26 0 .63 .03-1.26 0 .63 .03-1.26 0 .63 .01-.85 .07 1.25 0-.63 .04 1.26 0-.63 .03 1.26 0-.63 .04 1.26 0-.63 .01 .88 .7-2.42 .11-.57 .11 .89 .12-1.02 .11 1.33 .11-.82 .06 1.26 0-.63 .03 1.26 0-.63 .03 1.26 0-.63 .03 1.26 0-.63 .03 1.26 0-.63 .03 1.26 0-.63 .03 1.26 0-.63 .03 1.26 0-.63 .01 .83 .1-.56 .11 .93 .1-.76 .11 1.07 .1-.97 .11 1.11 .1-1.5 .11 .77 .19-1.24 0 .62 .09-1.25 0 .63 .09-1.25 0 .62 .1-1.24 0 .62 .09-1.25 0 .63 .09-1.25 0 .62 .05-.91 .42 4.65 .1-1.25 0 .62 .04-1.25 0 .63 .05-1.26 0 .63 .05-1.26 0 .63 .05-1.26 0 .63 .05-1.25 0 .62 .05-1.25 0 .63 .05-1.26 0 .63 .05-1.26 0 .63 .05-1.26 0 .63 .18-4.38 .25 3.31 .06 1.25 0-.62 .03 1.25 0-.63 .03 1.26 0-.63 .03 1.26 0-.63 .03 1.26 0-.63 .03 1.26 0-.63 .03 1.26 0-.63 .03 1.26 0-.63 .15 9.22 .56 4 .84-3.25 .06 1.26 0-.63 .03 1.26 0-.63 .03 1.26 0-.63 .03 1.26 0-.63 .03 1.26 0-.63 .03 1.26 0-.63 .03 1.25 0-.62 .04 1.25 0-.63 0 .74 .7-13.6 .7 14.16 .44-19.52 0 .63 .01-1.26 0 .63 .01-1.26 0 .63 .01-1.26 0 .63 .01-1.26 0 .63 .01-1.26 0 .63 .01-1.26 0 .63 .01-1.26 0 .63 .01-1.26 0 .63 .01-1.26 0 .63 .01-1.26 0 .63 .01-1.26 0 .63 .01-1.26 0 .63 .01-1.26 0 .63 .01-1.26 0 .63 .01-1.26 0 .63 .01-1.26 0 .63 .02-1.26 0 .63 .01-1.26 0 .63 .01-1.26 0 .63 0-.9 .04 1.26 0-.63 .02 1.25 0-.62 .02 1.25 0-.63 .02 1.26 0-.63 .02 1.26 0-.63 .02 1.26 0-.63 .02 1.26 0-.63 .02 1.26 0-.63 .02 1.26 0-.63 .02 1.26 0-.63 .02 1.26 0-.63 .02 1.26 0-.63 .02 1.26 0-.63 .02 1.26 0-.63 .02 1.26 0-.63 .02 1.26 0-.63 0 .64 .12 1.25 0-.63 .06 1.26 0-.63 .07 1.25 0-.62 .08 2.17 0-.63 .03 1.26 0-.63 .03 1.26 0-.63 .03 1.26 0-.63 .03 1.26 0-.63 .03 1.26 0-.63 .03 1.25 0-.62 .03 1.25 0-.63 .03 1.26 0-.63 .03 1.26 0-.63 .03 1.26 0-.63 .03 1.26 0-.63 .02 1.26 0-.63 .01 .85 .84-8.28 .7 10.71 .11 .55 .1-1 .11 .97 .1-1.27 .11 .96 .1-1.17 .11 1.34 .1-.66 .06-1.26 0 .63 .04-1.26 0 .63 .03-1.26 0 .63 .03-1.26 0 .63 .03-1.25 0 .62 .03-1.25 0 .63 .03-1.26 0 .63 .03-1.26 0 .63 .04-1.26 0 .63 .03-1.26 0 .63 .03-1.26 0 .63 .03-1.26 0 .63 .01-.83 .56-8.2 .07 1.26 0-.63 .04 1.26 0-.63 .04 1.26 0-.63 .04 1.26 0-.63 .03 1.25 0-.62 .04 1.25 0-.63 .04 1.26 0-.63 .03 1.26 0-.63 .04 1.26 0-.63 .04 1.26 0-.63 .01 .79 .19 1.24 0-.62 .09 1.25 0-.63 .09 1.25 0-.62 .1 1.24 0-.62 .09 1.25 0-.63 .09 1.25 0-.62 .1 1.24 0-.62 .09 1.24 0-.62 .09 1.25 0-.63 .05 .91 .66-6.08 .1 1.08 .09-1.3 .1 1.06 .1-1.07 .1 .74 .1-.47 .1 1.25 0-.62 .04 1.25 0-.63 .05 1.26 0-.63 .04 1.26 0-.63 .05 1.26 0-.63 .05 1.26 0-.63 .04 1.25 0-.62 .05 1.25 0-.63 .04 1.26 0-.63 .05 1.26 0-.63 .05 1.26 0-.63 0 .72 .1-.44 .1 1.55 .1-1.04 .1 1.45 .1-.93 .1 1.11 .1-.21 .09-1.26 0 .63 .04-1.26 0 .63 .04-1.26 0 .63 .04-1.25 0 .62 .04-1.25 0 .63 .04-1.26 0 .63 .05-1.26 0 .63 .04-1.26 0 .63 .04-1.26 0 .63 .04-1.26 0 .63 .02-.88 .36 4.29 .18 1.24 0-.62 .09 1.25 0-.63 .09 1.25 0-.62 .09 1.24 0-.62 .09 1.25 0-.63 .02 .8 .1-.53 .1 1 .1-1.08 .11 1.18 .1-.91 .1 .99 .1-1.04 .1 1.28 .1-1.13 .11 1.22 .28-1.95 0 .62 .1-1.24 0 .62 .09-1.24 0 .62 .1-1.25 0 .63 .09-1.23 .37 1.2 0-.6 .19 1.2 0-.6 .19 1.2 0-.6 .09 .89 .17-1.25 0 .62 .09-1.24 0 .62 .09-1.25 0 .63 .08-1.25 0 .62 .09-1.24 0 .62 .09-1.25 0 .63 .09-1.25 0 .62 .09-1.25 0 .63 .11-2.23 0 .63 .03-1.26 0 .63 .04-1.26 0 .63 .03-1.26 0 .63 .03-1.2 .36 6.52 .56 2.6 .15-1.25 0 .62 .08-1.25 0 .63 .07-1.25 0 .62 .08-1.25 0 .63 .07-1.25 0 .62 .08-1.25 0 .63 .03-.9 .22 1.24 0-.62 .12 1.24 0-.62 .11 1.24 0-.62 .11 1.24 0-.62 .11 1.24 0-.62 .11 1.24 0-.62 .06 .93 .25-1.23 0 .61 .13-1.23 0 .62 .13-1.24 0 .62 .12-1.24 0 .62 .13-1.23 0 .61 .08-1 .56 3.53 .58-13.87 .06 1.26 0-.63 .03 1.26 0-.63 .02 1.26 0-.63 .03 1.25 0-.62 .03 1.25 0-.63 .02 1.26 0-.63 .03 1.26 0-.63 .03 1.26 0-.63 .03 1.26 0-.63 .02 1.26 0-.63 .03 1.26 0-.63 .03 1.26 0-.63 .03 1.26 0-.63 0 .85 0-8.98 .3 12.91 .11-2.87 .11 2.71 .11-3.43 .11-1.34 .11-.68 .12 4.6 .11-.21 .11-5.01 .11-.74 .11 6.51 .11-6.08 .12-.76 .11-.21 .11 3.98 .11 1.31 .11-1.46 .11-2.87 .12 5.11 .11-5.42 .11 2.61 .11-2.39 .11 3.77 .11-.52 .11 .67 .12-3.16 .11 2.26 .11-.01 .11 1.09 .11-1.38 .11 .72 .12-1.7 .11 1.29 .11-.9 .11 6.23 .11-5.14 .11 4.3 .12-3.94 .11 5.63 .11-3.98 .11 2.04 .11-2.14 .11 5.11 .12-3.74 .11 3.81 .11-3.11 .11 4.13 .11-3.77 .11 2.8 .11-.68 .12-2.17 .11-.82 .11 .23 .11 4.19 .11-3.39 .11-1.18 .12 5.42 .11-3.71 .11-1.43 .11 4.34 .11 .74 .11-2.49 .12 2.7 .11-4.01 .11 .16 .11-2.14 .11 5.24 .11-.56 .12-.93 .11-2.57 .11 1.67 .11-2.88 .11 3.83 .07-21.22 .15 21.15 .12-2.17 .22-1.79 .11 3.95 .11-3.62 .11 3.24 .12-2.11 .11 2.86 .11-4.46 .11 5.29 .11-3.55 .11 3.4 .12-4.57 .11 4.78 .22-1.87 .11-3.45 .11 5.09 .12-4.55 .11 2.98 .11-2.52 .11-.25 .11-1.63 .11 3.69 .11-4.32 .12 3.19 .11-2.86 .11 2.86 .11-2.81 .22 2.46 .12 .64 .11-2.48 .11 2.46 .11-2.54 .11 2.69 .11-.62 .1-7.38 .13 5.88 .11 2.06 .11-2.22 .11 2.02 .11-1.84 .12 1.56 .11-.98 .11 2.04 .11-1.37 .11 .92 .11-1.24 .11 4.34 .12-.01 .22 3.06 .11 .18 .11-4.29 .11 4.85 .12-5.6 .11 5.64 .11-6.69 .11 2.5 .11-1.2 .11 6.08 .12-5.19 .11-1.03 .11 .77 .11 5.49 .11-5.19 .11 3.8 .12-4.35 .11 5.4 .11-5.72 .11 6.06 .11-6 .11 7.18 .23-6.32 .13-13.8 .09 13.38 .11 3.95 .11 1.34 .11-8.24 .12 5.57 .11-2.62 .11 2.63 .11-7.19 .11 5.89 .11-6.66 .12 6.66 .11-6.39 .11-1.05 .11 6.41 .11-5.93 .11 1.54 .12 .02 .11-1.73 .11 8.07 .11-7.91 .11 5.23 .11-5.04 .11 7.27 .12-7.2 .11 6.82 .11-6.44 .11 .66 .11-.33 .11 3.87 .12-3.11 .11 4.88 .11-3.56 .11 4.27 .11-5.62 .11 4.87 .12-3.09 .11 2.98 .11-4.21 .11 4.75 .06-13.34 .16 13.19 .12-3.32 .11-.02 .11 3.16 .11 .26 .11-3.41 .11 3.02 .11-2.83 .12 3.34 .11-4.37 .11 1.26 .11 2.36 .11-.37 .11-3.2 .12 4.13 .11-3.62 .11 .66 .11 1.67 .11-1.52 .11-.54 .12 1.91 .11-2.26 .11 4.82 .11-5.07 .11 2.36 .11-1.13 .12-.1 .22 4.17 .11-.78 .11 .59 .11 .06 .11-4.69 .12 .52 .11 1.51 .11-1.61 .11 5.44 .11-.28 .1-11.4 .24 11.88 .11-4.63 .11-.34 .11-.17 .11 5.78 .12-2.61 .11 2.95 .11-3.88 .11 2.81 .11-2.96 .11 3.94 .12-6.07 .11 6.54 .11-6.46 .22 5.29 .11-.62 .11-5.32 .12 1.03 .11-1.24 .11 7.46 .11-4.68 .11-2.03 .11 1.15 .12 5.39 .11-5.14 .11 4.51 .11-5.71 .22 2.65 .12 2.47 .11-4.15 .11 4.99 .11-4.49 .11-2.17 .11 1.07 .12 5.96 .11-7.46 .11 6.07 .11-3.33 .11-.5 .11-.15 .11 5.33 .12-4.23 .11 6.53 .11-7.39 .11 7.75 .11-6.42 .11 6.31 .12-6.4 .11 5.82 .11-2.01 .22-1.61 .11 2.48 .12 1.34 .11-5.1 .11 .52 .11 3.02 .11-3.24 .11 4.5 .12-.91 .11-.03 .11-4.1 .11 4.71 .11-1.14 .11 .98 .11-3.92 .12 3.58 .11-2.92 .11 2.97 .11-4.91 .11 4.55 .11-3.64 .23 3.36 .16-17.1 .06 12.12 .11-.37 .11 .02 .12 5.1 .11-5.39 .11 4.11 .11-1.73 .11 2.64 .11-5.47 .12 2.35 .22-1.33 .11 3.64 .11-2.04 .11 .48 .11 2.92 .12-3.63 .11 3.01 .11-2.56 .11 1.25 .11-.64 .11 .4 .12-1.4 .11 3.54 .11-3.2 .11 2.36 .11-1.75 .23-1.29 .11 3.89 .11-4.02 .11 3.16 .11-2.86 .11 4.05 .12-2.37 .11 2.47 .11-3.53 .11 3.72 .11-4.62 .09-10.8 .13 12.16 .12 4.88 .11-3.78 .11 1.85 .11-4.36 .11 6.03 .11-6.13 .12 5.73 .11-3.47 .11 5.15 .11-6.37 .11 6.34 .34-4.24 .22-1.76 .11 1.6 .11-.07 .12 5.17 .11-6.97 .11 6.37 .11-6.19 .11 5 .11 .8 .11-.05 .12-7.26 .11 5.29 .11-.15 .11 1.29 .11-6.58 .11 6.78 .12-7.29 .11 6.8 .11-2.18 .11 2.52 .11-3.44 .11-.3 .13-10.37 .1 13.82 .11-4.89 .11 5.22 .11-7.58 .11 6.4 .12-6.88 .11 7.71 .11-5.92 .11 1.51 .11-2.01 .11 5.31 .11-.89 .12 2.46 .11-5.91 .11 7.02 .11-5.98 .11 6.58 .11-4.89 .12 3.49 .11 1.13 .11 .26 .11-5.46 .11 3.09 .11-2.97 .12 4.63 .11-4.45 .11 5.73 .11-5.55 .11 6.89 .11-6.67 .12 4.73 .11 2.45 .11-.38 .11-2.31 .11-5.98 .11 6.88 .11 .69 .12-12.01 .11 3.03 .08-8.86 .14 16.22 .11-8.64 .11 8.62 .12-10.26 .11 8.36 .11-5.98 .11 4.56 .11-6.83 .11 4.88 .12 .69 .11-.61 .11-3.79 .11 4.36 .11-5.48 .11 5.39 .12-3.52 .11-1.85 .11 3.36 .11 1.73 .11-3.85 .11-1.21 .11 1.92 .12 3.35 .11-1.93 .11 1.66 .11-4.47 .11 4.03 .11-3.4 .12 2.27 .11-2.81 .11 3.89 .11-2.79 .11 4.66 .11-6.73 .12 .34 .11 4.74 .11-3.42 .11-.8 .11 9.41 .11-7.05 .12 9.62 .11-10.18 .11 10.14 .11-9.76 .11 7.47 .11-6.41 .11 5.9 .12-5.94 .11 4.16 .11-4.48 .11 5.61 .11 2.19 .11-5.6 .12-.29 .11 5.93 .11 .24 .11-.38 .11-5.81 .11 6.34 .12-6.06 .11 6.15 .11-5.67 .11 5.51 .11-6.17 .11 .35 .12 4.21 .11 1.22 .11-2.1 .11 2.56 .11-5.35 .11 5.44 .11-5.19 .12-1.38 .11-.87 .11 5.34 .11-3.82 .11-1.06 .13-13.62 .1 14.69 .11-1.63 .11 7.24 .11-6.73 .11 2.72 .11-2.86 .12 7.96 .11-.6 .11 1.2 .11-7.31 .11 4.4 .11-5.85 .12 5.47 .11-5.19 .11 4.09 .11-3.85 .11 2.19 .11-.21 .11 .82 .12-1.77 .11 1.27 .11-1.15 .11 .99 .11-.5 .11 .25 .12-.21 .11 .44 .11-1.15 .11 1.45 .11-2.26 .11 2.44 .12-1.68 .11 2.28 .11-6.04 .11 1.06 .11-2.02 .11 .99 .12 3.42 .11-3.49 .11 1.15 .11 5.91 .11-9.36 .11 5.65 .11-4.39 .12 6.53 .11-5.3 .11 4.67 .11-6.49 .11 5.08 .11-2.65 .12 2.16 .11-4.65 .11 4.36 .11-1.02 .11 .18 .11-3.66 .12 4.66 .11-1.27 .11 2.56 .11-4.98 .11 1.52 .11-2.08 .12 5.64 .11-1.66 .11 .95 .11-4.14 .11 5.58 .11-5.95 .11 4.1 .12-4.08 .11 5.33 .11-4.77 .11 3.96 .11-4.11 .11 5.44 .12-5.43 .11 5.49 .11-4.17 .09-11.49 .13 10.56 .11 1.2 .12 .05 .11 4.05 .11-3.96 .11 4.5 .11-3.95 .11 5.74 .12-5.92 .11 5.18 .11-1.4 .11 3.34 .11-6.91 .11 7.12 .11-7.27 .12 5.59 .11-3.3 .11 5.21 .11-6.46 .11 7.09 .23-1.84 .11-6.38 .11 .08 .11 2.62 .22-2.46 .12 6.89 .22-.6 .11-5.19 .11 4.24 .11-5.18 .12 5.63 .11-5.23 .11 .99 .11-1.29 .11 5.96 .15-14.37 .07 15.36 .12 .25 .11 1.32 .11-5.24 .11 6.97 .11-2.03 .11-.23 .12-3.6 .11 6.38 .11-6.73 .11 4.77 .11 1.01 .11 .59 .12-5.85 .11 5.91 .11-5.9 .11 4.97 .11-4.94 .11 6.16 .12-4.22 .11-.04 .11-1.94 .11 5.92 .11-6.08 .11 5.35 .11-5.27 .12 7.16 .11-6.57 .11 4.75 .11-5.07 .11 5.39 .11-5.76 .12 6.4 .11-7.12 .11-.45 .11 1.15 .11 4.6 .11-5.32 .12 .07 .07-13.24 .15 17.15 .11-7.94 .11 6.84 .11-6.79 .12 2.29 .11-2.17 .11 5.15 .11 .04 .11-5.21 .11 .19 .11 8.53 .12-7.86 .11 5.98 .11-5.19 .11 5.98 .11-4.18 .11 3.51 .12-2.94 .11 5.58 .11-6.78 .11 6.01 .11-.91 .11 2 .12-4.89 .11 4.1 .11-.7 .11 1.22 .11-6.93 .11 6.74 .12-5.5 .11-2.29 .22 4.51 .11-2.48 .11 .72 .11-1.47 .12 4.94 .11-5.12 .11-10.59 .22 14.13 .11-6.55 .12 5.9 .11 .28 .11-.93 .11-5.11 .11 5.24 .11-5.96 .12 3.48 .11-2.87 .11 3.09 .11-2.64 .11 4.79 .11-2.07 .12 1.19 .11-3.51 .11 .89 .11-.89 .11 6.39 .11-5.82 .11 6.19 .12-2.3 .11-.17 .11-3.47 .11 6.08 .11-4.52 .11 3.29 .12-4.37 .11 4.57 .11-4.55 .11 .36 .11-.35 .11 4.76 .12-2.45 .11 4.64 .11 .01 .11 .38 .15-16.43 .07 16.02 .12 1.06 .11-5.89 .11 .22 .11 4.73 .22 1.17 .11-3.87 .12 4.21 .22-2.26 .11 1.29 .11-2.09 .11 4.65 .12 2.28 .11-7.68 .11 6.23 .11-6.32 .11 8.28 .11-6.29 .12 4.61 .11-6.02 .11-.19 .11 .92 .11 6.11 .11-7.26 .12 6.64 .11-2.53 .11 4.52 .11-8.52 .11 9.85 .11-4.86 .11-2.68 .12-1.58 .11 5.57 .11 2.6 .11 .39 .11-13.24 .11 11.17 .08-17.89 .15 13.24 .11-8.27 .11 5.29 .11 1.64 .11-5.22 .12-.04 .11 1.64 .11-.01 .11 2.79 .11-.19 .11 1.25 .12-3.54 .11 4.84 .11-3.4 .11 4.88 .11-5.87 .11 5.85 .11-3.35 .12 1.57 .11-4.08 .11 8.96 .11-7.48 .11 7.18 .11-9.1 .12 9.44 .11-6.86 .11 5.94 .11 .6 .11-8.9 .11-.9 .12 7 .11-1.07 .11 2.73 .11-.58 .11-8.57 .11-.96 .12 3.05 .11-5.03 .11 5.95 .11 2.5 .11-1.68 .11-7.33 .11 9.47 .12-6.8 .11 .19 .11-3.05 .11 7.66 .11-5.99 .11 8.14 .12-7.36 .11 6.83 .11-8.89 .11 3.05 .11-2.83 .11 5.24 .12-3.36 .11 4.24 .11-1.14 .11 2.76 .11-7.64 .11 5.34 .12-4.96 .11 6.56 .11-2 .11 2.21 .11-4.29 .11 4.37 .11-5.75 .12 1.95 .11-2.32 .11 5.96 .11-5.75 .11 4.42 .11-4.76 .12 5.73 .11-4.56 .11 4.6 .14-11.6 .08 9.23 .11 2.61 .12-.16 .11-.62 .11-2.75 .11-1.72 .11 4.81 .11-3.26 .12 3.14 .11-4.09 .11 3.48 .11-3.14 .11 3.84 .11-3.64 .11 4.66 .12-6.21 .11 6.85 .11-4.29 .11 5.38 .11-5.69 .11 6.46 .12-7.88 .11 8.78 .11-8.12 .11 8.77 .11-6.96 .11 .74 .12-2.98 .11 10.14 .11-9.56 .11 8.18 .11-8.27 .11 .45 .12 .84 .11 7.13 .11-7.07 .11 9.9 .11-9.21 .11 8.87 .07-15.56 .16 13.36 .11-9.02 .11 9.47 .11-8.27 .11 5.38 .11-5.77 .12 4.27 .11-1.96 .11 3 .11 1.85 .11-.64 .11-4.07 .12-.36 .11-1.46 .11 4.17 .11-3.71 .11 3.92 .11-4.64 .12 4.92 .11 1.05 .11 .23 .11-5.67 .11 4.15 .11-3.4 .11 4.88 .12-.77 .11-3.4 .11-.54 .11 4.85 .11-.52 .11 1.5 .12-5.08 .11 5.7 .11-4.32 .11 3.8 .11-6.79 .11 7.49 .12 .1 .12-15.13 .1 12.67 .11 .83 .11-1.9 .11-.22 .12 .11 .11-.19 .11 4.97 .11 .09 .11-4.97 .11 4.87 .11-.61 .12-3.16 .11-.73 .22 1.24 .11 .87 .11-.91 .12 3.52 .11-3.72 .11 3.54 .11-2.23 .11 2.43 .11-4.25 .12 3.7 .11-3.63 .11 3.95 .11-3.92 .11 2.98 .11-2.72 .23 2.87 .11 .33 .11-3.2 .11 3.04 .11-2.02 .11 1.19 .12-2.31 .11 2.17 .16-18.18 .06 15.36 .11 .32 .11 3.43 .12-3.87 .11 4.06 .11-5.06 .11 4.77 .11-4.36 .11-.37 .23 2.92 .11-4.55 .11 6.37 .11-6.37 .11-.21 .12 1.83 .11 4.8 .11-4.81 .11 6.1 .11-8.02 .11 5.67 .11-5.43 .12 .28 .11 1.93 .11 3.3 .11-4.67 .11 5.89 .11-7.95 .12 8.38 .11-1.72 .11 2.08 .11-4.35 .11 1.03 .11-5.94 .12 8.39 .11-7.99 .11 6.49 .11-3.1 .11 3.7 .09-19.72 .14 19.85 .11-8.34 .11 7.08 .11-7.33 .11 6.77 .11-5.29 .11 1.1 .12-.65 .11 4.84 .11-4.65 .11 4.09 .11-6.32 .11 4.4 .12-4.53 .11 4.51 .11-4.58 .11 3.68 .11-3.78 .11 5.85 .12-3.82 .22-2.18 .11 1.24 .11-.33 .11 4.3 .12-3.65 .11 3.57 .11-4.8 .11 4.83 .11-4.71 .11 4.29 .11-3.28 .12 2.12 .11-2.77 .11 2.31 .11-2.15 .11 4.86 .11-4.1 .13-7.54 .1 7.93 .11 4.33 .11-.03 .11 1.86 .11-4.76 .12 5.31 .11-3.07 .11 4.49 .11-5.58 .11 5.71 .11-4.14 .12 2.61 .11-2.68 .11 2.22 .11-.69 .11 .67 .11-2.13 .11-.97 .12-.18 .11 5.07 .11-5.91 .11 5.21 .11-5.3 .11 4.58 .12-.38 .22-5.72 .11 3.25 .11-3.85 .11 2.35 .12-2.85 .11 4.56 .11-3.89 .11 5.15 .11-1.48 .11 .11 .12-2.88 .11 1.72 .06-.63" clip-path="url(#p6d096c0628)" style="fill: none; stroke-dasharray: 5.55,2.4; stroke-dashoffset: 0; stroke: #0000ff; stroke-width: 1.5"/>
   </g>
   <g id="patch_3">
    <path d="M 47.016 309.762 
L 47.016 19.89 
" style="fill: none; stroke: #000000; stroke-width: 0.8; stroke-linejoin: miter; stroke-linecap: square"/>
   </g>
   <g id="patch_4">
    <path d="M 336.708 309.762 
L 336.708 19.89 
" style="fill: none; stroke: #000000; stroke-width: 0.8; stroke-linejoin: miter; stroke-linecap: square"/>
   </g>
   <g id="patch_5">
    <path d="M 47.016 309.762 
L 336.708 309.762 
" style="fill: none; stroke: #000000; stroke-width: 0.8; stroke-linejoin: miter; stroke-linecap: square"/>
   </g>
   <g id="patch_6">
    <path d="M 47.016 19.89 
L 336.708 19.89 
" style="fill: none; stroke: #000000; stroke-width: 0.8; stroke-linejoin: miter; stroke-linecap: square"/>
   </g>
   <g id="legend_1">
    <g id="patch_7">
     <path d="M 262.370 86.602 
L 329.708 86.602 
Q 331.708 86.602 331.708 84.602 
L 331.708 26.89 
Q 331.708 24.89 329.708 24.89 
L 262.370 24.89 
Q 260.370 24.89 260.370 26.89 
L 260.370 84.602 
Q 260.370 86.602 262.370 86.602 
z
" style="fill: #ffffff; stroke: #cccccc; stroke-linejoin: miter"/>
    </g>
    <g id="line2d_78">
     <path d="M 264.370 32.988 
L 274.370 32.988 
L 284.370 32.988 
" style="fill: none; stroke-dasharray: 5.55,2.4; stroke-dashoffset: 0; stroke: #ff0000; stroke-width: 1.5"/>
    </g>
    <g id="text_16">
     <g transform="translate(292.370 36.488) scale(0.1 -0.1)">
      <defs>
       <path id="DejaVuSans-4d" d="M 628 4666 
L 1569 4666 
L 2759 1491 
L 3956 4666 
L 4897 4666 
L 4897 0 
L 4281 0 
L 4281 4097 
L 3078 897 
L 2444 897 
L 1241 4097 
L 1241 0 
L 628 0 
L 628 4666 
z
" transform="scale(0.015)"/>
       <path id="DejaVuSans-78" d="M 3513 3500 
L 2247 1797 
L 3578 0 
L 2900 0 
L 1881 1375 
L 863 0 
L 184 0 
L 1544 1831 
L 300 3500 
L 978 3500 
L 1906 2253 
L 2834 3500 
L 3513 3500 
z
" transform="scale(0.015)"/>
      </defs>
      <use href="#DejaVuSans-4d"/>
      <use href="#DejaVuSans-61" transform="translate(86.279 0)"/>
      <use href="#DejaVuSans-78" transform="translate(147.558 0)"/>
     </g>
    </g>
    <g id="line2d_79">
     <path d="M 264.370 47.666 
L 274.370 47.666 
L 284.370 47.666 
" style="fill: none; stroke: #000000; stroke-width: 1.5; stroke-linecap: square"/>
    </g>
    <g id="text_17">
     <g transform="translate(292.370 51.166) scale(0.1 -0.1)">
      <defs>
       <path id="DejaVuSans-6e" d="M 3513 2113 
L 3513 0 
L 2938 0 
L 2938 2094 
Q 2938 2591 2744 2837 
Q 2550 3084 2163 3084 
Q 1697 3084 1428 2787 
Q 1159 2491 1159 1978 
L 1159 0 
L 581 0 
L 581 3500 
L 1159 3500 
L 1159 2956 
Q 1366 3272 1645 3428 
Q 1925 3584 2291 3584 
Q 2894 3584 3203 3211 
Q 3513 2838 3513 2113 
z
" transform="scale(0.015)"/>
      </defs>
      <use href="#DejaVuSans-4d"/>
      <use href="#DejaVuSans-65" transform="translate(86.279 0)"/>
      <use href="#DejaVuSans-61" transform="translate(147.802 0)"/>
      <use href="#DejaVuSans-6e" transform="translate(209.082 0)"/>
     </g>
    </g>
    <g id="line2d_80">
     <path d="M 264.370 62.344 
L 274.370 62.344 
L 284.370 62.344 
" style="fill: none; stroke-dasharray: 5.55,2.4; stroke-dashoffset: 0; stroke: #0000ff; stroke-width: 1.5"/>
    </g>
    <g id="text_18">
     <g transform="translate(292.370 65.844) scale(0.1 -0.1)">
      <use href="#DejaVuSans-4d"/>
      <use href="#DejaVuSans-69" transform="translate(86.279 0)"/>
      <use href="#DejaVuSans-6e" transform="translate(114.062 0)"/>
     </g>
    </g>
    <g id="patch_8">
     <path d="M 264.370 80.522 
L 284.370 80.522 
L 284.370 73.522 
L 264.370 73.522 
z
" style="fill: #929292; stroke: #929292; stroke-linejoin: miter"/>
    </g>
    <g id="text_19">
     <g transform="translate(292.370 80.522) scale(0.1 -0.1)">
      <defs>
       <path id="DejaVuSans-39" d="M 703 97 
L 703 672 
Q 941 559 1184 500 
Q 1428 441 1663 441 
Q 2288 441 2617 861 
Q 2947 1281 2994 2138 
Q 2813 1869 2534 1725 
Q 2256 1581 1919 1581 
Q 1219 1581 811 2004 
Q 403 2428 403 3163 
Q 403 3881 828 4315 
Q 1253 4750 1959 4750 
Q 2769 4750 3195 4129 
Q 3622 3509 3622 2328 
Q 3622 1225 3098 567 
Q 2575 -91 1691 -91 
Q 1453 -91 1209 -44 
Q 966 3 703 97 
z
M 1959 2075 
Q 2384 2075 2632 2365 
Q 2881 2656 2881 3163 
Q 2881 3666 2632 3958 
Q 2384 4250 1959 4250 
Q 1534 4250 1286 3958 
Q 1038 3666 1038 3163 
Q 1038 2656 1286 2365 
Q 1534 2075 1959 2075 
z
" transform="scale(0.015)"/>
       <path id="DejaVuSans-25" d="M 4653 2053 
Q 4381 2053 4226 1822 
Q 4072 1591 4072 1178 
Q 4072 772 4226 539 
Q 4381 306 4653 306 
Q 4919 306 5073 539 
Q 5228 772 5228 1178 
Q 5228 1588 5073 1820 
Q 4919 2053 4653 2053 
z
M 4653 2450 
Q 5147 2450 5437 2106 
Q 5728 1763 5728 1178 
Q 5728 594 5436 251 
Q 5144 -91 4653 -91 
Q 4153 -91 3862 251 
Q 3572 594 3572 1178 
Q 3572 1766 3864 2108 
Q 4156 2450 4653 2450 
z
M 1428 4353 
Q 1159 4353 1004 4120 
Q 850 3888 850 3481 
Q 850 3069 1003 2837 
Q 1156 2606 1428 2606 
Q 1700 2606 1854 2837 
Q 2009 3069 2009 3481 
Q 2009 3884 1853 4118 
Q 1697 4353 1428 4353 
z
M 4250 4750 
L 4750 4750 
L 1831 -91 
L 1331 -91 
L 4250 4750 
z
M 1428 4750 
Q 1922 4750 2215 4408 
Q 2509 4066 2509 3481 
Q 2509 2891 2217 2550 
Q 1925 2209 1428 2209 
Q 931 2209 642 2551 
Q 353 2894 353 3481 
Q 353 4063 643 4406 
Q 934 4750 1428 4750 
z
" transform="scale(0.015)"/>
       <path id="DejaVuSans-43" d="M 4122 4306 
L 4122 3641 
Q 3803 3938 3442 4084 
Q 3081 4231 2675 4231 
Q 1875 4231 1450 3742 
Q 1025 3253 1025 2328 
Q 1025 1406 1450 917 
Q 1875 428 2675 428 
Q 3081 428 3442 575 
Q 3803 722 4122 1019 
L 4122 359 
Q 3791 134 3420 21 
Q 3050 -91 2638 -91 
Q 1578 -91 968 557 
Q 359 1206 359 2328 
Q 359 3453 968 4101 
Q 1578 4750 2638 4750 
Q 3056 4750 3426 4639 
Q 3797 4528 4122 4306 
z
" transform="scale(0.015)"/>
       <path id="DejaVuSans-49" d="M 628 4666 
L 1259 4666 
L 1259 0 
L 628 0 
L 628 4666 
z
" transform="scale(0.015)"/>
      </defs>
      <use href="#DejaVuSans-39"/>
      <use href="#DejaVuSans-35" transform="translate(63.623 0)"/>
      <use href="#DejaVuSans-25" transform="translate(127.246 0)"/>
      <use href="#DejaVuSans-20" transform="translate(222.265 0)"/>
      <use href="#DejaVuSans-43" transform="translate(254.052 0)"/>
      <use href="#DejaVuSans-49" transform="translate(323.876 0)"/>
     </g>
    </g>
   </g>
  </g>
 </g>
 <defs>
  <clipPath id="p6d096c0628">
   <rect x="47.016" y="19.89" width="289.692" height="289.872"/>
  </clipPath>
 </defs>
</svg>

</body></html>
